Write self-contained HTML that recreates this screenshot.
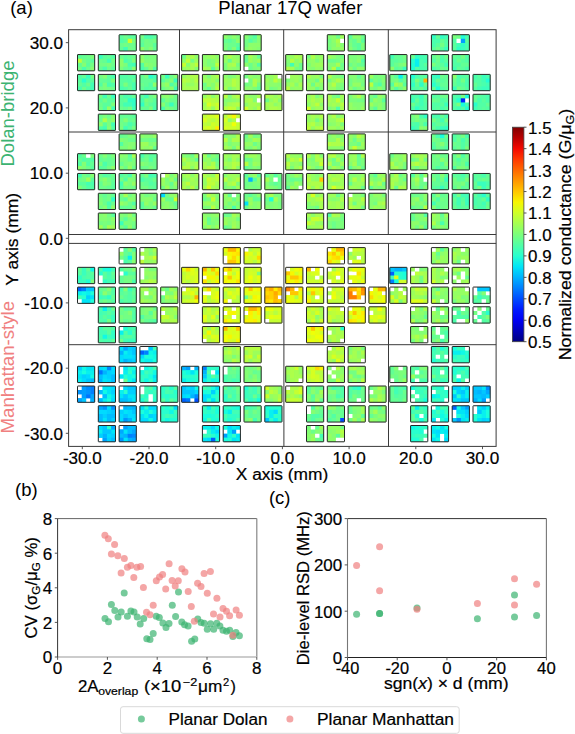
<!DOCTYPE html><html><head><meta charset="utf-8"><title>Planar 17Q wafer</title><style>
html,body{margin:0;padding:0;background:#fff;overflow:hidden}svg{display:block}
text{font-family:"Liberation Sans",sans-serif;fill:#000}.d{stroke:#000;stroke-width:0.2px}
</style></head><body>
<svg width="575" height="734" viewBox="0 0 575 734">
<defs><linearGradient id="cb" x1="0" y1="0" x2="0" y2="1"><stop offset="0.000" stop-color="#800000"/><stop offset="0.050" stop-color="#b90000"/><stop offset="0.100" stop-color="#f30900"/><stop offset="0.150" stop-color="#ff3900"/><stop offset="0.200" stop-color="#ff6800"/><stop offset="0.250" stop-color="#ff9700"/><stop offset="0.300" stop-color="#ffc600"/><stop offset="0.350" stop-color="#f7f600"/><stop offset="0.400" stop-color="#ceff29"/><stop offset="0.450" stop-color="#a5ff52"/><stop offset="0.500" stop-color="#7bff7b"/><stop offset="0.550" stop-color="#52ffa5"/><stop offset="0.600" stop-color="#29ffce"/><stop offset="0.650" stop-color="#00e5f7"/><stop offset="0.700" stop-color="#00b3ff"/><stop offset="0.750" stop-color="#0080ff"/><stop offset="0.800" stop-color="#004cff"/><stop offset="0.850" stop-color="#001aff"/><stop offset="0.900" stop-color="#0000f3"/><stop offset="0.950" stop-color="#0000b9"/><stop offset="1.000" stop-color="#000080"/></linearGradient></defs>
<rect x="119.10" y="34.70" width="17.20" height="16.30" fill="#63ff94"/>
<rect x="139.90" y="34.70" width="17.20" height="16.30" fill="#6bff8c"/>
<rect x="77.50" y="54.55" width="17.20" height="16.30" fill="#6bff8c"/>
<rect x="98.30" y="54.55" width="17.20" height="16.30" fill="#63ff94"/>
<rect x="119.10" y="54.55" width="17.20" height="16.30" fill="#73ff84"/>
<rect x="139.90" y="54.55" width="17.20" height="16.30" fill="#73ff84"/>
<rect x="77.50" y="74.40" width="17.20" height="16.30" fill="#52ffa5"/>
<rect x="98.30" y="74.40" width="17.20" height="16.30" fill="#63ff94"/>
<rect x="119.10" y="74.40" width="17.20" height="16.30" fill="#52ffa5"/>
<rect x="139.90" y="74.40" width="17.20" height="16.30" fill="#5aff9c"/>
<rect x="160.70" y="74.40" width="17.20" height="16.30" fill="#73ff84"/>
<rect x="98.30" y="94.25" width="17.20" height="16.30" fill="#5aff9c"/>
<rect x="119.10" y="94.25" width="17.20" height="16.30" fill="#52ffa5"/>
<rect x="139.90" y="94.25" width="17.20" height="16.30" fill="#5aff9c"/>
<rect x="160.70" y="94.25" width="17.20" height="16.30" fill="#6bff8c"/>
<rect x="98.30" y="114.10" width="17.20" height="16.30" fill="#6bff8c"/>
<rect x="119.10" y="114.10" width="17.20" height="16.30" fill="#63ff94"/>
<rect x="223.20" y="34.70" width="17.20" height="16.30" fill="#7bff7b"/>
<rect x="244.00" y="34.70" width="17.20" height="16.30" fill="#7bff7b"/>
<rect x="181.60" y="54.55" width="17.20" height="16.30" fill="#94ff63"/>
<rect x="202.40" y="54.55" width="17.20" height="16.30" fill="#8cff6b"/>
<rect x="223.20" y="54.55" width="17.20" height="16.30" fill="#8cff6b"/>
<rect x="244.00" y="54.55" width="17.20" height="16.30" fill="#7bff7b"/>
<rect x="181.60" y="74.40" width="17.20" height="16.30" fill="#a5ff52"/>
<rect x="202.40" y="74.40" width="17.20" height="16.30" fill="#94ff63"/>
<rect x="223.20" y="74.40" width="17.20" height="16.30" fill="#94ff63"/>
<rect x="244.00" y="74.40" width="17.20" height="16.30" fill="#7bff7b"/>
<rect x="264.80" y="74.40" width="17.20" height="16.30" fill="#8cff6b"/>
<rect x="202.40" y="94.25" width="17.20" height="16.30" fill="#b5ff42"/>
<rect x="223.20" y="94.25" width="17.20" height="16.30" fill="#a5ff52"/>
<rect x="244.00" y="94.25" width="17.20" height="16.30" fill="#a5ff52"/>
<rect x="264.80" y="94.25" width="17.20" height="16.30" fill="#a5ff52"/>
<rect x="202.40" y="114.10" width="17.20" height="16.30" fill="#ceff29"/>
<rect x="223.20" y="114.10" width="17.20" height="16.30" fill="#bdff3a"/>
<rect x="327.30" y="34.70" width="17.20" height="16.30" fill="#84ff73"/>
<rect x="348.10" y="34.70" width="17.20" height="16.30" fill="#6bff8c"/>
<rect x="285.70" y="54.55" width="17.20" height="16.30" fill="#8cff6b"/>
<rect x="306.50" y="54.55" width="17.20" height="16.30" fill="#94ff63"/>
<rect x="327.30" y="54.55" width="17.20" height="16.30" fill="#7bff7b"/>
<rect x="348.10" y="54.55" width="17.20" height="16.30" fill="#7bff7b"/>
<rect x="285.70" y="74.40" width="17.20" height="16.30" fill="#94ff63"/>
<rect x="306.50" y="74.40" width="17.20" height="16.30" fill="#8cff6b"/>
<rect x="327.30" y="74.40" width="17.20" height="16.30" fill="#8cff6b"/>
<rect x="348.10" y="74.40" width="17.20" height="16.30" fill="#7bff7b"/>
<rect x="368.90" y="74.40" width="17.20" height="16.30" fill="#7bff7b"/>
<rect x="306.50" y="94.25" width="17.20" height="16.30" fill="#9cff5a"/>
<rect x="327.30" y="94.25" width="17.20" height="16.30" fill="#94ff63"/>
<rect x="348.10" y="94.25" width="17.20" height="16.30" fill="#84ff73"/>
<rect x="368.90" y="94.25" width="17.20" height="16.30" fill="#7bff7b"/>
<rect x="306.50" y="114.10" width="17.20" height="16.30" fill="#9cff5a"/>
<rect x="327.30" y="114.10" width="17.20" height="16.30" fill="#94ff63"/>
<rect x="431.40" y="34.70" width="17.20" height="16.30" fill="#52ffa5"/>
<rect x="452.20" y="34.70" width="17.20" height="16.30" fill="#4affad"/>
<rect x="389.80" y="54.55" width="17.20" height="16.30" fill="#6bff8c"/>
<rect x="410.60" y="54.55" width="17.20" height="16.30" fill="#42ffb5"/>
<rect x="431.40" y="54.55" width="17.20" height="16.30" fill="#5aff9c"/>
<rect x="452.20" y="54.55" width="17.20" height="16.30" fill="#5aff9c"/>
<rect x="389.80" y="74.40" width="17.20" height="16.30" fill="#63ff94"/>
<rect x="410.60" y="74.40" width="17.20" height="16.30" fill="#52ffa5"/>
<rect x="431.40" y="74.40" width="17.20" height="16.30" fill="#52ffa5"/>
<rect x="452.20" y="74.40" width="17.20" height="16.30" fill="#5aff9c"/>
<rect x="473.00" y="74.40" width="17.20" height="16.30" fill="#4affad"/>
<rect x="410.60" y="94.25" width="17.20" height="16.30" fill="#52ffa5"/>
<rect x="431.40" y="94.25" width="17.20" height="16.30" fill="#5aff9c"/>
<rect x="452.20" y="94.25" width="17.20" height="16.30" fill="#4affad"/>
<rect x="473.00" y="94.25" width="17.20" height="16.30" fill="#52ffa5"/>
<rect x="410.60" y="114.10" width="17.20" height="16.30" fill="#5aff9c"/>
<rect x="431.40" y="114.10" width="17.20" height="16.30" fill="#5aff9c"/>
<rect x="119.10" y="133.90" width="17.20" height="16.30" fill="#7bff7b"/>
<rect x="139.90" y="133.90" width="17.20" height="16.30" fill="#7bff7b"/>
<rect x="77.50" y="153.68" width="17.20" height="16.30" fill="#63ff94"/>
<rect x="98.30" y="153.68" width="17.20" height="16.30" fill="#63ff94"/>
<rect x="119.10" y="153.68" width="17.20" height="16.30" fill="#7bff7b"/>
<rect x="139.90" y="153.68" width="17.20" height="16.30" fill="#6bff8c"/>
<rect x="77.50" y="173.46" width="17.20" height="16.30" fill="#73ff84"/>
<rect x="98.30" y="173.46" width="17.20" height="16.30" fill="#63ff94"/>
<rect x="119.10" y="173.46" width="17.20" height="16.30" fill="#6bff8c"/>
<rect x="139.90" y="173.46" width="17.20" height="16.30" fill="#63ff94"/>
<rect x="160.70" y="173.46" width="17.20" height="16.30" fill="#84ff73"/>
<rect x="98.30" y="193.24" width="17.20" height="16.30" fill="#6bff8c"/>
<rect x="119.10" y="193.24" width="17.20" height="16.30" fill="#73ff84"/>
<rect x="139.90" y="193.24" width="17.20" height="16.30" fill="#7bff7b"/>
<rect x="160.70" y="193.24" width="17.20" height="16.30" fill="#7bff7b"/>
<rect x="98.30" y="213.02" width="17.20" height="16.30" fill="#7bff7b"/>
<rect x="119.10" y="213.02" width="17.20" height="16.30" fill="#73ff84"/>
<rect x="223.20" y="133.90" width="17.20" height="16.30" fill="#9cff5a"/>
<rect x="244.00" y="133.90" width="17.20" height="16.30" fill="#8cff6b"/>
<rect x="181.60" y="153.68" width="17.20" height="16.30" fill="#94ff63"/>
<rect x="202.40" y="153.68" width="17.20" height="16.30" fill="#8cff6b"/>
<rect x="223.20" y="153.68" width="17.20" height="16.30" fill="#94ff63"/>
<rect x="244.00" y="153.68" width="17.20" height="16.30" fill="#84ff73"/>
<rect x="181.60" y="173.46" width="17.20" height="16.30" fill="#9cff5a"/>
<rect x="202.40" y="173.46" width="17.20" height="16.30" fill="#a5ff52"/>
<rect x="223.20" y="173.46" width="17.20" height="16.30" fill="#94ff63"/>
<rect x="244.00" y="173.46" width="17.20" height="16.30" fill="#7bff7b"/>
<rect x="264.80" y="173.46" width="17.20" height="16.30" fill="#7bff7b"/>
<rect x="202.40" y="193.24" width="17.20" height="16.30" fill="#94ff63"/>
<rect x="223.20" y="193.24" width="17.20" height="16.30" fill="#84ff73"/>
<rect x="244.00" y="193.24" width="17.20" height="16.30" fill="#7bff7b"/>
<rect x="264.80" y="193.24" width="17.20" height="16.30" fill="#8cff6b"/>
<rect x="202.40" y="213.02" width="17.20" height="16.30" fill="#8cff6b"/>
<rect x="223.20" y="213.02" width="17.20" height="16.30" fill="#8cff6b"/>
<rect x="327.30" y="133.90" width="17.20" height="16.30" fill="#8cff6b"/>
<rect x="348.10" y="133.90" width="17.20" height="16.30" fill="#94ff63"/>
<rect x="285.70" y="153.68" width="17.20" height="16.30" fill="#94ff63"/>
<rect x="306.50" y="153.68" width="17.20" height="16.30" fill="#94ff63"/>
<rect x="327.30" y="153.68" width="17.20" height="16.30" fill="#94ff63"/>
<rect x="348.10" y="153.68" width="17.20" height="16.30" fill="#8cff6b"/>
<rect x="285.70" y="173.46" width="17.20" height="16.30" fill="#7bff7b"/>
<rect x="306.50" y="173.46" width="17.20" height="16.30" fill="#a5ff52"/>
<rect x="327.30" y="173.46" width="17.20" height="16.30" fill="#9cff5a"/>
<rect x="348.10" y="173.46" width="17.20" height="16.30" fill="#94ff63"/>
<rect x="368.90" y="173.46" width="17.20" height="16.30" fill="#8cff6b"/>
<rect x="306.50" y="193.24" width="17.20" height="16.30" fill="#9cff5a"/>
<rect x="327.30" y="193.24" width="17.20" height="16.30" fill="#9cff5a"/>
<rect x="348.10" y="193.24" width="17.20" height="16.30" fill="#8cff6b"/>
<rect x="368.90" y="193.24" width="17.20" height="16.30" fill="#8cff6b"/>
<rect x="306.50" y="213.02" width="17.20" height="16.30" fill="#9cff5a"/>
<rect x="327.30" y="213.02" width="17.20" height="16.30" fill="#7bff7b"/>
<rect x="431.40" y="133.90" width="17.20" height="16.30" fill="#63ff94"/>
<rect x="452.20" y="133.90" width="17.20" height="16.30" fill="#63ff94"/>
<rect x="389.80" y="153.68" width="17.20" height="16.30" fill="#8cff6b"/>
<rect x="410.60" y="153.68" width="17.20" height="16.30" fill="#8cff6b"/>
<rect x="431.40" y="153.68" width="17.20" height="16.30" fill="#6bff8c"/>
<rect x="452.20" y="153.68" width="17.20" height="16.30" fill="#6bff8c"/>
<rect x="389.80" y="173.46" width="17.20" height="16.30" fill="#94ff63"/>
<rect x="410.60" y="173.46" width="17.20" height="16.30" fill="#7bff7b"/>
<rect x="431.40" y="173.46" width="17.20" height="16.30" fill="#63ff94"/>
<rect x="452.20" y="173.46" width="17.20" height="16.30" fill="#63ff94"/>
<rect x="473.00" y="173.46" width="17.20" height="16.30" fill="#52ffa5"/>
<rect x="410.60" y="193.24" width="17.20" height="16.30" fill="#7bff7b"/>
<rect x="431.40" y="193.24" width="17.20" height="16.30" fill="#63ff94"/>
<rect x="452.20" y="193.24" width="17.20" height="16.30" fill="#5aff9c"/>
<rect x="473.00" y="193.24" width="17.20" height="16.30" fill="#5aff9c"/>
<rect x="410.60" y="213.02" width="17.20" height="16.30" fill="#7bff7b"/>
<rect x="431.40" y="213.02" width="17.20" height="16.30" fill="#8cff6b"/>
<rect x="119.10" y="247.60" width="17.20" height="16.30" fill="#6bff8c"/>
<rect x="139.90" y="247.60" width="17.20" height="16.30" fill="#9cff5a"/>
<rect x="77.50" y="267.33" width="17.20" height="16.30" fill="#4affad"/>
<rect x="98.30" y="267.33" width="17.20" height="16.30" fill="#4affad"/>
<rect x="119.10" y="267.33" width="17.20" height="16.30" fill="#6bff8c"/>
<rect x="139.90" y="267.33" width="17.20" height="16.30" fill="#94ff63"/>
<rect x="77.50" y="287.06" width="17.20" height="16.30" fill="#19ffde"/>
<rect x="98.30" y="287.06" width="17.20" height="16.30" fill="#63ff94"/>
<rect x="119.10" y="287.06" width="17.20" height="16.30" fill="#5aff9c"/>
<rect x="139.90" y="287.06" width="17.20" height="16.30" fill="#8cff6b"/>
<rect x="160.70" y="287.06" width="17.20" height="16.30" fill="#8cff6b"/>
<rect x="98.30" y="306.79" width="17.20" height="16.30" fill="#52ffa5"/>
<rect x="119.10" y="306.79" width="17.20" height="16.30" fill="#63ff94"/>
<rect x="139.90" y="306.79" width="17.20" height="16.30" fill="#6bff8c"/>
<rect x="160.70" y="306.79" width="17.20" height="16.30" fill="#a5ff52"/>
<rect x="98.30" y="326.52" width="17.20" height="16.30" fill="#4affad"/>
<rect x="119.10" y="326.52" width="17.20" height="16.30" fill="#42ffb5"/>
<rect x="223.20" y="247.60" width="17.20" height="16.30" fill="#f7f600"/>
<rect x="244.00" y="247.60" width="17.20" height="16.30" fill="#d6ff21"/>
<rect x="181.60" y="267.33" width="17.20" height="16.30" fill="#ceff29"/>
<rect x="202.40" y="267.33" width="17.20" height="16.30" fill="#e6ff10"/>
<rect x="223.20" y="267.33" width="17.20" height="16.30" fill="#e6ff10"/>
<rect x="244.00" y="267.33" width="17.20" height="16.30" fill="#ceff29"/>
<rect x="181.60" y="287.06" width="17.20" height="16.30" fill="#ceff29"/>
<rect x="202.40" y="287.06" width="17.20" height="16.30" fill="#ceff29"/>
<rect x="223.20" y="287.06" width="17.20" height="16.30" fill="#ceff29"/>
<rect x="244.00" y="287.06" width="17.20" height="16.30" fill="#e6ff10"/>
<rect x="264.80" y="287.06" width="17.20" height="16.30" fill="#ffc600"/>
<rect x="202.40" y="306.79" width="17.20" height="16.30" fill="#bdff3a"/>
<rect x="223.20" y="306.79" width="17.20" height="16.30" fill="#deff19"/>
<rect x="244.00" y="306.79" width="17.20" height="16.30" fill="#efff08"/>
<rect x="264.80" y="306.79" width="17.20" height="16.30" fill="#ceff29"/>
<rect x="202.40" y="326.52" width="17.20" height="16.30" fill="#bdff3a"/>
<rect x="223.20" y="326.52" width="17.20" height="16.30" fill="#deff19"/>
<rect x="327.30" y="247.60" width="17.20" height="16.30" fill="#f7f600"/>
<rect x="348.10" y="247.60" width="17.20" height="16.30" fill="#bdff3a"/>
<rect x="285.70" y="267.33" width="17.20" height="16.30" fill="#e6ff10"/>
<rect x="306.50" y="267.33" width="17.20" height="16.30" fill="#ceff29"/>
<rect x="327.30" y="267.33" width="17.20" height="16.30" fill="#ceff29"/>
<rect x="348.10" y="267.33" width="17.20" height="16.30" fill="#deff19"/>
<rect x="285.70" y="287.06" width="17.20" height="16.30" fill="#e6ff10"/>
<rect x="306.50" y="287.06" width="17.20" height="16.30" fill="#deff19"/>
<rect x="327.30" y="287.06" width="17.20" height="16.30" fill="#ceff29"/>
<rect x="348.10" y="287.06" width="17.20" height="16.30" fill="#ffc600"/>
<rect x="368.90" y="287.06" width="17.20" height="16.30" fill="#e6ff10"/>
<rect x="306.50" y="306.79" width="17.20" height="16.30" fill="#bdff3a"/>
<rect x="327.30" y="306.79" width="17.20" height="16.30" fill="#bdff3a"/>
<rect x="348.10" y="306.79" width="17.20" height="16.30" fill="#efff08"/>
<rect x="368.90" y="306.79" width="17.20" height="16.30" fill="#ceff29"/>
<rect x="306.50" y="326.52" width="17.20" height="16.30" fill="#e6ff10"/>
<rect x="327.30" y="326.52" width="17.20" height="16.30" fill="#b5ff42"/>
<rect x="431.40" y="247.60" width="17.20" height="16.30" fill="#94ff63"/>
<rect x="452.20" y="247.60" width="17.20" height="16.30" fill="#94ff63"/>
<rect x="389.80" y="267.33" width="17.20" height="16.30" fill="#29ffce"/>
<rect x="410.60" y="267.33" width="17.20" height="16.30" fill="#94ff63"/>
<rect x="431.40" y="267.33" width="17.20" height="16.30" fill="#94ff63"/>
<rect x="452.20" y="267.33" width="17.20" height="16.30" fill="#8cff6b"/>
<rect x="389.80" y="287.06" width="17.20" height="16.30" fill="#adff4a"/>
<rect x="410.60" y="287.06" width="17.20" height="16.30" fill="#9cff5a"/>
<rect x="431.40" y="287.06" width="17.20" height="16.30" fill="#8cff6b"/>
<rect x="452.20" y="287.06" width="17.20" height="16.30" fill="#84ff73"/>
<rect x="473.00" y="287.06" width="17.20" height="16.30" fill="#52ffa5"/>
<rect x="410.60" y="306.79" width="17.20" height="16.30" fill="#94ff63"/>
<rect x="431.40" y="306.79" width="17.20" height="16.30" fill="#8cff6b"/>
<rect x="452.20" y="306.79" width="17.20" height="16.30" fill="#63ff94"/>
<rect x="473.00" y="306.79" width="17.20" height="16.30" fill="#63ff94"/>
<rect x="410.60" y="326.52" width="17.20" height="16.30" fill="#94ff63"/>
<rect x="431.40" y="326.52" width="17.20" height="16.30" fill="#63ff94"/>
<rect x="119.10" y="346.50" width="17.20" height="16.30" fill="#00d1ff"/>
<rect x="139.90" y="346.50" width="17.20" height="16.30" fill="#19ffde"/>
<rect x="77.50" y="366.25" width="17.20" height="16.30" fill="#00e5f7"/>
<rect x="98.30" y="366.25" width="17.20" height="16.30" fill="#00d1ff"/>
<rect x="119.10" y="366.25" width="17.20" height="16.30" fill="#10fae6"/>
<rect x="139.90" y="366.25" width="17.20" height="16.30" fill="#29ffce"/>
<rect x="77.50" y="386.00" width="17.20" height="16.30" fill="#009eff"/>
<rect x="98.30" y="386.00" width="17.20" height="16.30" fill="#00dbff"/>
<rect x="119.10" y="386.00" width="17.20" height="16.30" fill="#00d1ff"/>
<rect x="139.90" y="386.00" width="17.20" height="16.30" fill="#3affbd"/>
<rect x="160.70" y="386.00" width="17.20" height="16.30" fill="#3affbd"/>
<rect x="98.30" y="405.75" width="17.20" height="16.30" fill="#00c7ff"/>
<rect x="119.10" y="405.75" width="17.20" height="16.30" fill="#00d1ff"/>
<rect x="139.90" y="405.75" width="17.20" height="16.30" fill="#00e5f7"/>
<rect x="160.70" y="405.75" width="17.20" height="16.30" fill="#29ffce"/>
<rect x="98.30" y="425.50" width="17.20" height="16.30" fill="#00d1ff"/>
<rect x="119.10" y="425.50" width="17.20" height="16.30" fill="#00b3ff"/>
<rect x="223.20" y="346.50" width="17.20" height="16.30" fill="#9cff5a"/>
<rect x="244.00" y="346.50" width="17.20" height="16.30" fill="#a5ff52"/>
<rect x="181.60" y="366.25" width="17.20" height="16.30" fill="#19ffde"/>
<rect x="202.40" y="366.25" width="17.20" height="16.30" fill="#29ffce"/>
<rect x="223.20" y="366.25" width="17.20" height="16.30" fill="#5aff9c"/>
<rect x="244.00" y="366.25" width="17.20" height="16.30" fill="#7bff7b"/>
<rect x="181.60" y="386.00" width="17.20" height="16.30" fill="#00d1ff"/>
<rect x="202.40" y="386.00" width="17.20" height="16.30" fill="#19ffde"/>
<rect x="223.20" y="386.00" width="17.20" height="16.30" fill="#52ffa5"/>
<rect x="244.00" y="386.00" width="17.20" height="16.30" fill="#42ffb5"/>
<rect x="264.80" y="386.00" width="17.20" height="16.30" fill="#a5ff52"/>
<rect x="202.40" y="405.75" width="17.20" height="16.30" fill="#29ffce"/>
<rect x="223.20" y="405.75" width="17.20" height="16.30" fill="#29ffce"/>
<rect x="244.00" y="405.75" width="17.20" height="16.30" fill="#63ff94"/>
<rect x="264.80" y="405.75" width="17.20" height="16.30" fill="#19ffde"/>
<rect x="202.40" y="425.50" width="17.20" height="16.30" fill="#19ffde"/>
<rect x="223.20" y="425.50" width="17.20" height="16.30" fill="#08f0ef"/>
<rect x="327.30" y="346.50" width="17.20" height="16.30" fill="#bdff3a"/>
<rect x="348.10" y="346.50" width="17.20" height="16.30" fill="#9cff5a"/>
<rect x="285.70" y="366.25" width="17.20" height="16.30" fill="#9cff5a"/>
<rect x="306.50" y="366.25" width="17.20" height="16.30" fill="#ceff29"/>
<rect x="327.30" y="366.25" width="17.20" height="16.30" fill="#94ff63"/>
<rect x="348.10" y="366.25" width="17.20" height="16.30" fill="#94ff63"/>
<rect x="285.70" y="386.00" width="17.20" height="16.30" fill="#b5ff42"/>
<rect x="306.50" y="386.00" width="17.20" height="16.30" fill="#7bff7b"/>
<rect x="327.30" y="386.00" width="17.20" height="16.30" fill="#6bff8c"/>
<rect x="348.10" y="386.00" width="17.20" height="16.30" fill="#63ff94"/>
<rect x="368.90" y="386.00" width="17.20" height="16.30" fill="#8cff6b"/>
<rect x="306.50" y="405.75" width="17.20" height="16.30" fill="#6bff8c"/>
<rect x="327.30" y="405.75" width="17.20" height="16.30" fill="#6bff8c"/>
<rect x="348.10" y="405.75" width="17.20" height="16.30" fill="#7bff7b"/>
<rect x="368.90" y="405.75" width="17.20" height="16.30" fill="#7bff7b"/>
<rect x="306.50" y="425.50" width="17.20" height="16.30" fill="#7bff7b"/>
<rect x="327.30" y="425.50" width="17.20" height="16.30" fill="#8cff6b"/>
<rect x="431.40" y="346.50" width="17.20" height="16.30" fill="#42ffb5"/>
<rect x="452.20" y="346.50" width="17.20" height="16.30" fill="#29ffce"/>
<rect x="389.80" y="366.25" width="17.20" height="16.30" fill="#7bff7b"/>
<rect x="410.60" y="366.25" width="17.20" height="16.30" fill="#63ff94"/>
<rect x="431.40" y="366.25" width="17.20" height="16.30" fill="#42ffb5"/>
<rect x="452.20" y="366.25" width="17.20" height="16.30" fill="#29ffce"/>
<rect x="389.80" y="386.00" width="17.20" height="16.30" fill="#63ff94"/>
<rect x="410.60" y="386.00" width="17.20" height="16.30" fill="#42ffb5"/>
<rect x="431.40" y="386.00" width="17.20" height="16.30" fill="#31ffc5"/>
<rect x="452.20" y="386.00" width="17.20" height="16.30" fill="#08f0ef"/>
<rect x="473.00" y="386.00" width="17.20" height="16.30" fill="#00b3ff"/>
<rect x="410.60" y="405.75" width="17.20" height="16.30" fill="#42ffb5"/>
<rect x="431.40" y="405.75" width="17.20" height="16.30" fill="#29ffce"/>
<rect x="452.20" y="405.75" width="17.20" height="16.30" fill="#00dbff"/>
<rect x="473.00" y="405.75" width="17.20" height="16.30" fill="#08f0ef"/>
<rect x="410.60" y="425.50" width="17.20" height="16.30" fill="#29ffce"/>
<rect x="431.40" y="425.50" width="17.20" height="16.30" fill="#08f0ef"/>
<path fill="#5aff9c" d="M119.10 34.70h4.35v4.12h-4.35zM127.70 34.70h4.35v4.12h-4.35zM132.00 34.70h4.35v4.12h-4.35zM123.40 38.78h4.35v4.12h-4.35zM152.80 34.70h4.35v4.12h-4.35zM139.90 42.85h4.35v4.12h-4.35zM152.80 42.85h4.35v4.12h-4.35zM77.50 54.55h4.35v4.12h-4.35zM90.40 58.63h4.35v4.12h-4.35zM86.10 62.70h4.35v4.12h-4.35zM102.60 54.55h4.35v4.12h-4.35zM111.20 66.78h4.35v4.12h-4.35zM123.40 54.55h4.35v4.12h-4.35zM127.70 58.63h4.35v4.12h-4.35zM127.70 66.78h4.35v4.12h-4.35zM77.50 78.48h4.35v4.12h-4.35zM90.40 78.48h4.35v4.12h-4.35zM106.90 74.40h4.35v4.12h-4.35zM106.90 78.48h4.35v4.12h-4.35zM127.70 74.40h4.35v4.12h-4.35zM119.10 78.48h4.35v4.12h-4.35zM123.40 78.48h4.35v4.12h-4.35zM119.10 82.55h4.35v4.12h-4.35zM127.70 82.55h4.35v4.12h-4.35zM148.50 86.62h4.35v4.12h-4.35zM160.70 78.48h4.35v4.12h-4.35zM98.30 98.33h4.35v4.12h-4.35zM106.90 98.33h4.35v4.12h-4.35zM111.20 98.33h4.35v4.12h-4.35zM102.60 102.40h4.35v4.12h-4.35zM106.90 102.40h4.35v4.12h-4.35zM119.10 98.33h4.35v4.12h-4.35zM119.10 102.40h4.35v4.12h-4.35zM139.90 94.25h4.35v4.12h-4.35zM152.80 98.33h4.35v4.12h-4.35zM148.50 102.40h4.35v4.12h-4.35zM160.70 98.33h4.35v4.12h-4.35zM102.60 122.25h4.35v4.12h-4.35zM132.00 114.10h4.35v4.12h-4.35zM132.00 122.25h4.35v4.12h-4.35zM127.70 126.33h4.35v4.12h-4.35zM227.50 38.78h4.35v4.12h-4.35zM236.10 42.85h4.35v4.12h-4.35zM211.00 66.78h4.35v4.12h-4.35zM348.10 34.70h4.35v4.12h-4.35zM361.00 38.78h4.35v4.12h-4.35zM356.70 42.85h4.35v4.12h-4.35zM356.70 46.93h4.35v4.12h-4.35zM335.90 66.78h4.35v4.12h-4.35zM368.90 78.48h4.35v4.12h-4.35zM381.80 98.33h4.35v4.12h-4.35zM373.20 106.47h4.35v4.12h-4.35zM435.70 42.85h4.35v4.12h-4.35zM431.40 46.93h4.35v4.12h-4.35zM440.00 46.93h4.35v4.12h-4.35zM465.10 38.78h4.35v4.12h-4.35zM452.20 42.85h4.35v4.12h-4.35zM452.20 46.93h4.35v4.12h-4.35zM389.80 58.63h4.35v4.12h-4.35zM394.10 58.63h4.35v4.12h-4.35zM389.80 62.70h4.35v4.12h-4.35zM394.10 66.78h4.35v4.12h-4.35zM423.50 62.70h4.35v4.12h-4.35zM444.30 58.63h4.35v4.12h-4.35zM440.00 62.70h4.35v4.12h-4.35zM435.70 66.78h4.35v4.12h-4.35zM456.50 54.55h4.35v4.12h-4.35zM460.80 58.63h4.35v4.12h-4.35zM460.80 66.78h4.35v4.12h-4.35zM394.10 74.40h4.35v4.12h-4.35zM402.70 74.40h4.35v4.12h-4.35zM402.70 82.55h4.35v4.12h-4.35zM419.20 74.40h4.35v4.12h-4.35zM440.00 78.48h4.35v4.12h-4.35zM444.30 86.62h4.35v4.12h-4.35zM465.10 74.40h4.35v4.12h-4.35zM460.80 82.55h4.35v4.12h-4.35zM477.30 74.40h4.35v4.12h-4.35zM423.50 98.33h4.35v4.12h-4.35zM435.70 94.25h4.35v4.12h-4.35zM444.30 98.33h4.35v4.12h-4.35zM440.00 102.40h4.35v4.12h-4.35zM435.70 106.47h4.35v4.12h-4.35zM444.30 106.47h4.35v4.12h-4.35zM452.20 102.40h4.35v4.12h-4.35zM477.30 94.25h4.35v4.12h-4.35zM481.60 98.33h4.35v4.12h-4.35zM481.60 106.47h4.35v4.12h-4.35zM435.70 118.18h4.35v4.12h-4.35zM440.00 122.25h4.35v4.12h-4.35zM86.10 157.75h4.35v4.12h-4.35zM90.40 165.91h4.35v4.12h-4.35zM98.30 165.91h4.35v4.12h-4.35zM102.60 165.91h4.35v4.12h-4.35zM127.70 153.68h4.35v4.12h-4.35zM148.50 153.68h4.35v4.12h-4.35zM152.80 153.68h4.35v4.12h-4.35zM90.40 177.53h4.35v4.12h-4.35zM77.50 181.61h4.35v4.12h-4.35zM81.80 181.61h4.35v4.12h-4.35zM106.90 173.46h4.35v4.12h-4.35zM111.20 181.61h4.35v4.12h-4.35zM111.20 185.69h4.35v4.12h-4.35zM144.20 177.53h4.35v4.12h-4.35zM148.50 177.53h4.35v4.12h-4.35zM152.80 181.61h4.35v4.12h-4.35zM152.80 185.69h4.35v4.12h-4.35zM123.40 197.31h4.35v4.12h-4.35zM139.90 201.39h4.35v4.12h-4.35zM139.90 205.47h4.35v4.12h-4.35zM111.20 213.02h4.35v4.12h-4.35zM123.40 217.09h4.35v4.12h-4.35zM123.40 225.25h4.35v4.12h-4.35zM244.00 173.46h4.35v4.12h-4.35zM256.90 173.46h4.35v4.12h-4.35zM273.40 181.61h4.35v4.12h-4.35zM248.30 193.24h4.35v4.12h-4.35zM373.20 173.46h4.35v4.12h-4.35zM440.00 137.97h4.35v4.12h-4.35zM444.30 137.97h4.35v4.12h-4.35zM431.40 142.05h4.35v4.12h-4.35zM452.20 146.12h4.35v4.12h-4.35zM440.00 161.83h4.35v4.12h-4.35zM419.20 173.46h4.35v4.12h-4.35zM444.30 173.46h4.35v4.12h-4.35zM435.70 177.53h4.35v4.12h-4.35zM440.00 181.61h4.35v4.12h-4.35zM444.30 181.61h4.35v4.12h-4.35zM431.40 185.69h4.35v4.12h-4.35zM444.30 185.69h4.35v4.12h-4.35zM452.20 173.46h4.35v4.12h-4.35zM456.50 173.46h4.35v4.12h-4.35zM456.50 177.53h4.35v4.12h-4.35zM460.80 177.53h4.35v4.12h-4.35zM465.10 181.61h4.35v4.12h-4.35zM460.80 185.69h4.35v4.12h-4.35zM473.00 173.46h4.35v4.12h-4.35zM477.30 173.46h4.35v4.12h-4.35zM473.00 185.69h4.35v4.12h-4.35zM485.90 185.69h4.35v4.12h-4.35zM431.40 193.24h4.35v4.12h-4.35zM435.70 205.47h4.35v4.12h-4.35zM460.80 197.31h4.35v4.12h-4.35zM452.20 201.39h4.35v4.12h-4.35zM460.80 205.47h4.35v4.12h-4.35zM465.10 205.47h4.35v4.12h-4.35zM473.00 193.24h4.35v4.12h-4.35zM485.90 193.24h4.35v4.12h-4.35zM473.00 205.47h4.35v4.12h-4.35zM423.50 225.25h4.35v4.12h-4.35zM123.40 247.60h4.35v4.12h-4.35zM127.70 259.82h4.35v4.12h-4.35zM77.50 271.40h4.35v4.12h-4.35zM90.40 271.40h4.35v4.12h-4.35zM102.60 271.40h4.35v4.12h-4.35zM102.60 275.48h4.35v4.12h-4.35zM111.20 275.48h4.35v4.12h-4.35zM127.70 271.40h4.35v4.12h-4.35zM132.00 271.40h4.35v4.12h-4.35zM132.00 287.06h4.35v4.12h-4.35zM119.10 291.13h4.35v4.12h-4.35zM123.40 295.21h4.35v4.12h-4.35zM132.00 295.21h4.35v4.12h-4.35zM123.40 299.29h4.35v4.12h-4.35zM106.90 310.86h4.35v4.12h-4.35zM102.60 314.94h4.35v4.12h-4.35zM127.70 306.79h4.35v4.12h-4.35zM132.00 306.79h4.35v4.12h-4.35zM132.00 319.01h4.35v4.12h-4.35zM148.50 310.86h4.35v4.12h-4.35zM148.50 319.01h4.35v4.12h-4.35zM102.60 326.52h4.35v4.12h-4.35zM106.90 326.52h4.35v4.12h-4.35zM106.90 330.59h4.35v4.12h-4.35zM111.20 338.75h4.35v4.12h-4.35zM123.40 334.67h4.35v4.12h-4.35zM127.70 334.67h4.35v4.12h-4.35zM440.00 247.60h4.35v4.12h-4.35zM477.30 291.13h4.35v4.12h-4.35zM485.90 295.21h4.35v4.12h-4.35zM477.30 299.29h4.35v4.12h-4.35zM435.70 306.79h4.35v4.12h-4.35zM452.20 314.94h4.35v4.12h-4.35zM485.90 319.01h4.35v4.12h-4.35zM440.00 330.59h4.35v4.12h-4.35zM160.70 398.23h4.35v4.12h-4.35zM169.30 398.23h4.35v4.12h-4.35zM211.00 374.40h4.35v4.12h-4.35zM236.10 370.32h4.35v4.12h-4.35zM227.50 374.40h4.35v4.12h-4.35zM231.80 386.00h4.35v4.12h-4.35zM256.90 386.00h4.35v4.12h-4.35zM248.30 409.82h4.35v4.12h-4.35zM248.30 413.90h4.35v4.12h-4.35zM310.80 394.15h4.35v4.12h-4.35zM356.70 390.07h4.35v4.12h-4.35zM319.40 413.90h4.35v4.12h-4.35zM377.50 405.75h4.35v4.12h-4.35zM319.40 437.73h4.35v4.12h-4.35zM335.90 433.65h4.35v4.12h-4.35zM440.00 350.57h4.35v4.12h-4.35zM410.60 366.25h4.35v4.12h-4.35zM410.60 370.32h4.35v4.12h-4.35zM419.20 370.32h4.35v4.12h-4.35zM444.30 374.40h4.35v4.12h-4.35zM398.40 394.15h4.35v4.12h-4.35zM398.40 398.23h4.35v4.12h-4.35zM410.60 394.15h4.35v4.12h-4.35z"/>
<path fill="#6bff8c" d="M123.40 34.70h4.35v4.12h-4.35zM119.10 42.85h4.35v4.12h-4.35zM127.70 42.85h4.35v4.12h-4.35zM132.00 42.85h4.35v4.12h-4.35zM132.00 46.93h4.35v4.12h-4.35zM148.50 38.78h4.35v4.12h-4.35zM86.10 54.55h4.35v4.12h-4.35zM86.10 66.78h4.35v4.12h-4.35zM98.30 58.63h4.35v4.12h-4.35zM111.20 62.70h4.35v4.12h-4.35zM106.90 66.78h4.35v4.12h-4.35zM119.10 54.55h4.35v4.12h-4.35zM132.00 54.55h4.35v4.12h-4.35zM86.10 82.55h4.35v4.12h-4.35zM81.80 86.62h4.35v4.12h-4.35zM111.20 86.62h4.35v4.12h-4.35zM139.90 82.55h4.35v4.12h-4.35zM169.30 74.40h4.35v4.12h-4.35zM173.60 82.55h4.35v4.12h-4.35zM160.70 86.62h4.35v4.12h-4.35zM106.90 94.25h4.35v4.12h-4.35zM98.30 102.40h4.35v4.12h-4.35zM119.10 106.47h4.35v4.12h-4.35zM148.50 94.25h4.35v4.12h-4.35zM148.50 98.33h4.35v4.12h-4.35zM173.60 94.25h4.35v4.12h-4.35zM169.30 98.33h4.35v4.12h-4.35zM173.60 98.33h4.35v4.12h-4.35zM98.30 114.10h4.35v4.12h-4.35zM106.90 114.10h4.35v4.12h-4.35zM98.30 118.18h4.35v4.12h-4.35zM119.10 118.18h4.35v4.12h-4.35zM132.00 118.18h4.35v4.12h-4.35zM231.80 38.78h4.35v4.12h-4.35zM227.50 42.85h4.35v4.12h-4.35zM231.80 42.85h4.35v4.12h-4.35zM248.30 34.70h4.35v4.12h-4.35zM252.60 38.78h4.35v4.12h-4.35zM181.60 54.55h4.35v4.12h-4.35zM244.00 54.55h4.35v4.12h-4.35zM248.30 62.70h4.35v4.12h-4.35zM248.30 66.78h4.35v4.12h-4.35zM202.40 82.55h4.35v4.12h-4.35zM264.80 98.33h4.35v4.12h-4.35zM335.90 34.70h4.35v4.12h-4.35zM361.00 34.70h4.35v4.12h-4.35zM352.40 46.93h4.35v4.12h-4.35zM298.60 62.70h4.35v4.12h-4.35zM298.60 66.78h4.35v4.12h-4.35zM327.30 58.63h4.35v4.12h-4.35zM331.60 58.63h4.35v4.12h-4.35zM340.20 62.70h4.35v4.12h-4.35zM348.10 62.70h4.35v4.12h-4.35zM356.70 62.70h4.35v4.12h-4.35zM352.40 66.78h4.35v4.12h-4.35zM315.10 78.48h4.35v4.12h-4.35zM310.80 82.55h4.35v4.12h-4.35zM315.10 86.62h4.35v4.12h-4.35zM352.40 86.62h4.35v4.12h-4.35zM377.50 78.48h4.35v4.12h-4.35zM335.90 94.25h4.35v4.12h-4.35zM368.90 98.33h4.35v4.12h-4.35zM435.70 46.93h4.35v4.12h-4.35zM402.70 58.63h4.35v4.12h-4.35zM394.10 62.70h4.35v4.12h-4.35zM410.60 54.55h4.35v4.12h-4.35zM444.30 54.55h4.35v4.12h-4.35zM435.70 58.63h4.35v4.12h-4.35zM440.00 66.78h4.35v4.12h-4.35zM456.50 58.63h4.35v4.12h-4.35zM402.70 78.48h4.35v4.12h-4.35zM423.50 82.55h4.35v4.12h-4.35zM419.20 86.62h4.35v4.12h-4.35zM440.00 74.40h4.35v4.12h-4.35zM452.20 78.48h4.35v4.12h-4.35zM410.60 102.40h4.35v4.12h-4.35zM440.00 94.25h4.35v4.12h-4.35zM444.30 94.25h4.35v4.12h-4.35zM431.40 98.33h4.35v4.12h-4.35zM410.60 118.18h4.35v4.12h-4.35zM419.20 118.18h4.35v4.12h-4.35zM423.50 118.18h4.35v4.12h-4.35zM419.20 122.25h4.35v4.12h-4.35zM123.40 133.90h4.35v4.12h-4.35zM127.70 137.97h4.35v4.12h-4.35zM132.00 137.97h4.35v4.12h-4.35zM148.50 137.97h4.35v4.12h-4.35zM152.80 137.97h4.35v4.12h-4.35zM81.80 153.68h4.35v4.12h-4.35zM86.10 165.91h4.35v4.12h-4.35zM98.30 153.68h4.35v4.12h-4.35zM106.90 153.68h4.35v4.12h-4.35zM102.60 157.75h4.35v4.12h-4.35zM111.20 157.75h4.35v4.12h-4.35zM111.20 161.83h4.35v4.12h-4.35zM123.40 165.91h4.35v4.12h-4.35zM132.00 165.91h4.35v4.12h-4.35zM144.20 153.68h4.35v4.12h-4.35zM152.80 157.75h4.35v4.12h-4.35zM148.50 161.83h4.35v4.12h-4.35zM152.80 161.83h4.35v4.12h-4.35zM139.90 165.91h4.35v4.12h-4.35zM144.20 165.91h4.35v4.12h-4.35zM152.80 165.91h4.35v4.12h-4.35zM77.50 177.53h4.35v4.12h-4.35zM98.30 173.46h4.35v4.12h-4.35zM111.20 173.46h4.35v4.12h-4.35zM98.30 185.69h4.35v4.12h-4.35zM102.60 185.69h4.35v4.12h-4.35zM132.00 185.69h4.35v4.12h-4.35zM152.80 177.53h4.35v4.12h-4.35zM139.90 181.61h4.35v4.12h-4.35zM173.60 177.53h4.35v4.12h-4.35zM102.60 197.31h4.35v4.12h-4.35zM102.60 201.39h4.35v4.12h-4.35zM111.20 201.39h4.35v4.12h-4.35zM119.10 197.31h4.35v4.12h-4.35zM127.70 201.39h4.35v4.12h-4.35zM152.80 197.31h4.35v4.12h-4.35zM165.00 197.31h4.35v4.12h-4.35zM132.00 225.25h4.35v4.12h-4.35zM244.00 133.90h4.35v4.12h-4.35zM252.60 142.05h4.35v4.12h-4.35zM190.20 153.68h4.35v4.12h-4.35zM206.70 153.68h4.35v4.12h-4.35zM244.00 157.75h4.35v4.12h-4.35zM248.30 157.75h4.35v4.12h-4.35zM244.00 181.61h4.35v4.12h-4.35zM269.10 181.61h4.35v4.12h-4.35zM277.70 181.61h4.35v4.12h-4.35zM277.70 185.69h4.35v4.12h-4.35zM202.40 197.31h4.35v4.12h-4.35zM231.80 197.31h4.35v4.12h-4.35zM244.00 193.24h4.35v4.12h-4.35zM244.00 205.47h4.35v4.12h-4.35zM264.80 197.31h4.35v4.12h-4.35zM206.70 221.17h4.35v4.12h-4.35zM223.20 213.02h4.35v4.12h-4.35zM227.50 213.02h4.35v4.12h-4.35zM352.40 137.97h4.35v4.12h-4.35zM356.70 142.05h4.35v4.12h-4.35zM331.60 157.75h4.35v4.12h-4.35zM356.70 157.75h4.35v4.12h-4.35zM356.70 161.83h4.35v4.12h-4.35zM361.00 165.91h4.35v4.12h-4.35zM294.30 177.53h4.35v4.12h-4.35zM298.60 177.53h4.35v4.12h-4.35zM361.00 185.69h4.35v4.12h-4.35zM381.80 181.61h4.35v4.12h-4.35zM315.10 205.47h4.35v4.12h-4.35zM335.90 193.24h4.35v4.12h-4.35zM352.40 201.39h4.35v4.12h-4.35zM331.60 221.17h4.35v4.12h-4.35zM331.60 225.25h4.35v4.12h-4.35zM431.40 133.90h4.35v4.12h-4.35zM444.30 133.90h4.35v4.12h-4.35zM435.70 137.97h4.35v4.12h-4.35zM435.70 146.12h4.35v4.12h-4.35zM456.50 137.97h4.35v4.12h-4.35zM452.20 142.05h4.35v4.12h-4.35zM456.50 146.12h4.35v4.12h-4.35zM389.80 153.68h4.35v4.12h-4.35zM410.60 157.75h4.35v4.12h-4.35zM431.40 153.68h4.35v4.12h-4.35zM440.00 153.68h4.35v4.12h-4.35zM444.30 153.68h4.35v4.12h-4.35zM435.70 157.75h4.35v4.12h-4.35zM431.40 161.83h4.35v4.12h-4.35zM435.70 161.83h4.35v4.12h-4.35zM431.40 165.91h4.35v4.12h-4.35zM444.30 165.91h4.35v4.12h-4.35zM452.20 157.75h4.35v4.12h-4.35zM460.80 157.75h4.35v4.12h-4.35zM465.10 157.75h4.35v4.12h-4.35zM465.10 165.91h4.35v4.12h-4.35zM398.40 173.46h4.35v4.12h-4.35zM402.70 177.53h4.35v4.12h-4.35zM419.20 181.61h4.35v4.12h-4.35zM423.50 181.61h4.35v4.12h-4.35zM431.40 173.46h4.35v4.12h-4.35zM481.60 177.53h4.35v4.12h-4.35zM410.60 193.24h4.35v4.12h-4.35zM414.90 193.24h4.35v4.12h-4.35zM419.20 197.31h4.35v4.12h-4.35zM419.20 205.47h4.35v4.12h-4.35zM444.30 193.24h4.35v4.12h-4.35zM444.30 197.31h4.35v4.12h-4.35zM435.70 201.39h4.35v4.12h-4.35zM440.00 201.39h4.35v4.12h-4.35zM444.30 201.39h4.35v4.12h-4.35zM440.00 205.47h4.35v4.12h-4.35zM485.90 205.47h4.35v4.12h-4.35zM410.60 213.02h4.35v4.12h-4.35zM123.40 267.33h4.35v4.12h-4.35zM127.70 267.33h4.35v4.12h-4.35zM132.00 275.48h4.35v4.12h-4.35zM102.60 287.06h4.35v4.12h-4.35zM106.90 291.13h4.35v4.12h-4.35zM119.10 295.21h4.35v4.12h-4.35zM165.00 287.06h4.35v4.12h-4.35zM160.70 295.21h4.35v4.12h-4.35zM111.20 306.79h4.35v4.12h-4.35zM119.10 310.86h4.35v4.12h-4.35zM127.70 319.01h4.35v4.12h-4.35zM152.80 306.79h4.35v4.12h-4.35zM119.10 338.75h4.35v4.12h-4.35zM244.00 295.21h4.35v4.12h-4.35zM456.50 259.82h4.35v4.12h-4.35zM419.20 279.56h4.35v4.12h-4.35zM456.50 271.40h4.35v4.12h-4.35zM473.00 295.21h4.35v4.12h-4.35zM485.90 299.29h4.35v4.12h-4.35zM440.00 314.94h4.35v4.12h-4.35zM456.50 306.79h4.35v4.12h-4.35zM460.80 310.86h4.35v4.12h-4.35zM444.30 326.52h4.35v4.12h-4.35zM435.70 334.67h4.35v4.12h-4.35zM444.30 338.75h4.35v4.12h-4.35zM123.40 378.48h4.35v4.12h-4.35zM227.50 370.32h4.35v4.12h-4.35zM231.80 370.32h4.35v4.12h-4.35zM256.90 370.32h4.35v4.12h-4.35zM248.30 374.40h4.35v4.12h-4.35zM256.90 374.40h4.35v4.12h-4.35zM236.10 390.07h4.35v4.12h-4.35zM227.50 394.15h4.35v4.12h-4.35zM252.60 394.15h4.35v4.12h-4.35zM244.00 413.90h4.35v4.12h-4.35zM256.90 417.98h4.35v4.12h-4.35zM356.70 374.40h4.35v4.12h-4.35zM315.10 386.00h4.35v4.12h-4.35zM327.30 386.00h4.35v4.12h-4.35zM327.30 394.15h4.35v4.12h-4.35zM327.30 398.23h4.35v4.12h-4.35zM335.90 398.23h4.35v4.12h-4.35zM361.00 386.00h4.35v4.12h-4.35zM361.00 390.07h4.35v4.12h-4.35zM361.00 394.15h4.35v4.12h-4.35zM348.10 398.23h4.35v4.12h-4.35zM361.00 398.23h4.35v4.12h-4.35zM368.90 386.00h4.35v4.12h-4.35zM306.50 413.90h4.35v4.12h-4.35zM315.10 417.98h4.35v4.12h-4.35zM335.90 405.75h4.35v4.12h-4.35zM335.90 409.82h4.35v4.12h-4.35zM327.30 413.90h4.35v4.12h-4.35zM348.10 405.75h4.35v4.12h-4.35zM368.90 405.75h4.35v4.12h-4.35zM310.80 429.57h4.35v4.12h-4.35zM315.10 437.73h4.35v4.12h-4.35zM402.70 366.25h4.35v4.12h-4.35zM394.10 374.40h4.35v4.12h-4.35zM402.70 374.40h4.35v4.12h-4.35zM423.50 370.32h4.35v4.12h-4.35zM423.50 374.40h4.35v4.12h-4.35zM402.70 390.07h4.35v4.12h-4.35z"/>
<path fill="#52ffa5" d="M119.10 38.78h4.35v4.12h-4.35zM111.20 54.55h4.35v4.12h-4.35zM139.90 62.70h4.35v4.12h-4.35zM152.80 66.78h4.35v4.12h-4.35zM77.50 74.40h4.35v4.12h-4.35zM86.10 78.48h4.35v4.12h-4.35zM81.80 82.55h4.35v4.12h-4.35zM86.10 86.62h4.35v4.12h-4.35zM98.30 82.55h4.35v4.12h-4.35zM111.20 82.55h4.35v4.12h-4.35zM119.10 74.40h4.35v4.12h-4.35zM123.40 74.40h4.35v4.12h-4.35zM132.00 74.40h4.35v4.12h-4.35zM127.70 78.48h4.35v4.12h-4.35zM123.40 86.62h4.35v4.12h-4.35zM152.80 78.48h4.35v4.12h-4.35zM148.50 82.55h4.35v4.12h-4.35zM144.20 86.62h4.35v4.12h-4.35zM152.80 86.62h4.35v4.12h-4.35zM169.30 82.55h4.35v4.12h-4.35zM102.60 106.47h4.35v4.12h-4.35zM127.70 94.25h4.35v4.12h-4.35zM152.80 102.40h4.35v4.12h-4.35zM98.30 126.33h4.35v4.12h-4.35zM111.20 126.33h4.35v4.12h-4.35zM252.60 34.70h4.35v4.12h-4.35zM248.30 38.78h4.35v4.12h-4.35zM256.90 62.70h4.35v4.12h-4.35zM361.00 58.63h4.35v4.12h-4.35zM377.50 82.55h4.35v4.12h-4.35zM335.90 106.47h4.35v4.12h-4.35zM444.30 38.78h4.35v4.12h-4.35zM444.30 42.85h4.35v4.12h-4.35zM452.20 38.78h4.35v4.12h-4.35zM414.90 66.78h4.35v4.12h-4.35zM440.00 54.55h4.35v4.12h-4.35zM431.40 58.63h4.35v4.12h-4.35zM465.10 54.55h4.35v4.12h-4.35zM452.20 58.63h4.35v4.12h-4.35zM465.10 58.63h4.35v4.12h-4.35zM452.20 62.70h4.35v4.12h-4.35zM456.50 62.70h4.35v4.12h-4.35zM398.40 78.48h4.35v4.12h-4.35zM389.80 82.55h4.35v4.12h-4.35zM394.10 86.62h4.35v4.12h-4.35zM423.50 74.40h4.35v4.12h-4.35zM419.20 78.48h4.35v4.12h-4.35zM414.90 86.62h4.35v4.12h-4.35zM423.50 86.62h4.35v4.12h-4.35zM440.00 86.62h4.35v4.12h-4.35zM460.80 74.40h4.35v4.12h-4.35zM456.50 78.48h4.35v4.12h-4.35zM456.50 82.55h4.35v4.12h-4.35zM465.10 86.62h4.35v4.12h-4.35zM473.00 78.48h4.35v4.12h-4.35zM477.30 78.48h4.35v4.12h-4.35zM477.30 82.55h4.35v4.12h-4.35zM473.00 86.62h4.35v4.12h-4.35zM414.90 102.40h4.35v4.12h-4.35zM423.50 102.40h4.35v4.12h-4.35zM410.60 106.47h4.35v4.12h-4.35zM423.50 106.47h4.35v4.12h-4.35zM431.40 94.25h4.35v4.12h-4.35zM440.00 98.33h4.35v4.12h-4.35zM431.40 102.40h4.35v4.12h-4.35zM435.70 102.40h4.35v4.12h-4.35zM431.40 106.47h4.35v4.12h-4.35zM452.20 94.25h4.35v4.12h-4.35zM452.20 106.47h4.35v4.12h-4.35zM460.80 106.47h4.35v4.12h-4.35zM481.60 94.25h4.35v4.12h-4.35zM477.30 102.40h4.35v4.12h-4.35zM481.60 102.40h4.35v4.12h-4.35zM477.30 106.47h4.35v4.12h-4.35zM485.90 106.47h4.35v4.12h-4.35zM410.60 122.25h4.35v4.12h-4.35zM431.40 122.25h4.35v4.12h-4.35zM444.30 122.25h4.35v4.12h-4.35zM119.10 142.05h4.35v4.12h-4.35zM77.50 153.68h4.35v4.12h-4.35zM81.80 157.75h4.35v4.12h-4.35zM90.40 157.75h4.35v4.12h-4.35zM77.50 161.83h4.35v4.12h-4.35zM86.10 161.83h4.35v4.12h-4.35zM148.50 157.75h4.35v4.12h-4.35zM86.10 185.69h4.35v4.12h-4.35zM90.40 185.69h4.35v4.12h-4.35zM102.60 173.46h4.35v4.12h-4.35zM119.10 173.46h4.35v4.12h-4.35zM123.40 177.53h4.35v4.12h-4.35zM119.10 185.69h4.35v4.12h-4.35zM148.50 181.61h4.35v4.12h-4.35zM106.90 205.47h4.35v4.12h-4.35zM132.00 201.39h4.35v4.12h-4.35zM252.60 177.53h4.35v4.12h-4.35zM273.40 173.46h4.35v4.12h-4.35zM327.30 213.02h4.35v4.12h-4.35zM431.40 146.12h4.35v4.12h-4.35zM444.30 146.12h4.35v4.12h-4.35zM452.20 133.90h4.35v4.12h-4.35zM452.20 137.97h4.35v4.12h-4.35zM460.80 142.05h4.35v4.12h-4.35zM460.80 146.12h4.35v4.12h-4.35zM435.70 165.91h4.35v4.12h-4.35zM460.80 153.68h4.35v4.12h-4.35zM456.50 157.75h4.35v4.12h-4.35zM452.20 165.91h4.35v4.12h-4.35zM410.60 173.46h4.35v4.12h-4.35zM435.70 185.69h4.35v4.12h-4.35zM473.00 177.53h4.35v4.12h-4.35zM435.70 197.31h4.35v4.12h-4.35zM456.50 205.47h4.35v4.12h-4.35zM477.30 197.31h4.35v4.12h-4.35zM477.30 201.39h4.35v4.12h-4.35zM423.50 213.02h4.35v4.12h-4.35zM132.00 247.60h4.35v4.12h-4.35zM127.70 251.67h4.35v4.12h-4.35zM123.40 255.75h4.35v4.12h-4.35zM86.10 271.40h4.35v4.12h-4.35zM86.10 275.48h4.35v4.12h-4.35zM90.40 275.48h4.35v4.12h-4.35zM119.10 267.33h4.35v4.12h-4.35zM111.20 287.06h4.35v4.12h-4.35zM98.30 291.13h4.35v4.12h-4.35zM111.20 291.13h4.35v4.12h-4.35zM111.20 299.29h4.35v4.12h-4.35zM127.70 291.13h4.35v4.12h-4.35zM127.70 295.21h4.35v4.12h-4.35zM127.70 299.29h4.35v4.12h-4.35zM98.30 319.01h4.35v4.12h-4.35zM123.40 306.79h4.35v4.12h-4.35zM132.00 310.86h4.35v4.12h-4.35zM132.00 314.94h4.35v4.12h-4.35zM139.90 314.94h4.35v4.12h-4.35zM152.80 319.01h4.35v4.12h-4.35zM111.20 326.52h4.35v4.12h-4.35zM98.30 338.75h4.35v4.12h-4.35zM123.40 330.59h4.35v4.12h-4.35zM132.00 330.59h4.35v4.12h-4.35zM481.60 295.21h4.35v4.12h-4.35zM473.00 299.29h4.35v4.12h-4.35zM456.50 314.94h4.35v4.12h-4.35zM460.80 314.94h4.35v4.12h-4.35zM465.10 314.94h4.35v4.12h-4.35zM481.60 310.86h4.35v4.12h-4.35zM481.60 319.01h4.35v4.12h-4.35zM444.30 334.67h4.35v4.12h-4.35zM148.50 386.00h4.35v4.12h-4.35zM173.60 386.00h4.35v4.12h-4.35zM206.70 370.32h4.35v4.12h-4.35zM236.10 374.40h4.35v4.12h-4.35zM227.50 378.48h4.35v4.12h-4.35zM227.50 390.07h4.35v4.12h-4.35zM244.00 398.23h4.35v4.12h-4.35zM236.10 417.98h4.35v4.12h-4.35zM252.60 405.75h4.35v4.12h-4.35zM306.50 386.00h4.35v4.12h-4.35zM335.90 386.00h4.35v4.12h-4.35zM340.20 390.07h4.35v4.12h-4.35zM340.20 394.15h4.35v4.12h-4.35zM348.10 390.07h4.35v4.12h-4.35zM348.10 394.15h4.35v4.12h-4.35zM310.80 405.75h4.35v4.12h-4.35zM310.80 413.90h4.35v4.12h-4.35zM315.10 413.90h4.35v4.12h-4.35zM310.80 417.98h4.35v4.12h-4.35zM331.60 413.90h4.35v4.12h-4.35zM327.30 417.98h4.35v4.12h-4.35zM435.70 346.50h4.35v4.12h-4.35zM440.00 354.65h4.35v4.12h-4.35zM444.30 358.73h4.35v4.12h-4.35zM435.70 378.48h4.35v4.12h-4.35zM460.80 378.48h4.35v4.12h-4.35zM398.40 386.00h4.35v4.12h-4.35zM398.40 390.07h4.35v4.12h-4.35zM394.10 394.15h4.35v4.12h-4.35zM414.90 409.82h4.35v4.12h-4.35zM419.20 409.82h4.35v4.12h-4.35z"/>
<path fill="#ceff29" d="M127.70 38.78h4.35v4.12h-4.35zM215.30 102.40h4.35v4.12h-4.35zM244.00 106.47h4.35v4.12h-4.35zM206.70 114.10h4.35v4.12h-4.35zM211.00 114.10h4.35v4.12h-4.35zM211.00 122.25h4.35v4.12h-4.35zM202.40 126.33h4.35v4.12h-4.35zM227.50 126.33h4.35v4.12h-4.35zM231.80 126.33h4.35v4.12h-4.35zM306.50 106.47h4.35v4.12h-4.35zM173.60 197.31h4.35v4.12h-4.35zM298.60 157.75h4.35v4.12h-4.35zM152.80 255.75h4.35v4.12h-4.35zM223.20 251.67h4.35v4.12h-4.35zM248.30 255.75h4.35v4.12h-4.35zM244.00 259.82h4.35v4.12h-4.35zM248.30 259.82h4.35v4.12h-4.35zM185.90 271.40h4.35v4.12h-4.35zM190.20 275.48h4.35v4.12h-4.35zM190.20 279.56h4.35v4.12h-4.35zM206.70 267.33h4.35v4.12h-4.35zM248.30 267.33h4.35v4.12h-4.35zM252.60 271.40h4.35v4.12h-4.35zM244.00 275.48h4.35v4.12h-4.35zM252.60 275.48h4.35v4.12h-4.35zM252.60 279.56h4.35v4.12h-4.35zM181.60 291.13h4.35v4.12h-4.35zM185.90 291.13h4.35v4.12h-4.35zM185.90 299.29h4.35v4.12h-4.35zM231.80 291.13h4.35v4.12h-4.35zM206.70 306.79h4.35v4.12h-4.35zM215.30 310.86h4.35v4.12h-4.35zM227.50 314.94h4.35v4.12h-4.35zM273.40 306.79h4.35v4.12h-4.35zM269.10 310.86h4.35v4.12h-4.35zM277.70 310.86h4.35v4.12h-4.35zM264.80 314.94h4.35v4.12h-4.35zM211.00 326.52h4.35v4.12h-4.35zM231.80 338.75h4.35v4.12h-4.35zM352.40 247.60h4.35v4.12h-4.35zM356.70 247.60h4.35v4.12h-4.35zM294.30 271.40h4.35v4.12h-4.35zM306.50 279.56h4.35v4.12h-4.35zM310.80 279.56h4.35v4.12h-4.35zM335.90 267.33h4.35v4.12h-4.35zM340.20 267.33h4.35v4.12h-4.35zM340.20 275.48h4.35v4.12h-4.35zM348.10 267.33h4.35v4.12h-4.35zM356.70 279.56h4.35v4.12h-4.35zM319.40 295.21h4.35v4.12h-4.35zM315.10 299.29h4.35v4.12h-4.35zM335.90 295.21h4.35v4.12h-4.35zM310.80 306.79h4.35v4.12h-4.35zM306.50 310.86h4.35v4.12h-4.35zM319.40 319.01h4.35v4.12h-4.35zM335.90 306.79h4.35v4.12h-4.35zM327.30 314.94h4.35v4.12h-4.35zM319.40 330.59h4.35v4.12h-4.35zM306.50 334.67h4.35v4.12h-4.35zM398.40 279.56h4.35v4.12h-4.35zM402.70 279.56h4.35v4.12h-4.35zM431.40 279.56h4.35v4.12h-4.35zM248.30 354.65h4.35v4.12h-4.35zM264.80 386.00h4.35v4.12h-4.35zM335.90 346.50h4.35v4.12h-4.35zM294.30 366.25h4.35v4.12h-4.35zM306.50 366.25h4.35v4.12h-4.35zM315.10 374.40h4.35v4.12h-4.35zM315.10 378.48h4.35v4.12h-4.35z"/>
<path fill="#7bff7b" d="M132.00 38.78h4.35v4.12h-4.35zM90.40 54.55h4.35v4.12h-4.35zM106.90 62.70h4.35v4.12h-4.35zM132.00 58.63h4.35v4.12h-4.35zM123.40 62.70h4.35v4.12h-4.35zM119.10 66.78h4.35v4.12h-4.35zM148.50 54.55h4.35v4.12h-4.35zM152.80 54.55h4.35v4.12h-4.35zM144.20 58.63h4.35v4.12h-4.35zM148.50 58.63h4.35v4.12h-4.35zM152.80 58.63h4.35v4.12h-4.35zM152.80 62.70h4.35v4.12h-4.35zM111.20 78.48h4.35v4.12h-4.35zM102.60 82.55h4.35v4.12h-4.35zM102.60 86.62h4.35v4.12h-4.35zM123.40 82.55h4.35v4.12h-4.35zM144.20 74.40h4.35v4.12h-4.35zM165.00 86.62h4.35v4.12h-4.35zM111.20 102.40h4.35v4.12h-4.35zM152.80 94.25h4.35v4.12h-4.35zM144.20 98.33h4.35v4.12h-4.35zM148.50 106.47h4.35v4.12h-4.35zM165.00 98.33h4.35v4.12h-4.35zM165.00 106.47h4.35v4.12h-4.35zM102.60 114.10h4.35v4.12h-4.35zM106.90 118.18h4.35v4.12h-4.35zM106.90 122.25h4.35v4.12h-4.35zM119.10 126.33h4.35v4.12h-4.35zM227.50 34.70h4.35v4.12h-4.35zM236.10 34.70h4.35v4.12h-4.35zM223.20 46.93h4.35v4.12h-4.35zM206.70 58.63h4.35v4.12h-4.35zM206.70 62.70h4.35v4.12h-4.35zM211.00 62.70h4.35v4.12h-4.35zM223.20 62.70h4.35v4.12h-4.35zM223.20 66.78h4.35v4.12h-4.35zM252.60 66.78h4.35v4.12h-4.35zM206.70 74.40h4.35v4.12h-4.35zM202.40 86.62h4.35v4.12h-4.35zM227.50 74.40h4.35v4.12h-4.35zM227.50 86.62h4.35v4.12h-4.35zM248.30 82.55h4.35v4.12h-4.35zM252.60 86.62h4.35v4.12h-4.35zM273.40 86.62h4.35v4.12h-4.35zM227.50 94.25h4.35v4.12h-4.35zM327.30 42.85h4.35v4.12h-4.35zM348.10 42.85h4.35v4.12h-4.35zM361.00 42.85h4.35v4.12h-4.35zM361.00 46.93h4.35v4.12h-4.35zM285.70 62.70h4.35v4.12h-4.35zM315.10 58.63h4.35v4.12h-4.35zM306.50 62.70h4.35v4.12h-4.35zM335.90 54.55h4.35v4.12h-4.35zM327.30 66.78h4.35v4.12h-4.35zM348.10 54.55h4.35v4.12h-4.35zM352.40 54.55h4.35v4.12h-4.35zM352.40 58.63h4.35v4.12h-4.35zM352.40 62.70h4.35v4.12h-4.35zM285.70 78.48h4.35v4.12h-4.35zM319.40 74.40h4.35v4.12h-4.35zM335.90 74.40h4.35v4.12h-4.35zM340.20 82.55h4.35v4.12h-4.35zM335.90 86.62h4.35v4.12h-4.35zM361.00 74.40h4.35v4.12h-4.35zM356.70 78.48h4.35v4.12h-4.35zM361.00 78.48h4.35v4.12h-4.35zM356.70 86.62h4.35v4.12h-4.35zM377.50 74.40h4.35v4.12h-4.35zM381.80 74.40h4.35v4.12h-4.35zM373.20 78.48h4.35v4.12h-4.35zM381.80 82.55h4.35v4.12h-4.35zM315.10 94.25h4.35v4.12h-4.35zM331.60 94.25h4.35v4.12h-4.35zM327.30 106.47h4.35v4.12h-4.35zM348.10 94.25h4.35v4.12h-4.35zM348.10 98.33h4.35v4.12h-4.35zM352.40 98.33h4.35v4.12h-4.35zM368.90 94.25h4.35v4.12h-4.35zM381.80 102.40h4.35v4.12h-4.35zM368.90 106.47h4.35v4.12h-4.35zM381.80 106.47h4.35v4.12h-4.35zM340.20 122.25h4.35v4.12h-4.35zM452.20 34.70h4.35v4.12h-4.35zM398.40 62.70h4.35v4.12h-4.35zM431.40 62.70h4.35v4.12h-4.35zM394.10 78.48h4.35v4.12h-4.35zM389.80 86.62h4.35v4.12h-4.35zM414.90 78.48h4.35v4.12h-4.35zM456.50 102.40h4.35v4.12h-4.35zM414.90 118.18h4.35v4.12h-4.35zM127.70 133.90h4.35v4.12h-4.35zM132.00 133.90h4.35v4.12h-4.35zM123.40 137.97h4.35v4.12h-4.35zM123.40 142.05h4.35v4.12h-4.35zM119.10 146.12h4.35v4.12h-4.35zM123.40 146.12h4.35v4.12h-4.35zM132.00 146.12h4.35v4.12h-4.35zM148.50 142.05h4.35v4.12h-4.35zM90.40 153.68h4.35v4.12h-4.35zM81.80 165.91h4.35v4.12h-4.35zM111.20 153.68h4.35v4.12h-4.35zM98.30 161.83h4.35v4.12h-4.35zM119.10 157.75h4.35v4.12h-4.35zM123.40 157.75h4.35v4.12h-4.35zM132.00 157.75h4.35v4.12h-4.35zM123.40 161.83h4.35v4.12h-4.35zM132.00 161.83h4.35v4.12h-4.35zM144.20 161.83h4.35v4.12h-4.35zM148.50 165.91h4.35v4.12h-4.35zM77.50 185.69h4.35v4.12h-4.35zM98.30 177.53h4.35v4.12h-4.35zM106.90 181.61h4.35v4.12h-4.35zM132.00 177.53h4.35v4.12h-4.35zM127.70 181.61h4.35v4.12h-4.35zM144.20 173.46h4.35v4.12h-4.35zM169.30 173.46h4.35v4.12h-4.35zM165.00 177.53h4.35v4.12h-4.35zM98.30 197.31h4.35v4.12h-4.35zM132.00 205.47h4.35v4.12h-4.35zM148.50 193.24h4.35v4.12h-4.35zM152.80 193.24h4.35v4.12h-4.35zM148.50 201.39h4.35v4.12h-4.35zM148.50 205.47h4.35v4.12h-4.35zM169.30 201.39h4.35v4.12h-4.35zM106.90 217.09h4.35v4.12h-4.35zM102.60 221.17h4.35v4.12h-4.35zM123.40 213.02h4.35v4.12h-4.35zM127.70 217.09h4.35v4.12h-4.35zM123.40 221.17h4.35v4.12h-4.35zM127.70 221.17h4.35v4.12h-4.35zM227.50 142.05h4.35v4.12h-4.35zM256.90 133.90h4.35v4.12h-4.35zM244.00 137.97h4.35v4.12h-4.35zM248.30 146.12h4.35v4.12h-4.35zM256.90 146.12h4.35v4.12h-4.35zM185.90 153.68h4.35v4.12h-4.35zM227.50 157.75h4.35v4.12h-4.35zM256.90 165.91h4.35v4.12h-4.35zM236.10 181.61h4.35v4.12h-4.35zM223.20 185.69h4.35v4.12h-4.35zM252.60 181.61h4.35v4.12h-4.35zM248.30 185.69h4.35v4.12h-4.35zM256.90 185.69h4.35v4.12h-4.35zM269.10 173.46h4.35v4.12h-4.35zM269.10 177.53h4.35v4.12h-4.35zM273.40 185.69h4.35v4.12h-4.35zM202.40 193.24h4.35v4.12h-4.35zM206.70 197.31h4.35v4.12h-4.35zM215.30 197.31h4.35v4.12h-4.35zM202.40 205.47h4.35v4.12h-4.35zM206.70 205.47h4.35v4.12h-4.35zM236.10 193.24h4.35v4.12h-4.35zM273.40 193.24h4.35v4.12h-4.35zM277.70 193.24h4.35v4.12h-4.35zM277.70 197.31h4.35v4.12h-4.35zM269.10 201.39h4.35v4.12h-4.35zM269.10 205.47h4.35v4.12h-4.35zM277.70 205.47h4.35v4.12h-4.35zM215.30 217.09h4.35v4.12h-4.35zM211.00 221.17h4.35v4.12h-4.35zM340.20 146.12h4.35v4.12h-4.35zM348.10 142.05h4.35v4.12h-4.35zM352.40 142.05h4.35v4.12h-4.35zM290.00 165.91h4.35v4.12h-4.35zM310.80 157.75h4.35v4.12h-4.35zM340.20 157.75h4.35v4.12h-4.35zM335.90 161.83h4.35v4.12h-4.35zM340.20 165.91h4.35v4.12h-4.35zM361.00 157.75h4.35v4.12h-4.35zM361.00 161.83h4.35v4.12h-4.35zM285.70 181.61h4.35v4.12h-4.35zM290.00 181.61h4.35v4.12h-4.35zM368.90 173.46h4.35v4.12h-4.35zM373.20 177.53h4.35v4.12h-4.35zM377.50 185.69h4.35v4.12h-4.35zM306.50 205.47h4.35v4.12h-4.35zM310.80 205.47h4.35v4.12h-4.35zM361.00 193.24h4.35v4.12h-4.35zM368.90 193.24h4.35v4.12h-4.35zM381.80 193.24h4.35v4.12h-4.35zM340.20 213.02h4.35v4.12h-4.35zM327.30 221.17h4.35v4.12h-4.35zM335.90 221.17h4.35v4.12h-4.35zM340.20 221.17h4.35v4.12h-4.35zM335.90 225.25h4.35v4.12h-4.35zM340.20 225.25h4.35v4.12h-4.35zM465.10 146.12h4.35v4.12h-4.35zM402.70 161.83h4.35v4.12h-4.35zM414.90 157.75h4.35v4.12h-4.35zM435.70 153.68h4.35v4.12h-4.35zM456.50 165.91h4.35v4.12h-4.35zM460.80 165.91h4.35v4.12h-4.35zM410.60 181.61h4.35v4.12h-4.35zM414.90 185.69h4.35v4.12h-4.35zM431.40 177.53h4.35v4.12h-4.35zM465.10 177.53h4.35v4.12h-4.35zM460.80 181.61h4.35v4.12h-4.35zM456.50 185.69h4.35v4.12h-4.35zM414.90 201.39h4.35v4.12h-4.35zM414.90 217.09h4.35v4.12h-4.35zM435.70 221.17h4.35v4.12h-4.35zM444.30 221.17h4.35v4.12h-4.35zM444.30 225.25h4.35v4.12h-4.35zM132.00 251.67h4.35v4.12h-4.35zM132.00 255.75h4.35v4.12h-4.35zM148.50 251.67h4.35v4.12h-4.35zM90.40 279.56h4.35v4.12h-4.35zM148.50 267.33h4.35v4.12h-4.35zM152.80 267.33h4.35v4.12h-4.35zM148.50 295.21h4.35v4.12h-4.35zM169.30 291.13h4.35v4.12h-4.35zM160.70 299.29h4.35v4.12h-4.35zM119.10 314.94h4.35v4.12h-4.35zM139.90 306.79h4.35v4.12h-4.35zM139.90 310.86h4.35v4.12h-4.35zM256.90 271.40h4.35v4.12h-4.35zM435.70 255.75h4.35v4.12h-4.35zM419.20 267.33h4.35v4.12h-4.35zM440.00 275.48h4.35v4.12h-4.35zM398.40 299.29h4.35v4.12h-4.35zM431.40 295.21h4.35v4.12h-4.35zM444.30 299.29h4.35v4.12h-4.35zM460.80 295.21h4.35v4.12h-4.35zM465.10 299.29h4.35v4.12h-4.35zM419.20 306.79h4.35v4.12h-4.35zM423.50 310.86h4.35v4.12h-4.35zM410.60 314.94h4.35v4.12h-4.35zM414.90 319.01h4.35v4.12h-4.35zM444.30 306.79h4.35v4.12h-4.35zM485.90 314.94h4.35v4.12h-4.35zM414.90 326.52h4.35v4.12h-4.35zM419.20 338.75h4.35v4.12h-4.35zM431.40 330.59h4.35v4.12h-4.35zM231.80 354.65h4.35v4.12h-4.35zM231.80 366.25h4.35v4.12h-4.35zM244.00 366.25h4.35v4.12h-4.35zM252.60 366.25h4.35v4.12h-4.35zM248.30 370.32h4.35v4.12h-4.35zM244.00 378.48h4.35v4.12h-4.35zM248.30 378.48h4.35v4.12h-4.35zM244.00 409.82h4.35v4.12h-4.35zM244.00 417.98h4.35v4.12h-4.35zM348.10 346.50h4.35v4.12h-4.35zM361.00 346.50h4.35v4.12h-4.35zM327.30 366.25h4.35v4.12h-4.35zM327.30 378.48h4.35v4.12h-4.35zM331.60 378.48h4.35v4.12h-4.35zM348.10 378.48h4.35v4.12h-4.35zM310.80 386.00h4.35v4.12h-4.35zM306.50 398.23h4.35v4.12h-4.35zM331.60 398.23h4.35v4.12h-4.35zM352.40 394.15h4.35v4.12h-4.35zM381.80 390.07h4.35v4.12h-4.35zM368.90 394.15h4.35v4.12h-4.35zM373.20 394.15h4.35v4.12h-4.35zM340.20 405.75h4.35v4.12h-4.35zM352.40 409.82h4.35v4.12h-4.35zM377.50 409.82h4.35v4.12h-4.35zM373.20 413.90h4.35v4.12h-4.35zM377.50 417.98h4.35v4.12h-4.35zM306.50 425.50h4.35v4.12h-4.35zM398.40 370.32h4.35v4.12h-4.35zM402.70 370.32h4.35v4.12h-4.35zM398.40 374.40h4.35v4.12h-4.35zM398.40 378.48h4.35v4.12h-4.35zM419.20 366.25h4.35v4.12h-4.35z"/>
<path fill="#73ff84" d="M123.40 42.85h4.35v4.12h-4.35zM127.70 46.93h4.35v4.12h-4.35zM139.90 34.70h4.35v4.12h-4.35zM144.20 38.78h4.35v4.12h-4.35zM152.80 38.78h4.35v4.12h-4.35zM144.20 42.85h4.35v4.12h-4.35zM148.50 42.85h4.35v4.12h-4.35zM144.20 46.93h4.35v4.12h-4.35zM81.80 58.63h4.35v4.12h-4.35zM90.40 62.70h4.35v4.12h-4.35zM77.50 66.78h4.35v4.12h-4.35zM111.20 58.63h4.35v4.12h-4.35zM98.30 62.70h4.35v4.12h-4.35zM102.60 62.70h4.35v4.12h-4.35zM144.20 54.55h4.35v4.12h-4.35zM90.40 74.40h4.35v4.12h-4.35zM98.30 74.40h4.35v4.12h-4.35zM98.30 86.62h4.35v4.12h-4.35zM106.90 86.62h4.35v4.12h-4.35zM160.70 74.40h4.35v4.12h-4.35zM165.00 78.48h4.35v4.12h-4.35zM98.30 94.25h4.35v4.12h-4.35zM102.60 98.33h4.35v4.12h-4.35zM98.30 106.47h4.35v4.12h-4.35zM127.70 106.47h4.35v4.12h-4.35zM144.20 102.40h4.35v4.12h-4.35zM169.30 106.47h4.35v4.12h-4.35zM119.10 122.25h4.35v4.12h-4.35zM132.00 126.33h4.35v4.12h-4.35zM223.20 42.85h4.35v4.12h-4.35zM244.00 38.78h4.35v4.12h-4.35zM244.00 42.85h4.35v4.12h-4.35zM190.20 58.63h4.35v4.12h-4.35zM236.10 62.70h4.35v4.12h-4.35zM244.00 74.40h4.35v4.12h-4.35zM248.30 78.48h4.35v4.12h-4.35zM244.00 82.55h4.35v4.12h-4.35zM256.90 82.55h4.35v4.12h-4.35zM269.10 86.62h4.35v4.12h-4.35zM327.30 38.78h4.35v4.12h-4.35zM327.30 46.93h4.35v4.12h-4.35zM348.10 38.78h4.35v4.12h-4.35zM294.30 66.78h4.35v4.12h-4.35zM306.50 54.55h4.35v4.12h-4.35zM340.20 54.55h4.35v4.12h-4.35zM335.90 58.63h4.35v4.12h-4.35zM340.20 66.78h4.35v4.12h-4.35zM361.00 54.55h4.35v4.12h-4.35zM340.20 74.40h4.35v4.12h-4.35zM327.30 78.48h4.35v4.12h-4.35zM340.20 86.62h4.35v4.12h-4.35zM348.10 78.48h4.35v4.12h-4.35zM348.10 82.55h4.35v4.12h-4.35zM361.00 82.55h4.35v4.12h-4.35zM373.20 74.40h4.35v4.12h-4.35zM373.20 86.62h4.35v4.12h-4.35zM381.80 86.62h4.35v4.12h-4.35zM356.70 98.33h4.35v4.12h-4.35zM361.00 98.33h4.35v4.12h-4.35zM315.10 118.18h4.35v4.12h-4.35zM440.00 42.85h4.35v4.12h-4.35zM456.50 34.70h4.35v4.12h-4.35zM402.70 54.55h4.35v4.12h-4.35zM435.70 54.55h4.35v4.12h-4.35zM460.80 54.55h4.35v4.12h-4.35zM389.80 74.40h4.35v4.12h-4.35zM389.80 78.48h4.35v4.12h-4.35zM398.40 86.62h4.35v4.12h-4.35zM460.80 78.48h4.35v4.12h-4.35zM456.50 86.62h4.35v4.12h-4.35zM460.80 94.25h4.35v4.12h-4.35zM410.60 114.10h4.35v4.12h-4.35zM431.40 118.18h4.35v4.12h-4.35zM444.30 118.18h4.35v4.12h-4.35zM139.90 137.97h4.35v4.12h-4.35zM144.20 137.97h4.35v4.12h-4.35zM106.90 165.91h4.35v4.12h-4.35zM144.20 157.75h4.35v4.12h-4.35zM81.80 173.46h4.35v4.12h-4.35zM81.80 177.53h4.35v4.12h-4.35zM106.90 177.53h4.35v4.12h-4.35zM119.10 177.53h4.35v4.12h-4.35zM123.40 185.69h4.35v4.12h-4.35zM127.70 185.69h4.35v4.12h-4.35zM139.90 185.69h4.35v4.12h-4.35zM144.20 185.69h4.35v4.12h-4.35zM160.70 185.69h4.35v4.12h-4.35zM169.30 185.69h4.35v4.12h-4.35zM98.30 193.24h4.35v4.12h-4.35zM106.90 193.24h4.35v4.12h-4.35zM106.90 197.31h4.35v4.12h-4.35zM98.30 205.47h4.35v4.12h-4.35zM119.10 193.24h4.35v4.12h-4.35zM127.70 193.24h4.35v4.12h-4.35zM144.20 193.24h4.35v4.12h-4.35zM144.20 205.47h4.35v4.12h-4.35zM165.00 193.24h4.35v4.12h-4.35zM173.60 205.47h4.35v4.12h-4.35zM106.90 213.02h4.35v4.12h-4.35zM98.30 221.17h4.35v4.12h-4.35zM106.90 221.17h4.35v4.12h-4.35zM102.60 225.25h4.35v4.12h-4.35zM132.00 213.02h4.35v4.12h-4.35zM119.10 217.09h4.35v4.12h-4.35zM132.00 221.17h4.35v4.12h-4.35zM119.10 225.25h4.35v4.12h-4.35zM231.80 146.12h4.35v4.12h-4.35zM252.60 133.90h4.35v4.12h-4.35zM215.30 153.68h4.35v4.12h-4.35zM211.00 157.75h4.35v4.12h-4.35zM215.30 161.83h4.35v4.12h-4.35zM248.30 161.83h4.35v4.12h-4.35zM248.30 165.91h4.35v4.12h-4.35zM231.80 185.69h4.35v4.12h-4.35zM244.00 177.53h4.35v4.12h-4.35zM248.30 181.61h4.35v4.12h-4.35zM244.00 185.69h4.35v4.12h-4.35zM252.60 185.69h4.35v4.12h-4.35zM277.70 173.46h4.35v4.12h-4.35zM227.50 201.39h4.35v4.12h-4.35zM236.10 201.39h4.35v4.12h-4.35zM223.20 205.47h4.35v4.12h-4.35zM252.60 193.24h4.35v4.12h-4.35zM244.00 197.31h4.35v4.12h-4.35zM264.80 201.39h4.35v4.12h-4.35zM277.70 201.39h4.35v4.12h-4.35zM236.10 217.09h4.35v4.12h-4.35zM227.50 225.25h4.35v4.12h-4.35zM315.10 165.91h4.35v4.12h-4.35zM331.60 161.83h4.35v4.12h-4.35zM285.70 173.46h4.35v4.12h-4.35zM285.70 177.53h4.35v4.12h-4.35zM361.00 205.47h4.35v4.12h-4.35zM373.20 201.39h4.35v4.12h-4.35zM340.20 217.09h4.35v4.12h-4.35zM431.40 137.97h4.35v4.12h-4.35zM435.70 142.05h4.35v4.12h-4.35zM460.80 133.90h4.35v4.12h-4.35zM402.70 165.91h4.35v4.12h-4.35zM423.50 157.75h4.35v4.12h-4.35zM414.90 165.91h4.35v4.12h-4.35zM431.40 157.75h4.35v4.12h-4.35zM444.30 157.75h4.35v4.12h-4.35zM465.10 153.68h4.35v4.12h-4.35zM452.20 161.83h4.35v4.12h-4.35zM460.80 161.83h4.35v4.12h-4.35zM419.20 177.53h4.35v4.12h-4.35zM410.60 185.69h4.35v4.12h-4.35zM440.00 177.53h4.35v4.12h-4.35zM452.20 177.53h4.35v4.12h-4.35zM452.20 181.61h4.35v4.12h-4.35zM456.50 181.61h4.35v4.12h-4.35zM477.30 185.69h4.35v4.12h-4.35zM419.20 193.24h4.35v4.12h-4.35zM423.50 201.39h4.35v4.12h-4.35zM414.90 205.47h4.35v4.12h-4.35zM431.40 197.31h4.35v4.12h-4.35zM440.00 197.31h4.35v4.12h-4.35zM444.30 205.47h4.35v4.12h-4.35zM456.50 193.24h4.35v4.12h-4.35zM419.20 221.17h4.35v4.12h-4.35zM423.50 221.17h4.35v4.12h-4.35zM414.90 225.25h4.35v4.12h-4.35zM440.00 217.09h4.35v4.12h-4.35zM431.40 225.25h4.35v4.12h-4.35zM119.10 255.75h4.35v4.12h-4.35zM123.40 275.48h4.35v4.12h-4.35zM127.70 275.48h4.35v4.12h-4.35zM123.40 279.56h4.35v4.12h-4.35zM127.70 279.56h4.35v4.12h-4.35zM102.60 299.29h4.35v4.12h-4.35zM106.90 319.01h4.35v4.12h-4.35zM119.10 306.79h4.35v4.12h-4.35zM123.40 310.86h4.35v4.12h-4.35zM123.40 314.94h4.35v4.12h-4.35zM127.70 314.94h4.35v4.12h-4.35zM119.10 319.01h4.35v4.12h-4.35zM144.20 314.94h4.35v4.12h-4.35zM148.50 314.94h4.35v4.12h-4.35zM139.90 319.01h4.35v4.12h-4.35zM419.20 275.48h4.35v4.12h-4.35zM452.20 299.29h4.35v4.12h-4.35zM444.30 314.94h4.35v4.12h-4.35zM465.10 306.79h4.35v4.12h-4.35zM473.00 310.86h4.35v4.12h-4.35zM410.60 338.75h4.35v4.12h-4.35zM431.40 338.75h4.35v4.12h-4.35zM248.30 366.25h4.35v4.12h-4.35zM256.90 378.48h4.35v4.12h-4.35zM236.10 386.00h4.35v4.12h-4.35zM256.90 405.75h4.35v4.12h-4.35zM252.60 409.82h4.35v4.12h-4.35zM348.10 370.32h4.35v4.12h-4.35zM352.40 370.32h4.35v4.12h-4.35zM352.40 374.40h4.35v4.12h-4.35zM315.10 390.07h4.35v4.12h-4.35zM331.60 394.15h4.35v4.12h-4.35zM340.20 398.23h4.35v4.12h-4.35zM352.40 398.23h4.35v4.12h-4.35zM319.40 405.75h4.35v4.12h-4.35zM315.10 409.82h4.35v4.12h-4.35zM319.40 417.98h4.35v4.12h-4.35zM331.60 409.82h4.35v4.12h-4.35zM335.90 413.90h4.35v4.12h-4.35zM335.90 417.98h4.35v4.12h-4.35zM348.10 417.98h4.35v4.12h-4.35zM356.70 417.98h4.35v4.12h-4.35zM373.20 405.75h4.35v4.12h-4.35zM381.80 409.82h4.35v4.12h-4.35zM340.20 425.50h4.35v4.12h-4.35zM394.10 370.32h4.35v4.12h-4.35zM389.80 374.40h4.35v4.12h-4.35zM419.20 374.40h4.35v4.12h-4.35zM431.40 374.40h4.35v4.12h-4.35zM402.70 398.23h4.35v4.12h-4.35z"/>
<path fill="#63ff94" d="M119.10 46.93h4.35v4.12h-4.35zM139.90 38.78h4.35v4.12h-4.35zM152.80 46.93h4.35v4.12h-4.35zM81.80 54.55h4.35v4.12h-4.35zM86.10 58.63h4.35v4.12h-4.35zM77.50 62.70h4.35v4.12h-4.35zM106.90 54.55h4.35v4.12h-4.35zM102.60 58.63h4.35v4.12h-4.35zM98.30 66.78h4.35v4.12h-4.35zM127.70 54.55h4.35v4.12h-4.35zM123.40 66.78h4.35v4.12h-4.35zM144.20 66.78h4.35v4.12h-4.35zM81.80 74.40h4.35v4.12h-4.35zM77.50 82.55h4.35v4.12h-4.35zM98.30 78.48h4.35v4.12h-4.35zM102.60 78.48h4.35v4.12h-4.35zM132.00 78.48h4.35v4.12h-4.35zM127.70 86.62h4.35v4.12h-4.35zM139.90 74.40h4.35v4.12h-4.35zM139.90 78.48h4.35v4.12h-4.35zM144.20 78.48h4.35v4.12h-4.35zM148.50 78.48h4.35v4.12h-4.35zM144.20 82.55h4.35v4.12h-4.35zM139.90 86.62h4.35v4.12h-4.35zM119.10 94.25h4.35v4.12h-4.35zM132.00 94.25h4.35v4.12h-4.35zM123.40 98.33h4.35v4.12h-4.35zM123.40 106.47h4.35v4.12h-4.35zM139.90 106.47h4.35v4.12h-4.35zM144.20 106.47h4.35v4.12h-4.35zM165.00 102.40h4.35v4.12h-4.35zM173.60 102.40h4.35v4.12h-4.35zM173.60 106.47h4.35v4.12h-4.35zM119.10 114.10h4.35v4.12h-4.35zM123.40 114.10h4.35v4.12h-4.35zM127.70 114.10h4.35v4.12h-4.35zM127.70 118.18h4.35v4.12h-4.35zM123.40 122.25h4.35v4.12h-4.35zM223.20 38.78h4.35v4.12h-4.35zM227.50 46.93h4.35v4.12h-4.35zM227.50 58.63h4.35v4.12h-4.35zM256.90 54.55h4.35v4.12h-4.35zM244.00 58.63h4.35v4.12h-4.35zM206.70 86.62h4.35v4.12h-4.35zM256.90 86.62h4.35v4.12h-4.35zM352.40 38.78h4.35v4.12h-4.35zM352.40 42.85h4.35v4.12h-4.35zM361.00 62.70h4.35v4.12h-4.35zM356.70 74.40h4.35v4.12h-4.35zM373.20 82.55h4.35v4.12h-4.35zM373.20 94.25h4.35v4.12h-4.35zM435.70 34.70h4.35v4.12h-4.35zM440.00 38.78h4.35v4.12h-4.35zM394.10 54.55h4.35v4.12h-4.35zM398.40 54.55h4.35v4.12h-4.35zM398.40 58.63h4.35v4.12h-4.35zM398.40 66.78h4.35v4.12h-4.35zM431.40 54.55h4.35v4.12h-4.35zM435.70 62.70h4.35v4.12h-4.35zM444.30 66.78h4.35v4.12h-4.35zM452.20 54.55h4.35v4.12h-4.35zM460.80 62.70h4.35v4.12h-4.35zM465.10 62.70h4.35v4.12h-4.35zM456.50 66.78h4.35v4.12h-4.35zM414.90 82.55h4.35v4.12h-4.35zM444.30 74.40h4.35v4.12h-4.35zM435.70 78.48h4.35v4.12h-4.35zM444.30 78.48h4.35v4.12h-4.35zM440.00 82.55h4.35v4.12h-4.35zM444.30 82.55h4.35v4.12h-4.35zM431.40 86.62h4.35v4.12h-4.35zM452.20 82.55h4.35v4.12h-4.35zM460.80 86.62h4.35v4.12h-4.35zM473.00 82.55h4.35v4.12h-4.35zM423.50 94.25h4.35v4.12h-4.35zM414.90 98.33h4.35v4.12h-4.35zM435.70 98.33h4.35v4.12h-4.35zM473.00 94.25h4.35v4.12h-4.35zM473.00 98.33h4.35v4.12h-4.35zM485.90 102.40h4.35v4.12h-4.35zM440.00 114.10h4.35v4.12h-4.35zM435.70 122.25h4.35v4.12h-4.35zM431.40 126.33h4.35v4.12h-4.35zM119.10 133.90h4.35v4.12h-4.35zM152.80 146.12h4.35v4.12h-4.35zM77.50 157.75h4.35v4.12h-4.35zM90.40 161.83h4.35v4.12h-4.35zM98.30 157.75h4.35v4.12h-4.35zM106.90 157.75h4.35v4.12h-4.35zM106.90 161.83h4.35v4.12h-4.35zM127.70 157.75h4.35v4.12h-4.35zM119.10 161.83h4.35v4.12h-4.35zM139.90 157.75h4.35v4.12h-4.35zM86.10 173.46h4.35v4.12h-4.35zM81.80 185.69h4.35v4.12h-4.35zM111.20 177.53h4.35v4.12h-4.35zM98.30 181.61h4.35v4.12h-4.35zM106.90 185.69h4.35v4.12h-4.35zM123.40 173.46h4.35v4.12h-4.35zM139.90 173.46h4.35v4.12h-4.35zM144.20 181.61h4.35v4.12h-4.35zM148.50 185.69h4.35v4.12h-4.35zM169.30 181.61h4.35v4.12h-4.35zM102.60 193.24h4.35v4.12h-4.35zM111.20 193.24h4.35v4.12h-4.35zM119.10 205.47h4.35v4.12h-4.35zM123.40 205.47h4.35v4.12h-4.35zM127.70 205.47h4.35v4.12h-4.35zM152.80 205.47h4.35v4.12h-4.35zM169.30 197.31h4.35v4.12h-4.35zM173.60 201.39h4.35v4.12h-4.35zM194.50 157.75h4.35v4.12h-4.35zM215.30 157.75h4.35v4.12h-4.35zM244.00 165.91h4.35v4.12h-4.35zM264.80 173.46h4.35v4.12h-4.35zM277.70 177.53h4.35v4.12h-4.35zM227.50 193.24h4.35v4.12h-4.35zM252.60 197.31h4.35v4.12h-4.35zM256.90 197.31h4.35v4.12h-4.35zM206.70 217.09h4.35v4.12h-4.35zM223.20 225.25h4.35v4.12h-4.35zM356.70 153.68h4.35v4.12h-4.35zM348.10 165.91h4.35v4.12h-4.35zM290.00 177.53h4.35v4.12h-4.35zM285.70 185.69h4.35v4.12h-4.35zM348.10 181.61h4.35v4.12h-4.35zM368.90 185.69h4.35v4.12h-4.35zM444.30 142.05h4.35v4.12h-4.35zM440.00 146.12h4.35v4.12h-4.35zM456.50 133.90h4.35v4.12h-4.35zM465.10 137.97h4.35v4.12h-4.35zM456.50 142.05h4.35v4.12h-4.35zM465.10 142.05h4.35v4.12h-4.35zM440.00 165.91h4.35v4.12h-4.35zM452.20 153.68h4.35v4.12h-4.35zM456.50 161.83h4.35v4.12h-4.35zM394.10 185.69h4.35v4.12h-4.35zM419.20 185.69h4.35v4.12h-4.35zM435.70 173.46h4.35v4.12h-4.35zM431.40 181.61h4.35v4.12h-4.35zM435.70 181.61h4.35v4.12h-4.35zM465.10 173.46h4.35v4.12h-4.35zM452.20 185.69h4.35v4.12h-4.35zM465.10 185.69h4.35v4.12h-4.35zM485.90 173.46h4.35v4.12h-4.35zM477.30 177.53h4.35v4.12h-4.35zM485.90 177.53h4.35v4.12h-4.35zM473.00 181.61h4.35v4.12h-4.35zM410.60 205.47h4.35v4.12h-4.35zM440.00 193.24h4.35v4.12h-4.35zM452.20 197.31h4.35v4.12h-4.35zM460.80 201.39h4.35v4.12h-4.35zM452.20 205.47h4.35v4.12h-4.35zM481.60 197.31h4.35v4.12h-4.35zM485.90 201.39h4.35v4.12h-4.35zM410.60 217.09h4.35v4.12h-4.35zM440.00 213.02h4.35v4.12h-4.35zM123.40 251.67h4.35v4.12h-4.35zM77.50 267.33h4.35v4.12h-4.35zM86.10 267.33h4.35v4.12h-4.35zM111.20 271.40h4.35v4.12h-4.35zM119.10 275.48h4.35v4.12h-4.35zM119.10 279.56h4.35v4.12h-4.35zM98.30 287.06h4.35v4.12h-4.35zM111.20 295.21h4.35v4.12h-4.35zM98.30 299.29h4.35v4.12h-4.35zM106.90 299.29h4.35v4.12h-4.35zM123.40 291.13h4.35v4.12h-4.35zM132.00 291.13h4.35v4.12h-4.35zM132.00 299.29h4.35v4.12h-4.35zM123.40 319.01h4.35v4.12h-4.35zM144.20 319.01h4.35v4.12h-4.35zM435.70 251.67h4.35v4.12h-4.35zM465.10 275.48h4.35v4.12h-4.35zM435.70 287.06h4.35v4.12h-4.35zM423.50 314.94h4.35v4.12h-4.35zM452.20 306.79h4.35v4.12h-4.35zM465.10 310.86h4.35v4.12h-4.35zM485.90 306.79h4.35v4.12h-4.35zM481.60 314.94h4.35v4.12h-4.35zM473.00 319.01h4.35v4.12h-4.35zM431.40 326.52h4.35v4.12h-4.35zM440.00 326.52h4.35v4.12h-4.35zM431.40 334.67h4.35v4.12h-4.35zM227.50 366.25h4.35v4.12h-4.35zM236.10 366.25h4.35v4.12h-4.35zM231.80 374.40h4.35v4.12h-4.35zM252.60 370.32h4.35v4.12h-4.35zM223.20 386.00h4.35v4.12h-4.35zM236.10 394.15h4.35v4.12h-4.35zM236.10 398.23h4.35v4.12h-4.35zM256.90 390.07h4.35v4.12h-4.35zM256.90 409.82h4.35v4.12h-4.35zM252.60 413.90h4.35v4.12h-4.35zM256.90 413.90h4.35v4.12h-4.35zM319.40 386.00h4.35v4.12h-4.35zM306.50 390.07h4.35v4.12h-4.35zM310.80 398.23h4.35v4.12h-4.35zM319.40 398.23h4.35v4.12h-4.35zM335.90 390.07h4.35v4.12h-4.35zM352.40 390.07h4.35v4.12h-4.35zM356.70 394.15h4.35v4.12h-4.35zM319.40 409.82h4.35v4.12h-4.35zM306.50 417.98h4.35v4.12h-4.35zM327.30 409.82h4.35v4.12h-4.35zM340.20 409.82h4.35v4.12h-4.35zM340.20 413.90h4.35v4.12h-4.35zM331.60 417.98h4.35v4.12h-4.35zM348.10 409.82h4.35v4.12h-4.35zM361.00 413.90h4.35v4.12h-4.35zM368.90 413.90h4.35v4.12h-4.35zM315.10 425.50h4.35v4.12h-4.35zM389.80 366.25h4.35v4.12h-4.35zM389.80 370.32h4.35v4.12h-4.35zM394.10 378.48h4.35v4.12h-4.35zM414.90 374.40h4.35v4.12h-4.35zM440.00 366.25h4.35v4.12h-4.35zM440.00 374.40h4.35v4.12h-4.35zM389.80 386.00h4.35v4.12h-4.35zM389.80 390.07h4.35v4.12h-4.35zM389.80 394.15h4.35v4.12h-4.35zM402.70 394.15h4.35v4.12h-4.35zM389.80 398.23h4.35v4.12h-4.35zM394.10 398.23h4.35v4.12h-4.35zM410.60 405.75h4.35v4.12h-4.35zM410.60 413.90h4.35v4.12h-4.35zM410.60 417.98h4.35v4.12h-4.35z"/>
<path fill="#42ffb5" d="M123.40 46.93h4.35v4.12h-4.35zM106.90 58.63h4.35v4.12h-4.35zM132.00 62.70h4.35v4.12h-4.35zM90.40 82.55h4.35v4.12h-4.35zM90.40 86.62h4.35v4.12h-4.35zM152.80 74.40h4.35v4.12h-4.35zM173.60 86.62h4.35v4.12h-4.35zM102.60 94.25h4.35v4.12h-4.35zM111.20 106.47h4.35v4.12h-4.35zM123.40 102.40h4.35v4.12h-4.35zM127.70 102.40h4.35v4.12h-4.35zM132.00 106.47h4.35v4.12h-4.35zM144.20 94.25h4.35v4.12h-4.35zM111.20 122.25h4.35v4.12h-4.35zM102.60 126.33h4.35v4.12h-4.35zM123.40 126.33h4.35v4.12h-4.35zM290.00 62.70h4.35v4.12h-4.35zM444.30 34.70h4.35v4.12h-4.35zM456.50 42.85h4.35v4.12h-4.35zM389.80 54.55h4.35v4.12h-4.35zM419.20 54.55h4.35v4.12h-4.35zM423.50 58.63h4.35v4.12h-4.35zM444.30 62.70h4.35v4.12h-4.35zM452.20 66.78h4.35v4.12h-4.35zM410.60 78.48h4.35v4.12h-4.35zM431.40 78.48h4.35v4.12h-4.35zM481.60 78.48h4.35v4.12h-4.35zM485.90 82.55h4.35v4.12h-4.35zM477.30 86.62h4.35v4.12h-4.35zM419.20 98.33h4.35v4.12h-4.35zM419.20 102.40h4.35v4.12h-4.35zM456.50 106.47h4.35v4.12h-4.35zM473.00 106.47h4.35v4.12h-4.35zM440.00 118.18h4.35v4.12h-4.35zM77.50 173.46h4.35v4.12h-4.35zM86.10 181.61h4.35v4.12h-4.35zM119.10 181.61h4.35v4.12h-4.35zM148.50 173.46h4.35v4.12h-4.35zM431.40 201.39h4.35v4.12h-4.35zM460.80 193.24h4.35v4.12h-4.35zM465.10 193.24h4.35v4.12h-4.35zM456.50 197.31h4.35v4.12h-4.35zM456.50 201.39h4.35v4.12h-4.35zM477.30 193.24h4.35v4.12h-4.35zM481.60 201.39h4.35v4.12h-4.35zM111.20 267.33h4.35v4.12h-4.35zM106.90 271.40h4.35v4.12h-4.35zM106.90 279.56h4.35v4.12h-4.35zM111.20 279.56h4.35v4.12h-4.35zM77.50 295.21h4.35v4.12h-4.35zM102.60 295.21h4.35v4.12h-4.35zM106.90 306.79h4.35v4.12h-4.35zM98.30 310.86h4.35v4.12h-4.35zM98.30 326.52h4.35v4.12h-4.35zM98.30 330.59h4.35v4.12h-4.35zM102.60 330.59h4.35v4.12h-4.35zM127.70 326.52h4.35v4.12h-4.35zM123.40 338.75h4.35v4.12h-4.35zM389.80 275.48h4.35v4.12h-4.35zM456.50 310.86h4.35v4.12h-4.35zM477.30 314.94h4.35v4.12h-4.35zM152.80 346.50h4.35v4.12h-4.35zM152.80 366.25h4.35v4.12h-4.35zM144.20 370.32h4.35v4.12h-4.35zM144.20 386.00h4.35v4.12h-4.35zM144.20 390.07h4.35v4.12h-4.35zM139.90 394.15h4.35v4.12h-4.35zM144.20 398.23h4.35v4.12h-4.35zM165.00 386.00h4.35v4.12h-4.35zM169.30 390.07h4.35v4.12h-4.35zM173.60 398.23h4.35v4.12h-4.35zM165.00 413.90h4.35v4.12h-4.35zM231.80 378.48h4.35v4.12h-4.35zM231.80 394.15h4.35v4.12h-4.35zM227.50 398.23h4.35v4.12h-4.35zM252.60 390.07h4.35v4.12h-4.35zM248.30 394.15h4.35v4.12h-4.35zM256.90 394.15h4.35v4.12h-4.35zM252.60 398.23h4.35v4.12h-4.35zM211.00 405.75h4.35v4.12h-4.35zM231.80 409.82h4.35v4.12h-4.35zM236.10 409.82h4.35v4.12h-4.35zM244.00 405.75h4.35v4.12h-4.35zM252.60 417.98h4.35v4.12h-4.35zM202.40 433.65h4.35v4.12h-4.35zM319.40 433.65h4.35v4.12h-4.35zM444.30 346.50h4.35v4.12h-4.35zM431.40 350.57h4.35v4.12h-4.35zM444.30 350.57h4.35v4.12h-4.35zM431.40 354.65h4.35v4.12h-4.35zM440.00 358.73h4.35v4.12h-4.35zM452.20 358.73h4.35v4.12h-4.35zM410.60 378.48h4.35v4.12h-4.35zM435.70 366.25h4.35v4.12h-4.35zM435.70 370.32h4.35v4.12h-4.35zM444.30 370.32h4.35v4.12h-4.35zM444.30 378.48h4.35v4.12h-4.35zM460.80 374.40h4.35v4.12h-4.35zM465.10 374.40h4.35v4.12h-4.35zM394.10 386.00h4.35v4.12h-4.35zM394.10 390.07h4.35v4.12h-4.35zM419.20 386.00h4.35v4.12h-4.35zM419.20 394.15h4.35v4.12h-4.35zM435.70 390.07h4.35v4.12h-4.35zM419.20 405.75h4.35v4.12h-4.35zM410.60 409.82h4.35v4.12h-4.35zM423.50 409.82h4.35v4.12h-4.35zM444.30 405.75h4.35v4.12h-4.35zM435.70 409.82h4.35v4.12h-4.35z"/>
<path fill="#4affad" d="M144.20 34.70h4.35v4.12h-4.35zM148.50 34.70h4.35v4.12h-4.35zM81.80 66.78h4.35v4.12h-4.35zM102.60 66.78h4.35v4.12h-4.35zM123.40 58.63h4.35v4.12h-4.35zM127.70 62.70h4.35v4.12h-4.35zM139.90 66.78h4.35v4.12h-4.35zM77.50 86.62h4.35v4.12h-4.35zM111.20 74.40h4.35v4.12h-4.35zM106.90 82.55h4.35v4.12h-4.35zM132.00 82.55h4.35v4.12h-4.35zM119.10 86.62h4.35v4.12h-4.35zM132.00 86.62h4.35v4.12h-4.35zM123.40 94.25h4.35v4.12h-4.35zM139.90 98.33h4.35v4.12h-4.35zM152.80 106.47h4.35v4.12h-4.35zM160.70 106.47h4.35v4.12h-4.35zM127.70 122.25h4.35v4.12h-4.35zM236.10 46.93h4.35v4.12h-4.35zM431.40 38.78h4.35v4.12h-4.35zM435.70 38.78h4.35v4.12h-4.35zM431.40 42.85h4.35v4.12h-4.35zM465.10 34.70h4.35v4.12h-4.35zM465.10 42.85h4.35v4.12h-4.35zM465.10 46.93h4.35v4.12h-4.35zM423.50 54.55h4.35v4.12h-4.35zM419.20 58.63h4.35v4.12h-4.35zM419.20 62.70h4.35v4.12h-4.35zM419.20 66.78h4.35v4.12h-4.35zM423.50 66.78h4.35v4.12h-4.35zM440.00 58.63h4.35v4.12h-4.35zM431.40 66.78h4.35v4.12h-4.35zM465.10 66.78h4.35v4.12h-4.35zM414.90 74.40h4.35v4.12h-4.35zM410.60 86.62h4.35v4.12h-4.35zM435.70 82.55h4.35v4.12h-4.35zM456.50 74.40h4.35v4.12h-4.35zM465.10 78.48h4.35v4.12h-4.35zM465.10 82.55h4.35v4.12h-4.35zM473.00 74.40h4.35v4.12h-4.35zM485.90 74.40h4.35v4.12h-4.35zM481.60 82.55h4.35v4.12h-4.35zM410.60 94.25h4.35v4.12h-4.35zM414.90 94.25h4.35v4.12h-4.35zM419.20 106.47h4.35v4.12h-4.35zM440.00 106.47h4.35v4.12h-4.35zM456.50 94.25h4.35v4.12h-4.35zM452.20 98.33h4.35v4.12h-4.35zM465.10 102.40h4.35v4.12h-4.35zM485.90 94.25h4.35v4.12h-4.35zM477.30 98.33h4.35v4.12h-4.35zM485.90 98.33h4.35v4.12h-4.35zM419.20 114.10h4.35v4.12h-4.35zM414.90 122.25h4.35v4.12h-4.35zM423.50 122.25h4.35v4.12h-4.35zM414.90 126.33h4.35v4.12h-4.35zM431.40 114.10h4.35v4.12h-4.35zM435.70 114.10h4.35v4.12h-4.35zM444.30 114.10h4.35v4.12h-4.35zM435.70 126.33h4.35v4.12h-4.35zM102.60 161.83h4.35v4.12h-4.35zM139.90 153.68h4.35v4.12h-4.35zM90.40 181.61h4.35v4.12h-4.35zM127.70 173.46h4.35v4.12h-4.35zM152.80 173.46h4.35v4.12h-4.35zM139.90 177.53h4.35v4.12h-4.35zM106.90 201.39h4.35v4.12h-4.35zM231.80 205.47h4.35v4.12h-4.35zM435.70 133.90h4.35v4.12h-4.35zM465.10 133.90h4.35v4.12h-4.35zM460.80 137.97h4.35v4.12h-4.35zM465.10 161.83h4.35v4.12h-4.35zM460.80 173.46h4.35v4.12h-4.35zM481.60 173.46h4.35v4.12h-4.35zM485.90 181.61h4.35v4.12h-4.35zM452.20 193.24h4.35v4.12h-4.35zM473.00 197.31h4.35v4.12h-4.35zM473.00 201.39h4.35v4.12h-4.35zM477.30 205.47h4.35v4.12h-4.35zM481.60 205.47h4.35v4.12h-4.35zM440.00 221.17h4.35v4.12h-4.35zM123.40 259.82h4.35v4.12h-4.35zM81.80 275.48h4.35v4.12h-4.35zM98.30 267.33h4.35v4.12h-4.35zM106.90 275.48h4.35v4.12h-4.35zM132.00 279.56h4.35v4.12h-4.35zM119.10 287.06h4.35v4.12h-4.35zM119.10 299.29h4.35v4.12h-4.35zM98.30 306.79h4.35v4.12h-4.35zM102.60 310.86h4.35v4.12h-4.35zM111.20 310.86h4.35v4.12h-4.35zM98.30 314.94h4.35v4.12h-4.35zM106.90 314.94h4.35v4.12h-4.35zM102.60 319.01h4.35v4.12h-4.35zM98.30 334.67h4.35v4.12h-4.35zM102.60 338.75h4.35v4.12h-4.35zM106.90 338.75h4.35v4.12h-4.35zM132.00 326.52h4.35v4.12h-4.35zM119.10 334.67h4.35v4.12h-4.35zM132.00 334.67h4.35v4.12h-4.35zM452.20 319.01h4.35v4.12h-4.35zM444.30 330.59h4.35v4.12h-4.35zM440.00 338.75h4.35v4.12h-4.35zM165.00 390.07h4.35v4.12h-4.35zM223.20 374.40h4.35v4.12h-4.35zM223.20 378.48h4.35v4.12h-4.35zM236.10 378.48h4.35v4.12h-4.35zM202.40 386.00h4.35v4.12h-4.35zM227.50 386.00h4.35v4.12h-4.35zM223.20 390.07h4.35v4.12h-4.35zM231.80 390.07h4.35v4.12h-4.35zM231.80 398.23h4.35v4.12h-4.35zM248.30 386.00h4.35v4.12h-4.35zM248.30 390.07h4.35v4.12h-4.35zM206.70 417.98h4.35v4.12h-4.35zM223.20 413.90h4.35v4.12h-4.35zM248.30 405.75h4.35v4.12h-4.35zM331.60 386.00h4.35v4.12h-4.35zM340.20 386.00h4.35v4.12h-4.35zM335.90 394.15h4.35v4.12h-4.35zM348.10 386.00h4.35v4.12h-4.35zM435.70 350.57h4.35v4.12h-4.35zM414.90 366.25h4.35v4.12h-4.35zM419.20 378.48h4.35v4.12h-4.35zM423.50 378.48h4.35v4.12h-4.35zM431.40 366.25h4.35v4.12h-4.35zM431.40 370.32h4.35v4.12h-4.35zM435.70 374.40h4.35v4.12h-4.35zM465.10 366.25h4.35v4.12h-4.35zM460.80 370.32h4.35v4.12h-4.35zM452.20 378.48h4.35v4.12h-4.35zM402.70 386.00h4.35v4.12h-4.35zM423.50 390.07h4.35v4.12h-4.35zM414.90 398.23h4.35v4.12h-4.35zM414.90 417.98h4.35v4.12h-4.35zM423.50 417.98h4.35v4.12h-4.35zM440.00 405.75h4.35v4.12h-4.35zM423.50 433.65h4.35v4.12h-4.35zM419.20 437.73h4.35v4.12h-4.35z"/>
<path fill="#8cff6b" d="M139.90 46.93h4.35v4.12h-4.35zM119.10 58.63h4.35v4.12h-4.35zM119.10 62.70h4.35v4.12h-4.35zM139.90 54.55h4.35v4.12h-4.35zM144.20 62.70h4.35v4.12h-4.35zM152.80 82.55h4.35v4.12h-4.35zM169.30 86.62h4.35v4.12h-4.35zM165.00 94.25h4.35v4.12h-4.35zM111.20 118.18h4.35v4.12h-4.35zM98.30 122.25h4.35v4.12h-4.35zM223.20 34.70h4.35v4.12h-4.35zM231.80 34.70h4.35v4.12h-4.35zM236.10 38.78h4.35v4.12h-4.35zM256.90 34.70h4.35v4.12h-4.35zM248.30 42.85h4.35v4.12h-4.35zM252.60 42.85h4.35v4.12h-4.35zM256.90 42.85h4.35v4.12h-4.35zM252.60 46.93h4.35v4.12h-4.35zM194.50 54.55h4.35v4.12h-4.35zM181.60 58.63h4.35v4.12h-4.35zM202.40 54.55h4.35v4.12h-4.35zM215.30 54.55h4.35v4.12h-4.35zM202.40 58.63h4.35v4.12h-4.35zM202.40 62.70h4.35v4.12h-4.35zM236.10 54.55h4.35v4.12h-4.35zM231.80 66.78h4.35v4.12h-4.35zM252.60 54.55h4.35v4.12h-4.35zM252.60 58.63h4.35v4.12h-4.35zM244.00 62.70h4.35v4.12h-4.35zM223.20 74.40h4.35v4.12h-4.35zM256.90 74.40h4.35v4.12h-4.35zM244.00 86.62h4.35v4.12h-4.35zM248.30 86.62h4.35v4.12h-4.35zM264.80 74.40h4.35v4.12h-4.35zM269.10 78.48h4.35v4.12h-4.35zM269.10 82.55h4.35v4.12h-4.35zM273.40 82.55h4.35v4.12h-4.35zM277.70 86.62h4.35v4.12h-4.35zM211.00 94.25h4.35v4.12h-4.35zM231.80 98.33h4.35v4.12h-4.35zM223.20 102.40h4.35v4.12h-4.35zM236.10 106.47h4.35v4.12h-4.35zM248.30 94.25h4.35v4.12h-4.35zM252.60 94.25h4.35v4.12h-4.35zM244.00 102.40h4.35v4.12h-4.35zM273.40 102.40h4.35v4.12h-4.35zM227.50 118.18h4.35v4.12h-4.35zM331.60 34.70h4.35v4.12h-4.35zM331.60 38.78h4.35v4.12h-4.35zM331.60 46.93h4.35v4.12h-4.35zM335.90 46.93h4.35v4.12h-4.35zM352.40 34.70h4.35v4.12h-4.35zM356.70 34.70h4.35v4.12h-4.35zM285.70 54.55h4.35v4.12h-4.35zM294.30 58.63h4.35v4.12h-4.35zM294.30 62.70h4.35v4.12h-4.35zM315.10 54.55h4.35v4.12h-4.35zM306.50 58.63h4.35v4.12h-4.35zM306.50 66.78h4.35v4.12h-4.35zM319.40 66.78h4.35v4.12h-4.35zM331.60 54.55h4.35v4.12h-4.35zM356.70 58.63h4.35v4.12h-4.35zM348.10 66.78h4.35v4.12h-4.35zM356.70 66.78h4.35v4.12h-4.35zM361.00 66.78h4.35v4.12h-4.35zM298.60 78.48h4.35v4.12h-4.35zM290.00 86.62h4.35v4.12h-4.35zM306.50 78.48h4.35v4.12h-4.35zM310.80 78.48h4.35v4.12h-4.35zM319.40 82.55h4.35v4.12h-4.35zM348.10 86.62h4.35v4.12h-4.35zM361.00 86.62h4.35v4.12h-4.35zM377.50 86.62h4.35v4.12h-4.35zM319.40 94.25h4.35v4.12h-4.35zM306.50 102.40h4.35v4.12h-4.35zM319.40 102.40h4.35v4.12h-4.35zM310.80 106.47h4.35v4.12h-4.35zM331.60 106.47h4.35v4.12h-4.35zM352.40 106.47h4.35v4.12h-4.35zM377.50 102.40h4.35v4.12h-4.35zM377.50 106.47h4.35v4.12h-4.35zM331.60 122.25h4.35v4.12h-4.35zM335.90 126.33h4.35v4.12h-4.35zM389.80 66.78h4.35v4.12h-4.35zM402.70 86.62h4.35v4.12h-4.35zM452.20 74.40h4.35v4.12h-4.35zM419.20 126.33h4.35v4.12h-4.35zM127.70 146.12h4.35v4.12h-4.35zM139.90 133.90h4.35v4.12h-4.35zM144.20 146.12h4.35v4.12h-4.35zM77.50 165.91h4.35v4.12h-4.35zM111.20 165.91h4.35v4.12h-4.35zM119.10 153.68h4.35v4.12h-4.35zM102.60 177.53h4.35v4.12h-4.35zM123.40 181.61h4.35v4.12h-4.35zM111.20 205.47h4.35v4.12h-4.35zM127.70 197.31h4.35v4.12h-4.35zM144.20 197.31h4.35v4.12h-4.35zM148.50 197.31h4.35v4.12h-4.35zM169.30 193.24h4.35v4.12h-4.35zM165.00 201.39h4.35v4.12h-4.35zM160.70 205.47h4.35v4.12h-4.35zM165.00 205.47h4.35v4.12h-4.35zM102.60 213.02h4.35v4.12h-4.35zM111.20 217.09h4.35v4.12h-4.35zM132.00 217.09h4.35v4.12h-4.35zM127.70 225.25h4.35v4.12h-4.35zM227.50 133.90h4.35v4.12h-4.35zM231.80 133.90h4.35v4.12h-4.35zM231.80 142.05h4.35v4.12h-4.35zM236.10 142.05h4.35v4.12h-4.35zM190.20 165.91h4.35v4.12h-4.35zM202.40 157.75h4.35v4.12h-4.35zM236.10 157.75h4.35v4.12h-4.35zM223.20 165.91h4.35v4.12h-4.35zM236.10 165.91h4.35v4.12h-4.35zM244.00 153.68h4.35v4.12h-4.35zM256.90 153.68h4.35v4.12h-4.35zM252.60 157.75h4.35v4.12h-4.35zM256.90 157.75h4.35v4.12h-4.35zM190.20 173.46h4.35v4.12h-4.35zM181.60 177.53h4.35v4.12h-4.35zM227.50 177.53h4.35v4.12h-4.35zM256.90 177.53h4.35v4.12h-4.35zM264.80 185.69h4.35v4.12h-4.35zM215.30 201.39h4.35v4.12h-4.35zM223.20 197.31h4.35v4.12h-4.35zM236.10 197.31h4.35v4.12h-4.35zM223.20 201.39h4.35v4.12h-4.35zM231.80 201.39h4.35v4.12h-4.35zM256.90 193.24h4.35v4.12h-4.35zM256.90 201.39h4.35v4.12h-4.35zM248.30 205.47h4.35v4.12h-4.35zM256.90 205.47h4.35v4.12h-4.35zM264.80 193.24h4.35v4.12h-4.35zM202.40 213.02h4.35v4.12h-4.35zM211.00 213.02h4.35v4.12h-4.35zM227.50 217.09h4.35v4.12h-4.35zM236.10 221.17h4.35v4.12h-4.35zM236.10 225.25h4.35v4.12h-4.35zM327.30 137.97h4.35v4.12h-4.35zM331.60 137.97h4.35v4.12h-4.35zM340.20 137.97h4.35v4.12h-4.35zM327.30 146.12h4.35v4.12h-4.35zM331.60 146.12h4.35v4.12h-4.35zM335.90 146.12h4.35v4.12h-4.35zM348.10 137.97h4.35v4.12h-4.35zM361.00 137.97h4.35v4.12h-4.35zM298.60 153.68h4.35v4.12h-4.35zM285.70 157.75h4.35v4.12h-4.35zM290.00 161.83h4.35v4.12h-4.35zM306.50 161.83h4.35v4.12h-4.35zM315.10 161.83h4.35v4.12h-4.35zM310.80 165.91h4.35v4.12h-4.35zM335.90 153.68h4.35v4.12h-4.35zM327.30 157.75h4.35v4.12h-4.35zM298.60 173.46h4.35v4.12h-4.35zM294.30 185.69h4.35v4.12h-4.35zM315.10 177.53h4.35v4.12h-4.35zM331.60 181.61h4.35v4.12h-4.35zM356.70 173.46h4.35v4.12h-4.35zM356.70 177.53h4.35v4.12h-4.35zM368.90 177.53h4.35v4.12h-4.35zM373.20 181.61h4.35v4.12h-4.35zM315.10 193.24h4.35v4.12h-4.35zM327.30 197.31h4.35v4.12h-4.35zM335.90 197.31h4.35v4.12h-4.35zM352.40 193.24h4.35v4.12h-4.35zM356.70 193.24h4.35v4.12h-4.35zM377.50 197.31h4.35v4.12h-4.35zM368.90 205.47h4.35v4.12h-4.35zM310.80 213.02h4.35v4.12h-4.35zM306.50 217.09h4.35v4.12h-4.35zM306.50 225.25h4.35v4.12h-4.35zM327.30 217.09h4.35v4.12h-4.35zM394.10 153.68h4.35v4.12h-4.35zM398.40 153.68h4.35v4.12h-4.35zM398.40 165.91h4.35v4.12h-4.35zM419.20 165.91h4.35v4.12h-4.35zM423.50 165.91h4.35v4.12h-4.35zM440.00 157.75h4.35v4.12h-4.35zM389.80 173.46h4.35v4.12h-4.35zM414.90 173.46h4.35v4.12h-4.35zM423.50 193.24h4.35v4.12h-4.35zM423.50 197.31h4.35v4.12h-4.35zM410.60 201.39h4.35v4.12h-4.35zM423.50 217.09h4.35v4.12h-4.35zM410.60 221.17h4.35v4.12h-4.35zM414.90 221.17h4.35v4.12h-4.35zM410.60 225.25h4.35v4.12h-4.35zM435.70 213.02h4.35v4.12h-4.35zM435.70 217.09h4.35v4.12h-4.35zM435.70 225.25h4.35v4.12h-4.35zM144.20 267.33h4.35v4.12h-4.35zM102.60 291.13h4.35v4.12h-4.35zM152.80 291.13h4.35v4.12h-4.35zM173.60 287.06h4.35v4.12h-4.35zM165.00 299.29h4.35v4.12h-4.35zM173.60 299.29h4.35v4.12h-4.35zM152.80 310.86h4.35v4.12h-4.35zM152.80 314.94h4.35v4.12h-4.35zM348.10 251.67h4.35v4.12h-4.35zM315.10 314.94h4.35v4.12h-4.35zM440.00 251.67h4.35v4.12h-4.35zM452.20 247.60h4.35v4.12h-4.35zM460.80 251.67h4.35v4.12h-4.35zM465.10 251.67h4.35v4.12h-4.35zM456.50 255.75h4.35v4.12h-4.35zM435.70 267.33h4.35v4.12h-4.35zM452.20 271.40h4.35v4.12h-4.35zM465.10 271.40h4.35v4.12h-4.35zM452.20 279.56h4.35v4.12h-4.35zM389.80 291.13h4.35v4.12h-4.35zM444.30 287.06h4.35v4.12h-4.35zM431.40 291.13h4.35v4.12h-4.35zM440.00 291.13h4.35v4.12h-4.35zM435.70 295.21h4.35v4.12h-4.35zM444.30 295.21h4.35v4.12h-4.35zM419.20 310.86h4.35v4.12h-4.35zM414.90 314.94h4.35v4.12h-4.35zM431.40 314.94h4.35v4.12h-4.35zM435.70 314.94h4.35v4.12h-4.35zM431.40 319.01h4.35v4.12h-4.35zM423.50 326.52h4.35v4.12h-4.35zM410.60 330.59h4.35v4.12h-4.35zM223.20 358.73h4.35v4.12h-4.35zM227.50 358.73h4.35v4.12h-4.35zM252.60 378.48h4.35v4.12h-4.35zM277.70 386.00h4.35v4.12h-4.35zM264.80 390.07h4.35v4.12h-4.35zM264.80 398.23h4.35v4.12h-4.35zM248.30 417.98h4.35v4.12h-4.35zM348.10 350.57h4.35v4.12h-4.35zM356.70 350.57h4.35v4.12h-4.35zM285.70 378.48h4.35v4.12h-4.35zM335.90 370.32h4.35v4.12h-4.35zM340.20 370.32h4.35v4.12h-4.35zM335.90 374.40h4.35v4.12h-4.35zM298.60 394.15h4.35v4.12h-4.35zM310.80 390.07h4.35v4.12h-4.35zM315.10 394.15h4.35v4.12h-4.35zM315.10 405.75h4.35v4.12h-4.35zM331.60 405.75h4.35v4.12h-4.35zM356.70 413.90h4.35v4.12h-4.35zM381.80 405.75h4.35v4.12h-4.35zM377.50 413.90h4.35v4.12h-4.35zM381.80 413.90h4.35v4.12h-4.35zM373.20 417.98h4.35v4.12h-4.35zM306.50 433.65h4.35v4.12h-4.35zM331.60 429.57h4.35v4.12h-4.35zM327.30 437.73h4.35v4.12h-4.35zM331.60 437.73h4.35v4.12h-4.35z"/>
<path fill="#84ff73" d="M148.50 46.93h4.35v4.12h-4.35zM81.80 62.70h4.35v4.12h-4.35zM90.40 66.78h4.35v4.12h-4.35zM132.00 66.78h4.35v4.12h-4.35zM148.50 62.70h4.35v4.12h-4.35zM148.50 66.78h4.35v4.12h-4.35zM102.60 74.40h4.35v4.12h-4.35zM173.60 74.40h4.35v4.12h-4.35zM169.30 78.48h4.35v4.12h-4.35zM160.70 82.55h4.35v4.12h-4.35zM160.70 94.25h4.35v4.12h-4.35zM169.30 94.25h4.35v4.12h-4.35zM160.70 102.40h4.35v4.12h-4.35zM111.20 114.10h4.35v4.12h-4.35zM106.90 126.33h4.35v4.12h-4.35zM123.40 118.18h4.35v4.12h-4.35zM231.80 46.93h4.35v4.12h-4.35zM244.00 34.70h4.35v4.12h-4.35zM256.90 38.78h4.35v4.12h-4.35zM244.00 46.93h4.35v4.12h-4.35zM256.90 46.93h4.35v4.12h-4.35zM185.90 62.70h4.35v4.12h-4.35zM194.50 66.78h4.35v4.12h-4.35zM211.00 58.63h4.35v4.12h-4.35zM236.10 66.78h4.35v4.12h-4.35zM252.60 62.70h4.35v4.12h-4.35zM256.90 66.78h4.35v4.12h-4.35zM215.30 78.48h4.35v4.12h-4.35zM211.00 82.55h4.35v4.12h-4.35zM211.00 86.62h4.35v4.12h-4.35zM231.80 74.40h4.35v4.12h-4.35zM252.60 74.40h4.35v4.12h-4.35zM277.70 82.55h4.35v4.12h-4.35zM223.20 98.33h4.35v4.12h-4.35zM227.50 98.33h4.35v4.12h-4.35zM252.60 98.33h4.35v4.12h-4.35zM277.70 98.33h4.35v4.12h-4.35zM327.30 34.70h4.35v4.12h-4.35zM331.60 42.85h4.35v4.12h-4.35zM340.20 42.85h4.35v4.12h-4.35zM356.70 38.78h4.35v4.12h-4.35zM348.10 46.93h4.35v4.12h-4.35zM285.70 58.63h4.35v4.12h-4.35zM310.80 66.78h4.35v4.12h-4.35zM340.20 58.63h4.35v4.12h-4.35zM327.30 62.70h4.35v4.12h-4.35zM331.60 62.70h4.35v4.12h-4.35zM356.70 54.55h4.35v4.12h-4.35zM348.10 58.63h4.35v4.12h-4.35zM294.30 82.55h4.35v4.12h-4.35zM319.40 86.62h4.35v4.12h-4.35zM331.60 74.40h4.35v4.12h-4.35zM335.90 82.55h4.35v4.12h-4.35zM348.10 74.40h4.35v4.12h-4.35zM352.40 74.40h4.35v4.12h-4.35zM352.40 78.48h4.35v4.12h-4.35zM381.80 78.48h4.35v4.12h-4.35zM368.90 86.62h4.35v4.12h-4.35zM361.00 94.25h4.35v4.12h-4.35zM352.40 102.40h4.35v4.12h-4.35zM356.70 102.40h4.35v4.12h-4.35zM361.00 102.40h4.35v4.12h-4.35zM356.70 106.47h4.35v4.12h-4.35zM381.80 94.25h4.35v4.12h-4.35zM377.50 98.33h4.35v4.12h-4.35zM373.20 102.40h4.35v4.12h-4.35zM335.90 114.10h4.35v4.12h-4.35zM327.30 122.25h4.35v4.12h-4.35zM402.70 62.70h4.35v4.12h-4.35zM414.90 114.10h4.35v4.12h-4.35zM423.50 126.33h4.35v4.12h-4.35zM119.10 137.97h4.35v4.12h-4.35zM127.70 142.05h4.35v4.12h-4.35zM132.00 142.05h4.35v4.12h-4.35zM144.20 133.90h4.35v4.12h-4.35zM148.50 133.90h4.35v4.12h-4.35zM152.80 142.05h4.35v4.12h-4.35zM81.80 161.83h4.35v4.12h-4.35zM102.60 153.68h4.35v4.12h-4.35zM123.40 153.68h4.35v4.12h-4.35zM127.70 161.83h4.35v4.12h-4.35zM119.10 165.91h4.35v4.12h-4.35zM139.90 161.83h4.35v4.12h-4.35zM90.40 173.46h4.35v4.12h-4.35zM102.60 181.61h4.35v4.12h-4.35zM132.00 173.46h4.35v4.12h-4.35zM127.70 177.53h4.35v4.12h-4.35zM165.00 181.61h4.35v4.12h-4.35zM173.60 185.69h4.35v4.12h-4.35zM98.30 201.39h4.35v4.12h-4.35zM102.60 205.47h4.35v4.12h-4.35zM132.00 193.24h4.35v4.12h-4.35zM132.00 197.31h4.35v4.12h-4.35zM123.40 201.39h4.35v4.12h-4.35zM139.90 193.24h4.35v4.12h-4.35zM139.90 197.31h4.35v4.12h-4.35zM160.70 201.39h4.35v4.12h-4.35zM169.30 205.47h4.35v4.12h-4.35zM98.30 213.02h4.35v4.12h-4.35zM98.30 217.09h4.35v4.12h-4.35zM102.60 217.09h4.35v4.12h-4.35zM111.20 221.17h4.35v4.12h-4.35zM119.10 213.02h4.35v4.12h-4.35zM223.20 133.90h4.35v4.12h-4.35zM227.50 137.97h4.35v4.12h-4.35zM248.30 137.97h4.35v4.12h-4.35zM256.90 142.05h4.35v4.12h-4.35zM244.00 146.12h4.35v4.12h-4.35zM181.60 153.68h4.35v4.12h-4.35zM190.20 157.75h4.35v4.12h-4.35zM211.00 153.68h4.35v4.12h-4.35zM215.30 165.91h4.35v4.12h-4.35zM252.60 165.91h4.35v4.12h-4.35zM194.50 185.69h4.35v4.12h-4.35zM223.20 173.46h4.35v4.12h-4.35zM223.20 181.61h4.35v4.12h-4.35zM227.50 185.69h4.35v4.12h-4.35zM248.30 173.46h4.35v4.12h-4.35zM256.90 181.61h4.35v4.12h-4.35zM264.80 181.61h4.35v4.12h-4.35zM269.10 185.69h4.35v4.12h-4.35zM215.30 193.24h4.35v4.12h-4.35zM215.30 205.47h4.35v4.12h-4.35zM227.50 205.47h4.35v4.12h-4.35zM236.10 205.47h4.35v4.12h-4.35zM252.60 201.39h4.35v4.12h-4.35zM252.60 205.47h4.35v4.12h-4.35zM273.40 201.39h4.35v4.12h-4.35zM264.80 205.47h4.35v4.12h-4.35zM273.40 205.47h4.35v4.12h-4.35zM206.70 213.02h4.35v4.12h-4.35zM211.00 217.09h4.35v4.12h-4.35zM215.30 221.17h4.35v4.12h-4.35zM202.40 225.25h4.35v4.12h-4.35zM211.00 225.25h4.35v4.12h-4.35zM227.50 221.17h4.35v4.12h-4.35zM327.30 133.90h4.35v4.12h-4.35zM335.90 133.90h4.35v4.12h-4.35zM340.20 133.90h4.35v4.12h-4.35zM352.40 133.90h4.35v4.12h-4.35zM298.60 161.83h4.35v4.12h-4.35zM310.80 153.68h4.35v4.12h-4.35zM319.40 153.68h4.35v4.12h-4.35zM306.50 157.75h4.35v4.12h-4.35zM310.80 161.83h4.35v4.12h-4.35zM319.40 165.91h4.35v4.12h-4.35zM340.20 153.68h4.35v4.12h-4.35zM327.30 165.91h4.35v4.12h-4.35zM348.10 161.83h4.35v4.12h-4.35zM352.40 165.91h4.35v4.12h-4.35zM290.00 173.46h4.35v4.12h-4.35zM298.60 181.61h4.35v4.12h-4.35zM315.10 173.46h4.35v4.12h-4.35zM348.10 173.46h4.35v4.12h-4.35zM352.40 173.46h4.35v4.12h-4.35zM348.10 177.53h4.35v4.12h-4.35zM377.50 177.53h4.35v4.12h-4.35zM373.20 185.69h4.35v4.12h-4.35zM381.80 185.69h4.35v4.12h-4.35zM306.50 201.39h4.35v4.12h-4.35zM331.60 197.31h4.35v4.12h-4.35zM368.90 197.31h4.35v4.12h-4.35zM373.20 197.31h4.35v4.12h-4.35zM368.90 201.39h4.35v4.12h-4.35zM331.60 217.09h4.35v4.12h-4.35zM335.90 217.09h4.35v4.12h-4.35zM327.30 225.25h4.35v4.12h-4.35zM440.00 142.05h4.35v4.12h-4.35zM389.80 157.75h4.35v4.12h-4.35zM398.40 157.75h4.35v4.12h-4.35zM394.10 161.83h4.35v4.12h-4.35zM410.60 165.91h4.35v4.12h-4.35zM444.30 161.83h4.35v4.12h-4.35zM456.50 153.68h4.35v4.12h-4.35zM402.70 173.46h4.35v4.12h-4.35zM398.40 177.53h4.35v4.12h-4.35zM398.40 181.61h4.35v4.12h-4.35zM410.60 177.53h4.35v4.12h-4.35zM423.50 185.69h4.35v4.12h-4.35zM440.00 173.46h4.35v4.12h-4.35zM410.60 197.31h4.35v4.12h-4.35zM419.20 201.39h4.35v4.12h-4.35zM435.70 193.24h4.35v4.12h-4.35zM431.40 205.47h4.35v4.12h-4.35zM414.90 213.02h4.35v4.12h-4.35zM419.20 213.02h4.35v4.12h-4.35zM419.20 217.09h4.35v4.12h-4.35zM444.30 217.09h4.35v4.12h-4.35zM440.00 225.25h4.35v4.12h-4.35zM127.70 247.60h4.35v4.12h-4.35zM132.00 259.82h4.35v4.12h-4.35zM148.50 247.60h4.35v4.12h-4.35zM132.00 267.33h4.35v4.12h-4.35zM144.20 275.48h4.35v4.12h-4.35zM152.80 275.48h4.35v4.12h-4.35zM106.90 287.06h4.35v4.12h-4.35zM123.40 287.06h4.35v4.12h-4.35zM148.50 287.06h4.35v4.12h-4.35zM144.20 295.21h4.35v4.12h-4.35zM160.70 287.06h4.35v4.12h-4.35zM165.00 291.13h4.35v4.12h-4.35zM169.30 299.29h4.35v4.12h-4.35zM127.70 310.86h4.35v4.12h-4.35zM144.20 306.79h4.35v4.12h-4.35zM148.50 306.79h4.35v4.12h-4.35zM144.20 310.86h4.35v4.12h-4.35zM173.60 314.94h4.35v4.12h-4.35zM444.30 247.60h4.35v4.12h-4.35zM431.40 259.82h4.35v4.12h-4.35zM423.50 267.33h4.35v4.12h-4.35zM444.30 275.48h4.35v4.12h-4.35zM465.10 267.33h4.35v4.12h-4.35zM423.50 295.21h4.35v4.12h-4.35zM431.40 287.06h4.35v4.12h-4.35zM444.30 291.13h4.35v4.12h-4.35zM440.00 295.21h4.35v4.12h-4.35zM465.10 295.21h4.35v4.12h-4.35zM481.60 291.13h4.35v4.12h-4.35zM419.20 314.94h4.35v4.12h-4.35zM419.20 319.01h4.35v4.12h-4.35zM435.70 310.86h4.35v4.12h-4.35zM440.00 319.01h4.35v4.12h-4.35zM477.30 306.79h4.35v4.12h-4.35zM410.60 326.52h4.35v4.12h-4.35zM414.90 330.59h4.35v4.12h-4.35zM419.20 330.59h4.35v4.12h-4.35zM423.50 330.59h4.35v4.12h-4.35zM435.70 338.75h4.35v4.12h-4.35zM244.00 370.32h4.35v4.12h-4.35zM244.00 374.40h4.35v4.12h-4.35zM252.60 374.40h4.35v4.12h-4.35zM277.70 390.07h4.35v4.12h-4.35zM269.10 398.23h4.35v4.12h-4.35zM340.20 366.25h4.35v4.12h-4.35zM361.00 374.40h4.35v4.12h-4.35zM356.70 378.48h4.35v4.12h-4.35zM306.50 394.15h4.35v4.12h-4.35zM327.30 390.07h4.35v4.12h-4.35zM331.60 390.07h4.35v4.12h-4.35zM373.20 386.00h4.35v4.12h-4.35zM310.80 409.82h4.35v4.12h-4.35zM352.40 405.75h4.35v4.12h-4.35zM356.70 405.75h4.35v4.12h-4.35zM356.70 409.82h4.35v4.12h-4.35zM352.40 413.90h4.35v4.12h-4.35zM368.90 409.82h4.35v4.12h-4.35zM381.80 417.98h4.35v4.12h-4.35zM306.50 429.57h4.35v4.12h-4.35zM315.10 429.57h4.35v4.12h-4.35zM319.40 429.57h4.35v4.12h-4.35zM306.50 437.73h4.35v4.12h-4.35zM327.30 429.57h4.35v4.12h-4.35zM331.60 433.65h4.35v4.12h-4.35zM394.10 366.25h4.35v4.12h-4.35zM423.50 366.25h4.35v4.12h-4.35z"/>
<path fill="#bdff3a" d="M77.50 58.63h4.35v4.12h-4.35zM185.90 58.63h4.35v4.12h-4.35zM194.50 62.70h4.35v4.12h-4.35zM215.30 62.70h4.35v4.12h-4.35zM273.40 78.48h4.35v4.12h-4.35zM202.40 98.33h4.35v4.12h-4.35zM206.70 98.33h4.35v4.12h-4.35zM211.00 102.40h4.35v4.12h-4.35zM231.80 106.47h4.35v4.12h-4.35zM202.40 114.10h4.35v4.12h-4.35zM206.70 118.18h4.35v4.12h-4.35zM202.40 122.25h4.35v4.12h-4.35zM236.10 114.10h4.35v4.12h-4.35zM368.90 82.55h4.35v4.12h-4.35zM315.10 102.40h4.35v4.12h-4.35zM306.50 126.33h4.35v4.12h-4.35zM319.40 126.33h4.35v4.12h-4.35zM185.90 181.61h4.35v4.12h-4.35zM215.30 177.53h4.35v4.12h-4.35zM206.70 181.61h4.35v4.12h-4.35zM211.00 181.61h4.35v4.12h-4.35zM306.50 185.69h4.35v4.12h-4.35zM319.40 197.31h4.35v4.12h-4.35zM319.40 217.09h4.35v4.12h-4.35zM139.90 259.82h4.35v4.12h-4.35zM173.60 295.21h4.35v4.12h-4.35zM252.60 251.67h4.35v4.12h-4.35zM181.60 271.40h4.35v4.12h-4.35zM231.80 271.40h4.35v4.12h-4.35zM194.50 291.13h4.35v4.12h-4.35zM215.30 287.06h4.35v4.12h-4.35zM227.50 287.06h4.35v4.12h-4.35zM231.80 287.06h4.35v4.12h-4.35zM202.40 310.86h4.35v4.12h-4.35zM211.00 319.01h4.35v4.12h-4.35zM264.80 310.86h4.35v4.12h-4.35zM211.00 330.59h4.35v4.12h-4.35zM206.70 334.67h4.35v4.12h-4.35zM361.00 247.60h4.35v4.12h-4.35zM352.40 251.67h4.35v4.12h-4.35zM306.50 275.48h4.35v4.12h-4.35zM310.80 275.48h4.35v4.12h-4.35zM327.30 275.48h4.35v4.12h-4.35zM335.90 279.56h4.35v4.12h-4.35zM310.80 295.21h4.35v4.12h-4.35zM331.60 299.29h4.35v4.12h-4.35zM335.90 299.29h4.35v4.12h-4.35zM315.10 306.79h4.35v4.12h-4.35zM331.60 310.86h4.35v4.12h-4.35zM331.60 314.94h4.35v4.12h-4.35zM361.00 306.79h4.35v4.12h-4.35zM373.20 306.79h4.35v4.12h-4.35zM373.20 310.86h4.35v4.12h-4.35zM381.80 310.86h4.35v4.12h-4.35zM377.50 319.01h4.35v4.12h-4.35zM414.90 271.40h4.35v4.12h-4.35zM419.20 287.06h4.35v4.12h-4.35zM423.50 334.67h4.35v4.12h-4.35zM236.10 346.50h4.35v4.12h-4.35zM227.50 350.57h4.35v4.12h-4.35zM244.00 346.50h4.35v4.12h-4.35zM244.00 354.65h4.35v4.12h-4.35zM269.10 390.07h4.35v4.12h-4.35zM277.70 398.23h4.35v4.12h-4.35zM331.60 350.57h4.35v4.12h-4.35zM335.90 354.65h4.35v4.12h-4.35zM319.40 378.48h4.35v4.12h-4.35zM335.90 378.48h4.35v4.12h-4.35zM285.70 390.07h4.35v4.12h-4.35zM285.70 398.23h4.35v4.12h-4.35zM298.60 398.23h4.35v4.12h-4.35z"/>
<path fill="#3affbd" d="M98.30 54.55h4.35v4.12h-4.35zM86.10 74.40h4.35v4.12h-4.35zM165.00 74.40h4.35v4.12h-4.35zM173.60 78.48h4.35v4.12h-4.35zM111.20 94.25h4.35v4.12h-4.35zM169.30 102.40h4.35v4.12h-4.35zM444.30 46.93h4.35v4.12h-4.35zM460.80 46.93h4.35v4.12h-4.35zM402.70 66.78h4.35v4.12h-4.35zM431.40 74.40h4.35v4.12h-4.35zM452.20 86.62h4.35v4.12h-4.35zM481.60 74.40h4.35v4.12h-4.35zM481.60 86.62h4.35v4.12h-4.35zM485.90 86.62h4.35v4.12h-4.35zM419.20 94.25h4.35v4.12h-4.35zM410.60 98.33h4.35v4.12h-4.35zM444.30 102.40h4.35v4.12h-4.35zM410.60 126.33h4.35v4.12h-4.35zM440.00 126.33h4.35v4.12h-4.35zM119.10 221.17h4.35v4.12h-4.35zM444.30 177.53h4.35v4.12h-4.35zM440.00 185.69h4.35v4.12h-4.35zM477.30 181.61h4.35v4.12h-4.35zM481.60 181.61h4.35v4.12h-4.35zM481.60 185.69h4.35v4.12h-4.35zM465.10 197.31h4.35v4.12h-4.35zM465.10 201.39h4.35v4.12h-4.35zM81.80 267.33h4.35v4.12h-4.35zM81.80 271.40h4.35v4.12h-4.35zM77.50 279.56h4.35v4.12h-4.35zM81.80 279.56h4.35v4.12h-4.35zM98.30 295.21h4.35v4.12h-4.35zM127.70 287.06h4.35v4.12h-4.35zM111.20 314.94h4.35v4.12h-4.35zM111.20 319.01h4.35v4.12h-4.35zM106.90 334.67h4.35v4.12h-4.35zM127.70 338.75h4.35v4.12h-4.35zM132.00 338.75h4.35v4.12h-4.35zM477.30 295.21h4.35v4.12h-4.35zM152.80 390.07h4.35v4.12h-4.35zM169.30 405.75h4.35v4.12h-4.35zM173.60 409.82h4.35v4.12h-4.35zM169.30 413.90h4.35v4.12h-4.35zM206.70 386.00h4.35v4.12h-4.35zM252.60 386.00h4.35v4.12h-4.35zM244.00 390.07h4.35v4.12h-4.35zM244.00 394.15h4.35v4.12h-4.35zM202.40 405.75h4.35v4.12h-4.35zM223.20 405.75h4.35v4.12h-4.35zM236.10 413.90h4.35v4.12h-4.35zM223.20 417.98h4.35v4.12h-4.35zM277.70 409.82h4.35v4.12h-4.35zM206.70 433.65h4.35v4.12h-4.35zM435.70 358.73h4.35v4.12h-4.35zM456.50 346.50h4.35v4.12h-4.35zM456.50 354.65h4.35v4.12h-4.35zM460.80 354.65h4.35v4.12h-4.35zM456.50 358.73h4.35v4.12h-4.35zM444.30 366.25h4.35v4.12h-4.35zM431.40 378.48h4.35v4.12h-4.35zM440.00 378.48h4.35v4.12h-4.35zM456.50 370.32h4.35v4.12h-4.35zM452.20 374.40h4.35v4.12h-4.35zM414.90 386.00h4.35v4.12h-4.35zM423.50 386.00h4.35v4.12h-4.35zM414.90 390.07h4.35v4.12h-4.35zM419.20 390.07h4.35v4.12h-4.35zM423.50 394.15h4.35v4.12h-4.35zM419.20 398.23h4.35v4.12h-4.35zM431.40 386.00h4.35v4.12h-4.35zM431.40 398.23h4.35v4.12h-4.35zM435.70 398.23h4.35v4.12h-4.35zM444.30 409.82h4.35v4.12h-4.35zM414.90 433.65h4.35v4.12h-4.35zM419.20 433.65h4.35v4.12h-4.35z"/>
<path fill="#94ff63" d="M139.90 58.63h4.35v4.12h-4.35zM165.00 82.55h4.35v4.12h-4.35zM106.90 106.47h4.35v4.12h-4.35zM248.30 46.93h4.35v4.12h-4.35zM181.60 66.78h4.35v4.12h-4.35zM206.70 54.55h4.35v4.12h-4.35zM215.30 66.78h4.35v4.12h-4.35zM223.20 54.55h4.35v4.12h-4.35zM231.80 54.55h4.35v4.12h-4.35zM223.20 58.63h4.35v4.12h-4.35zM236.10 58.63h4.35v4.12h-4.35zM227.50 66.78h4.35v4.12h-4.35zM181.60 74.40h4.35v4.12h-4.35zM185.90 82.55h4.35v4.12h-4.35zM190.20 82.55h4.35v4.12h-4.35zM202.40 74.40h4.35v4.12h-4.35zM206.70 78.48h4.35v4.12h-4.35zM206.70 82.55h4.35v4.12h-4.35zM227.50 78.48h4.35v4.12h-4.35zM223.20 82.55h4.35v4.12h-4.35zM231.80 86.62h4.35v4.12h-4.35zM248.30 74.40h4.35v4.12h-4.35zM256.90 78.48h4.35v4.12h-4.35zM269.10 74.40h4.35v4.12h-4.35zM264.80 82.55h4.35v4.12h-4.35zM202.40 94.25h4.35v4.12h-4.35zM211.00 106.47h4.35v4.12h-4.35zM236.10 98.33h4.35v4.12h-4.35zM252.60 106.47h4.35v4.12h-4.35zM273.40 94.25h4.35v4.12h-4.35zM269.10 98.33h4.35v4.12h-4.35zM340.20 46.93h4.35v4.12h-4.35zM290.00 54.55h4.35v4.12h-4.35zM319.40 54.55h4.35v4.12h-4.35zM310.80 58.63h4.35v4.12h-4.35zM319.40 58.63h4.35v4.12h-4.35zM310.80 62.70h4.35v4.12h-4.35zM315.10 66.78h4.35v4.12h-4.35zM298.60 74.40h4.35v4.12h-4.35zM290.00 78.48h4.35v4.12h-4.35zM285.70 82.55h4.35v4.12h-4.35zM294.30 86.62h4.35v4.12h-4.35zM298.60 86.62h4.35v4.12h-4.35zM310.80 74.40h4.35v4.12h-4.35zM306.50 86.62h4.35v4.12h-4.35zM310.80 86.62h4.35v4.12h-4.35zM331.60 78.48h4.35v4.12h-4.35zM340.20 78.48h4.35v4.12h-4.35zM327.30 82.55h4.35v4.12h-4.35zM327.30 86.62h4.35v4.12h-4.35zM331.60 86.62h4.35v4.12h-4.35zM352.40 82.55h4.35v4.12h-4.35zM356.70 82.55h4.35v4.12h-4.35zM306.50 94.25h4.35v4.12h-4.35zM340.20 98.33h4.35v4.12h-4.35zM352.40 94.25h4.35v4.12h-4.35zM348.10 102.40h4.35v4.12h-4.35zM348.10 106.47h4.35v4.12h-4.35zM361.00 106.47h4.35v4.12h-4.35zM377.50 94.25h4.35v4.12h-4.35zM373.20 98.33h4.35v4.12h-4.35zM306.50 114.10h4.35v4.12h-4.35zM306.50 118.18h4.35v4.12h-4.35zM319.40 118.18h4.35v4.12h-4.35zM315.10 122.25h4.35v4.12h-4.35zM310.80 126.33h4.35v4.12h-4.35zM327.30 114.10h4.35v4.12h-4.35zM340.20 114.10h4.35v4.12h-4.35zM327.30 118.18h4.35v4.12h-4.35zM331.60 118.18h4.35v4.12h-4.35zM398.40 82.55h4.35v4.12h-4.35zM152.80 133.90h4.35v4.12h-4.35zM139.90 146.12h4.35v4.12h-4.35zM148.50 146.12h4.35v4.12h-4.35zM127.70 165.91h4.35v4.12h-4.35zM132.00 181.61h4.35v4.12h-4.35zM173.60 173.46h4.35v4.12h-4.35zM169.30 177.53h4.35v4.12h-4.35zM160.70 181.61h4.35v4.12h-4.35zM173.60 181.61h4.35v4.12h-4.35zM119.10 201.39h4.35v4.12h-4.35zM144.20 201.39h4.35v4.12h-4.35zM152.80 201.39h4.35v4.12h-4.35zM173.60 193.24h4.35v4.12h-4.35zM127.70 213.02h4.35v4.12h-4.35zM223.20 142.05h4.35v4.12h-4.35zM227.50 146.12h4.35v4.12h-4.35zM244.00 142.05h4.35v4.12h-4.35zM248.30 142.05h4.35v4.12h-4.35zM252.60 146.12h4.35v4.12h-4.35zM185.90 157.75h4.35v4.12h-4.35zM181.60 161.83h4.35v4.12h-4.35zM206.70 157.75h4.35v4.12h-4.35zM206.70 161.83h4.35v4.12h-4.35zM227.50 153.68h4.35v4.12h-4.35zM223.20 157.75h4.35v4.12h-4.35zM256.90 161.83h4.35v4.12h-4.35zM185.90 177.53h4.35v4.12h-4.35zM194.50 177.53h4.35v4.12h-4.35zM185.90 185.69h4.35v4.12h-4.35zM211.00 173.46h4.35v4.12h-4.35zM202.40 177.53h4.35v4.12h-4.35zM202.40 181.61h4.35v4.12h-4.35zM236.10 173.46h4.35v4.12h-4.35zM252.60 173.46h4.35v4.12h-4.35zM202.40 201.39h4.35v4.12h-4.35zM211.00 201.39h4.35v4.12h-4.35zM223.20 193.24h4.35v4.12h-4.35zM227.50 197.31h4.35v4.12h-4.35zM248.30 197.31h4.35v4.12h-4.35zM215.30 213.02h4.35v4.12h-4.35zM202.40 217.09h4.35v4.12h-4.35zM236.10 213.02h4.35v4.12h-4.35zM223.20 217.09h4.35v4.12h-4.35zM231.80 217.09h4.35v4.12h-4.35zM331.60 133.90h4.35v4.12h-4.35zM348.10 133.90h4.35v4.12h-4.35zM356.70 137.97h4.35v4.12h-4.35zM348.10 146.12h4.35v4.12h-4.35zM356.70 146.12h4.35v4.12h-4.35zM361.00 146.12h4.35v4.12h-4.35zM290.00 153.68h4.35v4.12h-4.35zM294.30 153.68h4.35v4.12h-4.35zM294.30 161.83h4.35v4.12h-4.35zM335.90 165.91h4.35v4.12h-4.35zM348.10 153.68h4.35v4.12h-4.35zM348.10 157.75h4.35v4.12h-4.35zM356.70 165.91h4.35v4.12h-4.35zM310.80 173.46h4.35v4.12h-4.35zM319.40 173.46h4.35v4.12h-4.35zM310.80 177.53h4.35v4.12h-4.35zM310.80 185.69h4.35v4.12h-4.35zM319.40 185.69h4.35v4.12h-4.35zM327.30 181.61h4.35v4.12h-4.35zM335.90 181.61h4.35v4.12h-4.35zM361.00 173.46h4.35v4.12h-4.35zM352.40 181.61h4.35v4.12h-4.35zM361.00 181.61h4.35v4.12h-4.35zM356.70 185.69h4.35v4.12h-4.35zM381.80 173.46h4.35v4.12h-4.35zM315.10 201.39h4.35v4.12h-4.35zM340.20 193.24h4.35v4.12h-4.35zM340.20 201.39h4.35v4.12h-4.35zM352.40 197.31h4.35v4.12h-4.35zM356.70 197.31h4.35v4.12h-4.35zM373.20 193.24h4.35v4.12h-4.35zM377.50 193.24h4.35v4.12h-4.35zM381.80 197.31h4.35v4.12h-4.35zM377.50 205.47h4.35v4.12h-4.35zM315.10 221.17h4.35v4.12h-4.35zM319.40 221.17h4.35v4.12h-4.35zM394.10 157.75h4.35v4.12h-4.35zM398.40 161.83h4.35v4.12h-4.35zM410.60 153.68h4.35v4.12h-4.35zM394.10 181.61h4.35v4.12h-4.35zM402.70 181.61h4.35v4.12h-4.35zM423.50 173.46h4.35v4.12h-4.35zM414.90 181.61h4.35v4.12h-4.35zM414.90 197.31h4.35v4.12h-4.35zM419.20 225.25h4.35v4.12h-4.35zM431.40 217.09h4.35v4.12h-4.35zM119.10 251.67h4.35v4.12h-4.35zM144.20 247.60h4.35v4.12h-4.35zM152.80 251.67h4.35v4.12h-4.35zM144.20 259.82h4.35v4.12h-4.35zM148.50 259.82h4.35v4.12h-4.35zM144.20 271.40h4.35v4.12h-4.35zM148.50 271.40h4.35v4.12h-4.35zM152.80 271.40h4.35v4.12h-4.35zM148.50 275.48h4.35v4.12h-4.35zM152.80 287.06h4.35v4.12h-4.35zM139.90 291.13h4.35v4.12h-4.35zM139.90 295.21h4.35v4.12h-4.35zM148.50 299.29h4.35v4.12h-4.35zM152.80 299.29h4.35v4.12h-4.35zM169.30 306.79h4.35v4.12h-4.35zM165.00 310.86h4.35v4.12h-4.35zM215.30 314.94h4.35v4.12h-4.35zM327.30 338.75h4.35v4.12h-4.35zM444.30 251.67h4.35v4.12h-4.35zM431.40 255.75h4.35v4.12h-4.35zM444.30 255.75h4.35v4.12h-4.35zM440.00 259.82h4.35v4.12h-4.35zM444.30 259.82h4.35v4.12h-4.35zM465.10 247.60h4.35v4.12h-4.35zM452.20 259.82h4.35v4.12h-4.35zM465.10 259.82h4.35v4.12h-4.35zM440.00 267.33h4.35v4.12h-4.35zM435.70 271.40h4.35v4.12h-4.35zM444.30 271.40h4.35v4.12h-4.35zM435.70 275.48h4.35v4.12h-4.35zM460.80 267.33h4.35v4.12h-4.35zM394.10 295.21h4.35v4.12h-4.35zM419.20 295.21h4.35v4.12h-4.35zM440.00 287.06h4.35v4.12h-4.35zM435.70 299.29h4.35v4.12h-4.35zM456.50 287.06h4.35v4.12h-4.35zM460.80 287.06h4.35v4.12h-4.35zM452.20 291.13h4.35v4.12h-4.35zM456.50 291.13h4.35v4.12h-4.35zM460.80 291.13h4.35v4.12h-4.35zM452.20 295.21h4.35v4.12h-4.35zM456.50 299.29h4.35v4.12h-4.35zM460.80 299.29h4.35v4.12h-4.35zM410.60 310.86h4.35v4.12h-4.35zM414.90 310.86h4.35v4.12h-4.35zM444.30 310.86h4.35v4.12h-4.35zM444.30 319.01h4.35v4.12h-4.35zM465.10 319.01h4.35v4.12h-4.35zM419.20 334.67h4.35v4.12h-4.35zM223.20 346.50h4.35v4.12h-4.35zM223.20 354.65h4.35v4.12h-4.35zM236.10 354.65h4.35v4.12h-4.35zM252.60 354.65h4.35v4.12h-4.35zM248.30 358.73h4.35v4.12h-4.35zM256.90 366.25h4.35v4.12h-4.35zM269.10 394.15h4.35v4.12h-4.35zM273.40 398.23h4.35v4.12h-4.35zM331.60 358.73h4.35v4.12h-4.35zM356.70 354.65h4.35v4.12h-4.35zM348.10 358.73h4.35v4.12h-4.35zM285.70 366.25h4.35v4.12h-4.35zM298.60 366.25h4.35v4.12h-4.35zM298.60 370.32h4.35v4.12h-4.35zM285.70 374.40h4.35v4.12h-4.35zM331.60 370.32h4.35v4.12h-4.35zM327.30 374.40h4.35v4.12h-4.35zM340.20 378.48h4.35v4.12h-4.35zM361.00 366.25h4.35v4.12h-4.35zM352.40 378.48h4.35v4.12h-4.35zM319.40 394.15h4.35v4.12h-4.35zM381.80 386.00h4.35v4.12h-4.35zM373.20 390.07h4.35v4.12h-4.35zM377.50 390.07h4.35v4.12h-4.35zM381.80 394.15h4.35v4.12h-4.35zM373.20 398.23h4.35v4.12h-4.35zM381.80 398.23h4.35v4.12h-4.35zM327.30 405.75h4.35v4.12h-4.35zM368.90 417.98h4.35v4.12h-4.35zM310.80 433.65h4.35v4.12h-4.35zM327.30 425.50h4.35v4.12h-4.35zM331.60 425.50h4.35v4.12h-4.35zM335.90 425.50h4.35v4.12h-4.35zM327.30 433.65h4.35v4.12h-4.35zM402.70 378.48h4.35v4.12h-4.35z"/>
<path fill="#29ffce" d="M81.80 78.48h4.35v4.12h-4.35zM148.50 74.40h4.35v4.12h-4.35zM410.60 58.63h4.35v4.12h-4.35zM431.40 82.55h4.35v4.12h-4.35zM456.50 98.33h4.35v4.12h-4.35zM473.00 102.40h4.35v4.12h-4.35zM481.60 193.24h4.35v4.12h-4.35zM98.30 271.40h4.35v4.12h-4.35zM123.40 271.40h4.35v4.12h-4.35zM81.80 295.21h4.35v4.12h-4.35zM127.70 330.59h4.35v4.12h-4.35zM340.20 326.52h4.35v4.12h-4.35zM394.10 271.40h4.35v4.12h-4.35zM398.40 271.40h4.35v4.12h-4.35zM398.40 275.48h4.35v4.12h-4.35zM485.90 310.86h4.35v4.12h-4.35zM123.40 374.40h4.35v4.12h-4.35zM148.50 366.25h4.35v4.12h-4.35zM123.40 390.07h4.35v4.12h-4.35zM144.20 394.15h4.35v4.12h-4.35zM152.80 398.23h4.35v4.12h-4.35zM169.30 386.00h4.35v4.12h-4.35zM173.60 390.07h4.35v4.12h-4.35zM165.00 394.15h4.35v4.12h-4.35zM144.20 405.75h4.35v4.12h-4.35zM160.70 409.82h4.35v4.12h-4.35zM165.00 409.82h4.35v4.12h-4.35zM160.70 417.98h4.35v4.12h-4.35zM106.90 425.50h4.35v4.12h-4.35zM181.60 374.40h4.35v4.12h-4.35zM185.90 374.40h4.35v4.12h-4.35zM190.20 374.40h4.35v4.12h-4.35zM194.50 378.48h4.35v4.12h-4.35zM206.70 366.25h4.35v4.12h-4.35zM215.30 366.25h4.35v4.12h-4.35zM206.70 374.40h4.35v4.12h-4.35zM206.70 378.48h4.35v4.12h-4.35zM206.70 398.23h4.35v4.12h-4.35zM223.20 394.15h4.35v4.12h-4.35zM215.30 405.75h4.35v4.12h-4.35zM206.70 409.82h4.35v4.12h-4.35zM269.10 405.75h4.35v4.12h-4.35zM273.40 405.75h4.35v4.12h-4.35zM277.70 405.75h4.35v4.12h-4.35zM264.80 409.82h4.35v4.12h-4.35zM277.70 413.90h4.35v4.12h-4.35zM269.10 417.98h4.35v4.12h-4.35zM206.70 429.57h4.35v4.12h-4.35zM211.00 433.65h4.35v4.12h-4.35zM356.70 386.00h4.35v4.12h-4.35zM465.10 350.57h4.35v4.12h-4.35zM452.20 354.65h4.35v4.12h-4.35zM452.20 366.25h4.35v4.12h-4.35zM456.50 366.25h4.35v4.12h-4.35zM435.70 386.00h4.35v4.12h-4.35zM440.00 386.00h4.35v4.12h-4.35zM444.30 390.07h4.35v4.12h-4.35zM440.00 398.23h4.35v4.12h-4.35zM456.50 394.15h4.35v4.12h-4.35zM435.70 413.90h4.35v4.12h-4.35zM473.00 413.90h4.35v4.12h-4.35zM419.20 425.50h4.35v4.12h-4.35zM410.60 429.57h4.35v4.12h-4.35zM414.90 429.57h4.35v4.12h-4.35z"/>
<path fill="#31ffc5" d="M127.70 98.33h4.35v4.12h-4.35zM132.00 98.33h4.35v4.12h-4.35zM132.00 102.40h4.35v4.12h-4.35zM139.90 102.40h4.35v4.12h-4.35zM431.40 34.70h4.35v4.12h-4.35zM440.00 34.70h4.35v4.12h-4.35zM460.80 42.85h4.35v4.12h-4.35zM456.50 46.93h4.35v4.12h-4.35zM414.90 54.55h4.35v4.12h-4.35zM410.60 82.55h4.35v4.12h-4.35zM419.20 82.55h4.35v4.12h-4.35zM435.70 74.40h4.35v4.12h-4.35zM414.90 106.47h4.35v4.12h-4.35zM423.50 114.10h4.35v4.12h-4.35zM444.30 126.33h4.35v4.12h-4.35zM111.20 197.31h4.35v4.12h-4.35zM485.90 197.31h4.35v4.12h-4.35zM77.50 275.48h4.35v4.12h-4.35zM102.60 279.56h4.35v4.12h-4.35zM106.90 295.21h4.35v4.12h-4.35zM111.20 330.59h4.35v4.12h-4.35zM111.20 334.67h4.35v4.12h-4.35zM127.70 370.32h4.35v4.12h-4.35zM148.50 370.32h4.35v4.12h-4.35zM139.90 374.40h4.35v4.12h-4.35zM144.20 374.40h4.35v4.12h-4.35zM139.90 378.48h4.35v4.12h-4.35zM148.50 378.48h4.35v4.12h-4.35zM148.50 390.07h4.35v4.12h-4.35zM152.80 394.15h4.35v4.12h-4.35zM160.70 386.00h4.35v4.12h-4.35zM160.70 390.07h4.35v4.12h-4.35zM160.70 394.15h4.35v4.12h-4.35zM169.30 394.15h4.35v4.12h-4.35zM173.60 394.15h4.35v4.12h-4.35zM165.00 398.23h4.35v4.12h-4.35zM160.70 405.75h4.35v4.12h-4.35zM160.70 413.90h4.35v4.12h-4.35zM173.60 413.90h4.35v4.12h-4.35zM194.50 374.40h4.35v4.12h-4.35zM211.00 366.25h4.35v4.12h-4.35zM215.30 374.40h4.35v4.12h-4.35zM215.30 394.15h4.35v4.12h-4.35zM215.30 398.23h4.35v4.12h-4.35zM223.20 398.23h4.35v4.12h-4.35zM248.30 398.23h4.35v4.12h-4.35zM202.40 409.82h4.35v4.12h-4.35zM211.00 409.82h4.35v4.12h-4.35zM215.30 413.90h4.35v4.12h-4.35zM227.50 405.75h4.35v4.12h-4.35zM227.50 413.90h4.35v4.12h-4.35zM231.80 413.90h4.35v4.12h-4.35zM231.80 417.98h4.35v4.12h-4.35zM264.80 413.90h4.35v4.12h-4.35zM273.40 413.90h4.35v4.12h-4.35zM277.70 417.98h4.35v4.12h-4.35zM231.80 433.65h4.35v4.12h-4.35zM352.40 386.00h4.35v4.12h-4.35zM431.40 346.50h4.35v4.12h-4.35zM460.80 346.50h4.35v4.12h-4.35zM460.80 358.73h4.35v4.12h-4.35zM465.10 358.73h4.35v4.12h-4.35zM465.10 370.32h4.35v4.12h-4.35zM440.00 390.07h4.35v4.12h-4.35zM440.00 394.15h4.35v4.12h-4.35zM444.30 394.15h4.35v4.12h-4.35zM423.50 405.75h4.35v4.12h-4.35zM423.50 413.90h4.35v4.12h-4.35zM431.40 413.90h4.35v4.12h-4.35zM423.50 425.50h4.35v4.12h-4.35zM410.60 433.65h4.35v4.12h-4.35z"/>
<path fill="#adff4a" d="M102.60 118.18h4.35v4.12h-4.35zM190.20 54.55h4.35v4.12h-4.35zM227.50 54.55h4.35v4.12h-4.35zM231.80 62.70h4.35v4.12h-4.35zM190.20 74.40h4.35v4.12h-4.35zM194.50 74.40h4.35v4.12h-4.35zM185.90 78.48h4.35v4.12h-4.35zM215.30 74.40h4.35v4.12h-4.35zM252.60 78.48h4.35v4.12h-4.35zM252.60 82.55h4.35v4.12h-4.35zM206.70 94.25h4.35v4.12h-4.35zM215.30 98.33h4.35v4.12h-4.35zM231.80 102.40h4.35v4.12h-4.35zM248.30 98.33h4.35v4.12h-4.35zM264.80 94.25h4.35v4.12h-4.35zM269.10 106.47h4.35v4.12h-4.35zM273.40 106.47h4.35v4.12h-4.35zM231.80 118.18h4.35v4.12h-4.35zM335.90 38.78h4.35v4.12h-4.35zM294.30 54.55h4.35v4.12h-4.35zM285.70 66.78h4.35v4.12h-4.35zM310.80 54.55h4.35v4.12h-4.35zM306.50 74.40h4.35v4.12h-4.35zM327.30 74.40h4.35v4.12h-4.35zM335.90 78.48h4.35v4.12h-4.35zM310.80 98.33h4.35v4.12h-4.35zM356.70 94.25h4.35v4.12h-4.35zM319.40 114.10h4.35v4.12h-4.35zM306.50 122.25h4.35v4.12h-4.35zM315.10 126.33h4.35v4.12h-4.35zM331.60 114.10h4.35v4.12h-4.35zM335.90 118.18h4.35v4.12h-4.35zM236.10 133.90h4.35v4.12h-4.35zM231.80 137.97h4.35v4.12h-4.35zM236.10 137.97h4.35v4.12h-4.35zM181.60 157.75h4.35v4.12h-4.35zM185.90 161.83h4.35v4.12h-4.35zM185.90 165.91h4.35v4.12h-4.35zM194.50 165.91h4.35v4.12h-4.35zM211.00 161.83h4.35v4.12h-4.35zM236.10 161.83h4.35v4.12h-4.35zM181.60 185.69h4.35v4.12h-4.35zM202.40 173.46h4.35v4.12h-4.35zM206.70 193.24h4.35v4.12h-4.35zM335.90 137.97h4.35v4.12h-4.35zM331.60 142.05h4.35v4.12h-4.35zM335.90 142.05h4.35v4.12h-4.35zM285.70 153.68h4.35v4.12h-4.35zM298.60 165.91h4.35v4.12h-4.35zM306.50 153.68h4.35v4.12h-4.35zM315.10 153.68h4.35v4.12h-4.35zM315.10 157.75h4.35v4.12h-4.35zM327.30 153.68h4.35v4.12h-4.35zM327.30 161.83h4.35v4.12h-4.35zM361.00 153.68h4.35v4.12h-4.35zM310.80 181.61h4.35v4.12h-4.35zM315.10 181.61h4.35v4.12h-4.35zM327.30 173.46h4.35v4.12h-4.35zM340.20 173.46h4.35v4.12h-4.35zM335.90 177.53h4.35v4.12h-4.35zM335.90 185.69h4.35v4.12h-4.35zM340.20 185.69h4.35v4.12h-4.35zM361.00 177.53h4.35v4.12h-4.35zM381.80 177.53h4.35v4.12h-4.35zM368.90 181.61h4.35v4.12h-4.35zM315.10 197.31h4.35v4.12h-4.35zM340.20 197.31h4.35v4.12h-4.35zM381.80 201.39h4.35v4.12h-4.35zM319.40 213.02h4.35v4.12h-4.35zM310.80 221.17h4.35v4.12h-4.35zM319.40 225.25h4.35v4.12h-4.35zM331.60 213.02h4.35v4.12h-4.35zM389.80 161.83h4.35v4.12h-4.35zM394.10 173.46h4.35v4.12h-4.35zM389.80 181.61h4.35v4.12h-4.35zM398.40 185.69h4.35v4.12h-4.35zM431.40 221.17h4.35v4.12h-4.35zM139.90 251.67h4.35v4.12h-4.35zM148.50 255.75h4.35v4.12h-4.35zM152.80 279.56h4.35v4.12h-4.35zM165.00 295.21h4.35v4.12h-4.35zM173.60 306.79h4.35v4.12h-4.35zM160.70 319.01h4.35v4.12h-4.35zM169.30 319.01h4.35v4.12h-4.35zM173.60 319.01h4.35v4.12h-4.35zM248.30 247.60h4.35v4.12h-4.35zM181.60 295.21h4.35v4.12h-4.35zM185.90 295.21h4.35v4.12h-4.35zM211.00 306.79h4.35v4.12h-4.35zM319.40 275.48h4.35v4.12h-4.35zM294.30 295.21h4.35v4.12h-4.35zM306.50 291.13h4.35v4.12h-4.35zM319.40 310.86h4.35v4.12h-4.35zM335.90 314.94h4.35v4.12h-4.35zM335.90 326.52h4.35v4.12h-4.35zM335.90 330.59h4.35v4.12h-4.35zM327.30 334.67h4.35v4.12h-4.35zM340.20 334.67h4.35v4.12h-4.35zM452.20 251.67h4.35v4.12h-4.35zM419.20 271.40h4.35v4.12h-4.35zM410.60 275.48h4.35v4.12h-4.35zM423.50 275.48h4.35v4.12h-4.35zM410.60 279.56h4.35v4.12h-4.35zM423.50 279.56h4.35v4.12h-4.35zM431.40 267.33h4.35v4.12h-4.35zM440.00 271.40h4.35v4.12h-4.35zM440.00 279.56h4.35v4.12h-4.35zM456.50 267.33h4.35v4.12h-4.35zM402.70 299.29h4.35v4.12h-4.35zM414.90 291.13h4.35v4.12h-4.35zM435.70 291.13h4.35v4.12h-4.35zM452.20 287.06h4.35v4.12h-4.35zM410.60 319.01h4.35v4.12h-4.35zM414.90 334.67h4.35v4.12h-4.35zM227.50 346.50h4.35v4.12h-4.35zM223.20 350.57h4.35v4.12h-4.35zM252.60 358.73h4.35v4.12h-4.35zM256.90 358.73h4.35v4.12h-4.35zM273.40 390.07h4.35v4.12h-4.35zM277.70 394.15h4.35v4.12h-4.35zM327.30 350.57h4.35v4.12h-4.35zM335.90 350.57h4.35v4.12h-4.35zM340.20 350.57h4.35v4.12h-4.35zM361.00 350.57h4.35v4.12h-4.35zM348.10 354.65h4.35v4.12h-4.35zM290.00 366.25h4.35v4.12h-4.35zM290.00 370.32h4.35v4.12h-4.35zM290.00 374.40h4.35v4.12h-4.35zM294.30 378.48h4.35v4.12h-4.35zM306.50 370.32h4.35v4.12h-4.35zM352.40 366.25h4.35v4.12h-4.35zM290.00 386.00h4.35v4.12h-4.35zM294.30 386.00h4.35v4.12h-4.35zM290.00 394.15h4.35v4.12h-4.35zM377.50 386.00h4.35v4.12h-4.35zM368.90 398.23h4.35v4.12h-4.35zM377.50 398.23h4.35v4.12h-4.35z"/>
<path fill="#a5ff52" d="M185.90 54.55h4.35v4.12h-4.35zM190.20 62.70h4.35v4.12h-4.35zM190.20 66.78h4.35v4.12h-4.35zM202.40 66.78h4.35v4.12h-4.35zM227.50 62.70h4.35v4.12h-4.35zM248.30 54.55h4.35v4.12h-4.35zM185.90 74.40h4.35v4.12h-4.35zM181.60 82.55h4.35v4.12h-4.35zM194.50 82.55h4.35v4.12h-4.35zM181.60 86.62h4.35v4.12h-4.35zM185.90 86.62h4.35v4.12h-4.35zM190.20 86.62h4.35v4.12h-4.35zM194.50 86.62h4.35v4.12h-4.35zM215.30 82.55h4.35v4.12h-4.35zM236.10 78.48h4.35v4.12h-4.35zM236.10 82.55h4.35v4.12h-4.35zM223.20 86.62h4.35v4.12h-4.35zM236.10 86.62h4.35v4.12h-4.35zM273.40 74.40h4.35v4.12h-4.35zM215.30 94.25h4.35v4.12h-4.35zM202.40 106.47h4.35v4.12h-4.35zM231.80 94.25h4.35v4.12h-4.35zM227.50 102.40h4.35v4.12h-4.35zM256.90 94.25h4.35v4.12h-4.35zM244.00 98.33h4.35v4.12h-4.35zM248.30 102.40h4.35v4.12h-4.35zM252.60 102.40h4.35v4.12h-4.35zM248.30 106.47h4.35v4.12h-4.35zM269.10 94.25h4.35v4.12h-4.35zM277.70 94.25h4.35v4.12h-4.35zM273.40 98.33h4.35v4.12h-4.35zM264.80 102.40h4.35v4.12h-4.35zM269.10 102.40h4.35v4.12h-4.35zM277.70 106.47h4.35v4.12h-4.35zM298.60 54.55h4.35v4.12h-4.35zM290.00 66.78h4.35v4.12h-4.35zM335.90 62.70h4.35v4.12h-4.35zM290.00 82.55h4.35v4.12h-4.35zM298.60 82.55h4.35v4.12h-4.35zM319.40 78.48h4.35v4.12h-4.35zM310.80 94.25h4.35v4.12h-4.35zM319.40 98.33h4.35v4.12h-4.35zM310.80 102.40h4.35v4.12h-4.35zM327.30 94.25h4.35v4.12h-4.35zM327.30 98.33h4.35v4.12h-4.35zM331.60 102.40h4.35v4.12h-4.35zM340.20 106.47h4.35v4.12h-4.35zM310.80 114.10h4.35v4.12h-4.35zM394.10 82.55h4.35v4.12h-4.35zM132.00 153.68h4.35v4.12h-4.35zM165.00 173.46h4.35v4.12h-4.35zM123.40 193.24h4.35v4.12h-4.35zM106.90 225.25h4.35v4.12h-4.35zM223.20 146.12h4.35v4.12h-4.35zM236.10 146.12h4.35v4.12h-4.35zM252.60 137.97h4.35v4.12h-4.35zM194.50 161.83h4.35v4.12h-4.35zM202.40 161.83h4.35v4.12h-4.35zM202.40 165.91h4.35v4.12h-4.35zM231.80 153.68h4.35v4.12h-4.35zM236.10 153.68h4.35v4.12h-4.35zM231.80 157.75h4.35v4.12h-4.35zM223.20 161.83h4.35v4.12h-4.35zM185.90 173.46h4.35v4.12h-4.35zM194.50 173.46h4.35v4.12h-4.35zM190.20 177.53h4.35v4.12h-4.35zM181.60 181.61h4.35v4.12h-4.35zM215.30 181.61h4.35v4.12h-4.35zM202.40 185.69h4.35v4.12h-4.35zM211.00 185.69h4.35v4.12h-4.35zM227.50 181.61h4.35v4.12h-4.35zM264.80 177.53h4.35v4.12h-4.35zM269.10 193.24h4.35v4.12h-4.35zM273.40 197.31h4.35v4.12h-4.35zM231.80 213.02h4.35v4.12h-4.35zM231.80 225.25h4.35v4.12h-4.35zM340.20 142.05h4.35v4.12h-4.35zM294.30 157.75h4.35v4.12h-4.35zM285.70 165.91h4.35v4.12h-4.35zM306.50 165.91h4.35v4.12h-4.35zM335.90 157.75h4.35v4.12h-4.35zM331.60 165.91h4.35v4.12h-4.35zM352.40 161.83h4.35v4.12h-4.35zM306.50 173.46h4.35v4.12h-4.35zM306.50 181.61h4.35v4.12h-4.35zM335.90 173.46h4.35v4.12h-4.35zM377.50 181.61h4.35v4.12h-4.35zM306.50 197.31h4.35v4.12h-4.35zM319.40 201.39h4.35v4.12h-4.35zM319.40 205.47h4.35v4.12h-4.35zM327.30 201.39h4.35v4.12h-4.35zM335.90 201.39h4.35v4.12h-4.35zM335.90 205.47h4.35v4.12h-4.35zM348.10 201.39h4.35v4.12h-4.35zM352.40 205.47h4.35v4.12h-4.35zM377.50 201.39h4.35v4.12h-4.35zM306.50 213.02h4.35v4.12h-4.35zM315.10 213.02h4.35v4.12h-4.35zM335.90 213.02h4.35v4.12h-4.35zM394.10 165.91h4.35v4.12h-4.35zM414.90 153.68h4.35v4.12h-4.35zM419.20 153.68h4.35v4.12h-4.35zM419.20 157.75h4.35v4.12h-4.35zM410.60 161.83h4.35v4.12h-4.35zM423.50 161.83h4.35v4.12h-4.35zM389.80 177.53h4.35v4.12h-4.35zM394.10 177.53h4.35v4.12h-4.35zM389.80 185.69h4.35v4.12h-4.35zM402.70 185.69h4.35v4.12h-4.35zM414.90 177.53h4.35v4.12h-4.35zM152.80 247.60h4.35v4.12h-4.35zM144.20 255.75h4.35v4.12h-4.35zM144.20 279.56h4.35v4.12h-4.35zM139.90 287.06h4.35v4.12h-4.35zM144.20 287.06h4.35v4.12h-4.35zM139.90 299.29h4.35v4.12h-4.35zM173.60 291.13h4.35v4.12h-4.35zM169.30 314.94h4.35v4.12h-4.35zM165.00 319.01h4.35v4.12h-4.35zM206.70 295.21h4.35v4.12h-4.35zM331.60 267.33h4.35v4.12h-4.35zM327.30 291.13h4.35v4.12h-4.35zM319.40 306.79h4.35v4.12h-4.35zM319.40 314.94h4.35v4.12h-4.35zM306.50 319.01h4.35v4.12h-4.35zM335.90 319.01h4.35v4.12h-4.35zM327.30 326.52h4.35v4.12h-4.35zM340.20 330.59h4.35v4.12h-4.35zM335.90 334.67h4.35v4.12h-4.35zM335.90 338.75h4.35v4.12h-4.35zM435.70 259.82h4.35v4.12h-4.35zM452.20 255.75h4.35v4.12h-4.35zM423.50 271.40h4.35v4.12h-4.35zM431.40 271.40h4.35v4.12h-4.35zM431.40 275.48h4.35v4.12h-4.35zM452.20 267.33h4.35v4.12h-4.35zM465.10 279.56h4.35v4.12h-4.35zM389.80 299.29h4.35v4.12h-4.35zM410.60 287.06h4.35v4.12h-4.35zM423.50 291.13h4.35v4.12h-4.35zM410.60 295.21h4.35v4.12h-4.35zM423.50 306.79h4.35v4.12h-4.35zM440.00 306.79h4.35v4.12h-4.35zM435.70 319.01h4.35v4.12h-4.35zM236.10 350.57h4.35v4.12h-4.35zM236.10 358.73h4.35v4.12h-4.35zM269.10 386.00h4.35v4.12h-4.35zM331.60 346.50h4.35v4.12h-4.35zM327.30 358.73h4.35v4.12h-4.35zM356.70 346.50h4.35v4.12h-4.35zM352.40 350.57h4.35v4.12h-4.35zM352.40 354.65h4.35v4.12h-4.35zM356.70 358.73h4.35v4.12h-4.35zM285.70 370.32h4.35v4.12h-4.35zM294.30 370.32h4.35v4.12h-4.35zM294.30 374.40h4.35v4.12h-4.35zM298.60 374.40h4.35v4.12h-4.35zM290.00 378.48h4.35v4.12h-4.35zM348.10 366.25h4.35v4.12h-4.35zM356.70 370.32h4.35v4.12h-4.35zM361.00 370.32h4.35v4.12h-4.35zM290.00 390.07h4.35v4.12h-4.35zM319.40 390.07h4.35v4.12h-4.35zM377.50 394.15h4.35v4.12h-4.35zM361.00 417.98h4.35v4.12h-4.35zM373.20 409.82h4.35v4.12h-4.35zM340.20 433.65h4.35v4.12h-4.35z"/>
<path fill="#9cff5a" d="M194.50 58.63h4.35v4.12h-4.35zM185.90 66.78h4.35v4.12h-4.35zM211.00 54.55h4.35v4.12h-4.35zM215.30 58.63h4.35v4.12h-4.35zM206.70 66.78h4.35v4.12h-4.35zM231.80 58.63h4.35v4.12h-4.35zM248.30 58.63h4.35v4.12h-4.35zM256.90 58.63h4.35v4.12h-4.35zM190.20 78.48h4.35v4.12h-4.35zM211.00 74.40h4.35v4.12h-4.35zM202.40 78.48h4.35v4.12h-4.35zM211.00 78.48h4.35v4.12h-4.35zM236.10 74.40h4.35v4.12h-4.35zM223.20 78.48h4.35v4.12h-4.35zM227.50 82.55h4.35v4.12h-4.35zM264.80 78.48h4.35v4.12h-4.35zM277.70 78.48h4.35v4.12h-4.35zM264.80 86.62h4.35v4.12h-4.35zM202.40 102.40h4.35v4.12h-4.35zM244.00 94.25h4.35v4.12h-4.35zM256.90 102.40h4.35v4.12h-4.35zM277.70 102.40h4.35v4.12h-4.35zM264.80 106.47h4.35v4.12h-4.35zM340.20 34.70h4.35v4.12h-4.35zM335.90 42.85h4.35v4.12h-4.35zM298.60 58.63h4.35v4.12h-4.35zM315.10 62.70h4.35v4.12h-4.35zM319.40 62.70h4.35v4.12h-4.35zM327.30 54.55h4.35v4.12h-4.35zM290.00 74.40h4.35v4.12h-4.35zM294.30 74.40h4.35v4.12h-4.35zM294.30 78.48h4.35v4.12h-4.35zM315.10 74.40h4.35v4.12h-4.35zM306.50 82.55h4.35v4.12h-4.35zM315.10 82.55h4.35v4.12h-4.35zM368.90 74.40h4.35v4.12h-4.35zM306.50 98.33h4.35v4.12h-4.35zM315.10 98.33h4.35v4.12h-4.35zM315.10 106.47h4.35v4.12h-4.35zM319.40 106.47h4.35v4.12h-4.35zM340.20 94.25h4.35v4.12h-4.35zM331.60 98.33h4.35v4.12h-4.35zM327.30 102.40h4.35v4.12h-4.35zM335.90 102.40h4.35v4.12h-4.35zM368.90 102.40h4.35v4.12h-4.35zM315.10 114.10h4.35v4.12h-4.35zM310.80 118.18h4.35v4.12h-4.35zM319.40 122.25h4.35v4.12h-4.35zM335.90 122.25h4.35v4.12h-4.35zM327.30 126.33h4.35v4.12h-4.35zM331.60 126.33h4.35v4.12h-4.35zM340.20 126.33h4.35v4.12h-4.35zM139.90 142.05h4.35v4.12h-4.35zM144.20 142.05h4.35v4.12h-4.35zM86.10 177.53h4.35v4.12h-4.35zM160.70 177.53h4.35v4.12h-4.35zM165.00 185.69h4.35v4.12h-4.35zM160.70 197.31h4.35v4.12h-4.35zM98.30 225.25h4.35v4.12h-4.35zM111.20 225.25h4.35v4.12h-4.35zM248.30 133.90h4.35v4.12h-4.35zM256.90 137.97h4.35v4.12h-4.35zM194.50 153.68h4.35v4.12h-4.35zM190.20 161.83h4.35v4.12h-4.35zM202.40 153.68h4.35v4.12h-4.35zM223.20 153.68h4.35v4.12h-4.35zM227.50 161.83h4.35v4.12h-4.35zM227.50 165.91h4.35v4.12h-4.35zM248.30 153.68h4.35v4.12h-4.35zM252.60 153.68h4.35v4.12h-4.35zM252.60 161.83h4.35v4.12h-4.35zM181.60 173.46h4.35v4.12h-4.35zM190.20 181.61h4.35v4.12h-4.35zM194.50 181.61h4.35v4.12h-4.35zM206.70 173.46h4.35v4.12h-4.35zM215.30 185.69h4.35v4.12h-4.35zM227.50 173.46h4.35v4.12h-4.35zM231.80 173.46h4.35v4.12h-4.35zM231.80 177.53h4.35v4.12h-4.35zM236.10 185.69h4.35v4.12h-4.35zM211.00 193.24h4.35v4.12h-4.35zM206.70 201.39h4.35v4.12h-4.35zM248.30 201.39h4.35v4.12h-4.35zM202.40 221.17h4.35v4.12h-4.35zM206.70 225.25h4.35v4.12h-4.35zM215.30 225.25h4.35v4.12h-4.35zM223.20 221.17h4.35v4.12h-4.35zM231.80 221.17h4.35v4.12h-4.35zM361.00 133.90h4.35v4.12h-4.35zM361.00 142.05h4.35v4.12h-4.35zM294.30 165.91h4.35v4.12h-4.35zM340.20 161.83h4.35v4.12h-4.35zM352.40 153.68h4.35v4.12h-4.35zM352.40 157.75h4.35v4.12h-4.35zM294.30 173.46h4.35v4.12h-4.35zM294.30 181.61h4.35v4.12h-4.35zM290.00 185.69h4.35v4.12h-4.35zM331.60 173.46h4.35v4.12h-4.35zM327.30 177.53h4.35v4.12h-4.35zM340.20 177.53h4.35v4.12h-4.35zM340.20 181.61h4.35v4.12h-4.35zM327.30 185.69h4.35v4.12h-4.35zM356.70 181.61h4.35v4.12h-4.35zM348.10 185.69h4.35v4.12h-4.35zM352.40 185.69h4.35v4.12h-4.35zM377.50 173.46h4.35v4.12h-4.35zM306.50 193.24h4.35v4.12h-4.35zM319.40 193.24h4.35v4.12h-4.35zM310.80 197.31h4.35v4.12h-4.35zM310.80 201.39h4.35v4.12h-4.35zM327.30 193.24h4.35v4.12h-4.35zM331.60 193.24h4.35v4.12h-4.35zM331.60 201.39h4.35v4.12h-4.35zM327.30 205.47h4.35v4.12h-4.35zM331.60 205.47h4.35v4.12h-4.35zM340.20 205.47h4.35v4.12h-4.35zM356.70 201.39h4.35v4.12h-4.35zM361.00 201.39h4.35v4.12h-4.35zM356.70 205.47h4.35v4.12h-4.35zM373.20 205.47h4.35v4.12h-4.35zM381.80 205.47h4.35v4.12h-4.35zM310.80 225.25h4.35v4.12h-4.35zM315.10 225.25h4.35v4.12h-4.35zM402.70 153.68h4.35v4.12h-4.35zM402.70 157.75h4.35v4.12h-4.35zM389.80 165.91h4.35v4.12h-4.35zM423.50 153.68h4.35v4.12h-4.35zM419.20 161.83h4.35v4.12h-4.35zM431.40 213.02h4.35v4.12h-4.35zM444.30 213.02h4.35v4.12h-4.35zM144.20 251.67h4.35v4.12h-4.35zM152.80 259.82h4.35v4.12h-4.35zM139.90 279.56h4.35v4.12h-4.35zM148.50 291.13h4.35v4.12h-4.35zM152.80 295.21h4.35v4.12h-4.35zM144.20 299.29h4.35v4.12h-4.35zM169.30 287.06h4.35v4.12h-4.35zM169.30 295.21h4.35v4.12h-4.35zM165.00 306.79h4.35v4.12h-4.35zM169.30 310.86h4.35v4.12h-4.35zM173.60 310.86h4.35v4.12h-4.35zM206.70 326.52h4.35v4.12h-4.35zM215.30 326.52h4.35v4.12h-4.35zM352.40 255.75h4.35v4.12h-4.35zM315.10 319.01h4.35v4.12h-4.35zM331.60 319.01h4.35v4.12h-4.35zM331.60 326.52h4.35v4.12h-4.35zM331.60 330.59h4.35v4.12h-4.35zM435.70 247.60h4.35v4.12h-4.35zM431.40 251.67h4.35v4.12h-4.35zM440.00 255.75h4.35v4.12h-4.35zM456.50 247.60h4.35v4.12h-4.35zM456.50 251.67h4.35v4.12h-4.35zM460.80 255.75h4.35v4.12h-4.35zM465.10 255.75h4.35v4.12h-4.35zM410.60 267.33h4.35v4.12h-4.35zM414.90 275.48h4.35v4.12h-4.35zM414.90 279.56h4.35v4.12h-4.35zM435.70 279.56h4.35v4.12h-4.35zM456.50 275.48h4.35v4.12h-4.35zM460.80 279.56h4.35v4.12h-4.35zM394.10 287.06h4.35v4.12h-4.35zM402.70 287.06h4.35v4.12h-4.35zM394.10 291.13h4.35v4.12h-4.35zM410.60 291.13h4.35v4.12h-4.35zM414.90 295.21h4.35v4.12h-4.35zM465.10 291.13h4.35v4.12h-4.35zM456.50 295.21h4.35v4.12h-4.35zM414.90 306.79h4.35v4.12h-4.35zM423.50 319.01h4.35v4.12h-4.35zM431.40 310.86h4.35v4.12h-4.35zM410.60 334.67h4.35v4.12h-4.35zM414.90 338.75h4.35v4.12h-4.35zM231.80 346.50h4.35v4.12h-4.35zM231.80 350.57h4.35v4.12h-4.35zM227.50 354.65h4.35v4.12h-4.35zM244.00 350.57h4.35v4.12h-4.35zM252.60 350.57h4.35v4.12h-4.35zM256.90 350.57h4.35v4.12h-4.35zM273.40 386.00h4.35v4.12h-4.35zM273.40 394.15h4.35v4.12h-4.35zM352.40 346.50h4.35v4.12h-4.35zM361.00 354.65h4.35v4.12h-4.35zM352.40 358.73h4.35v4.12h-4.35zM340.20 374.40h4.35v4.12h-4.35zM356.70 366.25h4.35v4.12h-4.35zM348.10 374.40h4.35v4.12h-4.35zM285.70 394.15h4.35v4.12h-4.35zM294.30 394.15h4.35v4.12h-4.35zM315.10 398.23h4.35v4.12h-4.35zM361.00 405.75h4.35v4.12h-4.35zM361.00 409.82h4.35v4.12h-4.35zM352.40 417.98h4.35v4.12h-4.35zM319.40 425.50h4.35v4.12h-4.35zM310.80 437.73h4.35v4.12h-4.35zM335.90 429.57h4.35v4.12h-4.35zM410.60 374.40h4.35v4.12h-4.35z"/>
<path fill="#c5ff31" d="M181.60 62.70h4.35v4.12h-4.35zM215.30 106.47h4.35v4.12h-4.35zM227.50 106.47h4.35v4.12h-4.35zM215.30 118.18h4.35v4.12h-4.35zM215.30 122.25h4.35v4.12h-4.35zM211.00 126.33h4.35v4.12h-4.35zM223.20 122.25h4.35v4.12h-4.35zM227.50 122.25h4.35v4.12h-4.35zM236.10 122.25h4.35v4.12h-4.35zM236.10 126.33h4.35v4.12h-4.35zM335.90 98.33h4.35v4.12h-4.35zM340.20 118.18h4.35v4.12h-4.35zM215.30 173.46h4.35v4.12h-4.35zM206.70 177.53h4.35v4.12h-4.35zM211.00 197.31h4.35v4.12h-4.35zM352.40 146.12h4.35v4.12h-4.35zM319.40 161.83h4.35v4.12h-4.35zM310.80 217.09h4.35v4.12h-4.35zM315.10 217.09h4.35v4.12h-4.35zM306.50 221.17h4.35v4.12h-4.35zM160.70 314.94h4.35v4.12h-4.35zM165.00 314.94h4.35v4.12h-4.35zM252.60 247.60h4.35v4.12h-4.35zM256.90 247.60h4.35v4.12h-4.35zM194.50 267.33h4.35v4.12h-4.35zM181.60 275.48h4.35v4.12h-4.35zM181.60 279.56h4.35v4.12h-4.35zM206.70 279.56h4.35v4.12h-4.35zM244.00 267.33h4.35v4.12h-4.35zM252.60 267.33h4.35v4.12h-4.35zM244.00 271.40h4.35v4.12h-4.35zM190.20 287.06h4.35v4.12h-4.35zM190.20 295.21h4.35v4.12h-4.35zM181.60 299.29h4.35v4.12h-4.35zM211.00 299.29h4.35v4.12h-4.35zM227.50 295.21h4.35v4.12h-4.35zM206.70 310.86h4.35v4.12h-4.35zM227.50 306.79h4.35v4.12h-4.35zM236.10 314.94h4.35v4.12h-4.35zM269.10 319.01h4.35v4.12h-4.35zM273.40 319.01h4.35v4.12h-4.35zM277.70 319.01h4.35v4.12h-4.35zM202.40 326.52h4.35v4.12h-4.35zM211.00 338.75h4.35v4.12h-4.35zM306.50 271.40h4.35v4.12h-4.35zM315.10 279.56h4.35v4.12h-4.35zM327.30 271.40h4.35v4.12h-4.35zM340.20 271.40h4.35v4.12h-4.35zM331.60 275.48h4.35v4.12h-4.35zM361.00 275.48h4.35v4.12h-4.35zM310.80 299.29h4.35v4.12h-4.35zM319.40 299.29h4.35v4.12h-4.35zM331.60 287.06h4.35v4.12h-4.35zM335.90 291.13h4.35v4.12h-4.35zM340.20 291.13h4.35v4.12h-4.35zM327.30 299.29h4.35v4.12h-4.35zM340.20 299.29h4.35v4.12h-4.35zM306.50 314.94h4.35v4.12h-4.35zM310.80 314.94h4.35v4.12h-4.35zM331.60 306.79h4.35v4.12h-4.35zM335.90 310.86h4.35v4.12h-4.35zM340.20 310.86h4.35v4.12h-4.35zM327.30 319.01h4.35v4.12h-4.35zM348.10 314.94h4.35v4.12h-4.35zM368.90 306.79h4.35v4.12h-4.35zM381.80 306.79h4.35v4.12h-4.35zM377.50 310.86h4.35v4.12h-4.35zM368.90 319.01h4.35v4.12h-4.35zM381.80 319.01h4.35v4.12h-4.35zM398.40 295.21h4.35v4.12h-4.35zM414.90 287.06h4.35v4.12h-4.35zM423.50 287.06h4.35v4.12h-4.35zM423.50 299.29h4.35v4.12h-4.35zM431.40 299.29h4.35v4.12h-4.35zM256.90 354.65h4.35v4.12h-4.35zM264.80 394.15h4.35v4.12h-4.35zM340.20 354.65h4.35v4.12h-4.35zM306.50 374.40h4.35v4.12h-4.35zM310.80 378.48h4.35v4.12h-4.35zM298.60 386.00h4.35v4.12h-4.35zM294.30 390.07h4.35v4.12h-4.35zM290.00 398.23h4.35v4.12h-4.35zM294.30 398.23h4.35v4.12h-4.35z"/>
<path fill="#ffffff" d="M244.00 66.78h4.35v4.12h-4.35zM244.00 78.48h4.35v4.12h-4.35zM277.70 74.40h4.35v4.12h-4.35zM256.90 98.33h4.35v4.12h-4.35zM236.10 118.18h4.35v4.12h-4.35zM340.20 38.78h4.35v4.12h-4.35zM285.70 74.40h4.35v4.12h-4.35zM456.50 38.78h4.35v4.12h-4.35zM465.10 98.33h4.35v4.12h-4.35zM86.10 153.68h4.35v4.12h-4.35zM160.70 173.46h4.35v4.12h-4.35zM273.40 177.53h4.35v4.12h-4.35zM231.80 193.24h4.35v4.12h-4.35zM298.60 185.69h4.35v4.12h-4.35zM348.10 193.24h4.35v4.12h-4.35zM423.50 177.53h4.35v4.12h-4.35zM119.10 247.60h4.35v4.12h-4.35zM119.10 259.82h4.35v4.12h-4.35zM139.90 247.60h4.35v4.12h-4.35zM139.90 255.75h4.35v4.12h-4.35zM98.30 275.48h4.35v4.12h-4.35zM98.30 279.56h4.35v4.12h-4.35zM119.10 271.40h4.35v4.12h-4.35zM139.90 267.33h4.35v4.12h-4.35zM139.90 271.40h4.35v4.12h-4.35zM139.90 275.48h4.35v4.12h-4.35zM77.50 299.29h4.35v4.12h-4.35zM144.20 291.13h4.35v4.12h-4.35zM160.70 291.13h4.35v4.12h-4.35zM160.70 310.86h4.35v4.12h-4.35zM119.10 326.52h4.35v4.12h-4.35zM223.20 255.75h4.35v4.12h-4.35zM223.20 259.82h4.35v4.12h-4.35zM244.00 247.60h4.35v4.12h-4.35zM202.40 275.48h4.35v4.12h-4.35zM223.20 271.40h4.35v4.12h-4.35zM181.60 287.06h4.35v4.12h-4.35zM202.40 291.13h4.35v4.12h-4.35zM206.70 291.13h4.35v4.12h-4.35zM227.50 299.29h4.35v4.12h-4.35zM277.70 295.21h4.35v4.12h-4.35zM231.80 306.79h4.35v4.12h-4.35zM223.20 310.86h4.35v4.12h-4.35zM231.80 314.94h4.35v4.12h-4.35zM244.00 310.86h4.35v4.12h-4.35zM264.80 319.01h4.35v4.12h-4.35zM202.40 338.75h4.35v4.12h-4.35zM327.30 247.60h4.35v4.12h-4.35zM340.20 259.82h4.35v4.12h-4.35zM348.10 247.60h4.35v4.12h-4.35zM356.70 255.75h4.35v4.12h-4.35zM348.10 259.82h4.35v4.12h-4.35zM285.70 267.33h4.35v4.12h-4.35zM310.80 267.33h4.35v4.12h-4.35zM319.40 267.33h4.35v4.12h-4.35zM319.40 271.40h4.35v4.12h-4.35zM315.10 275.48h4.35v4.12h-4.35zM327.30 267.33h4.35v4.12h-4.35zM335.90 275.48h4.35v4.12h-4.35zM327.30 279.56h4.35v4.12h-4.35zM348.10 271.40h4.35v4.12h-4.35zM352.40 271.40h4.35v4.12h-4.35zM348.10 279.56h4.35v4.12h-4.35zM294.30 287.06h4.35v4.12h-4.35zM285.70 291.13h4.35v4.12h-4.35zM315.10 295.21h4.35v4.12h-4.35zM327.30 287.06h4.35v4.12h-4.35zM327.30 295.21h4.35v4.12h-4.35zM352.40 291.13h4.35v4.12h-4.35zM361.00 295.21h4.35v4.12h-4.35zM348.10 299.29h4.35v4.12h-4.35zM352.40 299.29h4.35v4.12h-4.35zM356.70 299.29h4.35v4.12h-4.35zM361.00 299.29h4.35v4.12h-4.35zM368.90 287.06h4.35v4.12h-4.35zM381.80 291.13h4.35v4.12h-4.35zM340.20 306.79h4.35v4.12h-4.35zM348.10 306.79h4.35v4.12h-4.35zM368.90 310.86h4.35v4.12h-4.35zM327.30 330.59h4.35v4.12h-4.35zM340.20 338.75h4.35v4.12h-4.35zM431.40 247.60h4.35v4.12h-4.35zM460.80 247.60h4.35v4.12h-4.35zM460.80 259.82h4.35v4.12h-4.35zM414.90 267.33h4.35v4.12h-4.35zM410.60 271.40h4.35v4.12h-4.35zM444.30 267.33h4.35v4.12h-4.35zM444.30 279.56h4.35v4.12h-4.35zM460.80 271.40h4.35v4.12h-4.35zM452.20 275.48h4.35v4.12h-4.35zM460.80 275.48h4.35v4.12h-4.35zM456.50 279.56h4.35v4.12h-4.35zM389.80 287.06h4.35v4.12h-4.35zM398.40 287.06h4.35v4.12h-4.35zM402.70 291.13h4.35v4.12h-4.35zM440.00 299.29h4.35v4.12h-4.35zM465.10 287.06h4.35v4.12h-4.35zM473.00 287.06h4.35v4.12h-4.35zM473.00 291.13h4.35v4.12h-4.35zM485.90 291.13h4.35v4.12h-4.35zM481.60 299.29h4.35v4.12h-4.35zM410.60 306.79h4.35v4.12h-4.35zM431.40 306.79h4.35v4.12h-4.35zM440.00 310.86h4.35v4.12h-4.35zM460.80 306.79h4.35v4.12h-4.35zM452.20 310.86h4.35v4.12h-4.35zM456.50 319.01h4.35v4.12h-4.35zM460.80 319.01h4.35v4.12h-4.35zM473.00 306.79h4.35v4.12h-4.35zM481.60 306.79h4.35v4.12h-4.35zM477.30 310.86h4.35v4.12h-4.35zM473.00 314.94h4.35v4.12h-4.35zM477.30 319.01h4.35v4.12h-4.35zM419.20 326.52h4.35v4.12h-4.35zM423.50 338.75h4.35v4.12h-4.35zM435.70 326.52h4.35v4.12h-4.35zM435.70 330.59h4.35v4.12h-4.35zM440.00 334.67h4.35v4.12h-4.35zM139.90 346.50h4.35v4.12h-4.35zM144.20 346.50h4.35v4.12h-4.35zM119.10 366.25h4.35v4.12h-4.35zM119.10 370.32h4.35v4.12h-4.35zM119.10 378.48h4.35v4.12h-4.35zM139.90 366.25h4.35v4.12h-4.35zM77.50 386.00h4.35v4.12h-4.35zM77.50 394.15h4.35v4.12h-4.35zM86.10 398.23h4.35v4.12h-4.35zM98.30 386.00h4.35v4.12h-4.35zM98.30 394.15h4.35v4.12h-4.35zM119.10 386.00h4.35v4.12h-4.35zM139.90 386.00h4.35v4.12h-4.35zM139.90 390.07h4.35v4.12h-4.35zM148.50 394.15h4.35v4.12h-4.35zM148.50 398.23h4.35v4.12h-4.35zM119.10 405.75h4.35v4.12h-4.35zM98.30 437.73h4.35v4.12h-4.35zM119.10 425.50h4.35v4.12h-4.35zM190.20 366.25h4.35v4.12h-4.35zM211.00 370.32h4.35v4.12h-4.35zM223.20 366.25h4.35v4.12h-4.35zM223.20 370.32h4.35v4.12h-4.35zM190.20 398.23h4.35v4.12h-4.35zM202.40 429.57h4.35v4.12h-4.35zM223.20 429.57h4.35v4.12h-4.35zM236.10 429.57h4.35v4.12h-4.35zM327.30 346.50h4.35v4.12h-4.35zM361.00 358.73h4.35v4.12h-4.35zM298.60 378.48h4.35v4.12h-4.35zM331.60 366.25h4.35v4.12h-4.35zM327.30 370.32h4.35v4.12h-4.35zM331.60 374.40h4.35v4.12h-4.35zM285.70 386.00h4.35v4.12h-4.35zM356.70 398.23h4.35v4.12h-4.35zM368.90 390.07h4.35v4.12h-4.35zM306.50 405.75h4.35v4.12h-4.35zM306.50 409.82h4.35v4.12h-4.35zM348.10 413.90h4.35v4.12h-4.35zM310.80 425.50h4.35v4.12h-4.35zM315.10 433.65h4.35v4.12h-4.35zM335.90 437.73h4.35v4.12h-4.35zM340.20 437.73h4.35v4.12h-4.35zM435.70 354.65h4.35v4.12h-4.35zM444.30 354.65h4.35v4.12h-4.35zM465.10 346.50h4.35v4.12h-4.35zM398.40 366.25h4.35v4.12h-4.35zM389.80 378.48h4.35v4.12h-4.35zM414.90 370.32h4.35v4.12h-4.35zM414.90 378.48h4.35v4.12h-4.35zM440.00 370.32h4.35v4.12h-4.35zM456.50 374.40h4.35v4.12h-4.35zM465.10 378.48h4.35v4.12h-4.35zM410.60 390.07h4.35v4.12h-4.35zM414.90 394.15h4.35v4.12h-4.35zM410.60 398.23h4.35v4.12h-4.35zM444.30 386.00h4.35v4.12h-4.35zM431.40 390.07h4.35v4.12h-4.35zM444.30 398.23h4.35v4.12h-4.35zM485.90 398.23h4.35v4.12h-4.35zM419.20 413.90h4.35v4.12h-4.35zM431.40 405.75h4.35v4.12h-4.35zM435.70 417.98h4.35v4.12h-4.35zM452.20 409.82h4.35v4.12h-4.35zM452.20 413.90h4.35v4.12h-4.35zM473.00 405.75h4.35v4.12h-4.35zM473.00 409.82h4.35v4.12h-4.35zM423.50 429.57h4.35v4.12h-4.35zM423.50 437.73h4.35v4.12h-4.35zM440.00 433.65h4.35v4.12h-4.35zM440.00 437.73h4.35v4.12h-4.35z"/>
<path fill="#b5ff42" d="M181.60 78.48h4.35v4.12h-4.35zM194.50 78.48h4.35v4.12h-4.35zM215.30 86.62h4.35v4.12h-4.35zM231.80 78.48h4.35v4.12h-4.35zM231.80 82.55h4.35v4.12h-4.35zM211.00 98.33h4.35v4.12h-4.35zM206.70 106.47h4.35v4.12h-4.35zM223.20 94.25h4.35v4.12h-4.35zM236.10 94.25h4.35v4.12h-4.35zM236.10 102.40h4.35v4.12h-4.35zM223.20 106.47h4.35v4.12h-4.35zM256.90 106.47h4.35v4.12h-4.35zM211.00 118.18h4.35v4.12h-4.35zM206.70 122.25h4.35v4.12h-4.35zM223.20 114.10h4.35v4.12h-4.35zM290.00 58.63h4.35v4.12h-4.35zM331.60 66.78h4.35v4.12h-4.35zM285.70 86.62h4.35v4.12h-4.35zM331.60 82.55h4.35v4.12h-4.35zM340.20 102.40h4.35v4.12h-4.35zM310.80 122.25h4.35v4.12h-4.35zM223.20 137.97h4.35v4.12h-4.35zM181.60 165.91h4.35v4.12h-4.35zM206.70 165.91h4.35v4.12h-4.35zM211.00 165.91h4.35v4.12h-4.35zM231.80 161.83h4.35v4.12h-4.35zM231.80 165.91h4.35v4.12h-4.35zM244.00 161.83h4.35v4.12h-4.35zM190.20 185.69h4.35v4.12h-4.35zM211.00 177.53h4.35v4.12h-4.35zM223.20 177.53h4.35v4.12h-4.35zM236.10 177.53h4.35v4.12h-4.35zM231.80 181.61h4.35v4.12h-4.35zM211.00 205.47h4.35v4.12h-4.35zM327.30 142.05h4.35v4.12h-4.35zM356.70 133.90h4.35v4.12h-4.35zM290.00 157.75h4.35v4.12h-4.35zM285.70 161.83h4.35v4.12h-4.35zM319.40 157.75h4.35v4.12h-4.35zM331.60 153.68h4.35v4.12h-4.35zM306.50 177.53h4.35v4.12h-4.35zM319.40 181.61h4.35v4.12h-4.35zM315.10 185.69h4.35v4.12h-4.35zM331.60 177.53h4.35v4.12h-4.35zM352.40 177.53h4.35v4.12h-4.35zM348.10 197.31h4.35v4.12h-4.35zM361.00 197.31h4.35v4.12h-4.35zM348.10 205.47h4.35v4.12h-4.35zM414.90 161.83h4.35v4.12h-4.35zM423.50 205.47h4.35v4.12h-4.35zM148.50 279.56h4.35v4.12h-4.35zM160.70 306.79h4.35v4.12h-4.35zM252.60 259.82h4.35v4.12h-4.35zM185.90 279.56h4.35v4.12h-4.35zM206.70 299.29h4.35v4.12h-4.35zM223.20 291.13h4.35v4.12h-4.35zM223.20 295.21h4.35v4.12h-4.35zM236.10 295.21h4.35v4.12h-4.35zM231.80 299.29h4.35v4.12h-4.35zM236.10 299.29h4.35v4.12h-4.35zM248.30 295.21h4.35v4.12h-4.35zM202.40 306.79h4.35v4.12h-4.35zM215.30 306.79h4.35v4.12h-4.35zM211.00 310.86h4.35v4.12h-4.35zM206.70 314.94h4.35v4.12h-4.35zM206.70 319.01h4.35v4.12h-4.35zM215.30 319.01h4.35v4.12h-4.35zM273.40 310.86h4.35v4.12h-4.35zM202.40 330.59h4.35v4.12h-4.35zM215.30 330.59h4.35v4.12h-4.35zM206.70 338.75h4.35v4.12h-4.35zM356.70 251.67h4.35v4.12h-4.35zM361.00 251.67h4.35v4.12h-4.35zM348.10 255.75h4.35v4.12h-4.35zM361.00 255.75h4.35v4.12h-4.35zM361.00 259.82h4.35v4.12h-4.35zM340.20 295.21h4.35v4.12h-4.35zM306.50 306.79h4.35v4.12h-4.35zM310.80 310.86h4.35v4.12h-4.35zM327.30 310.86h4.35v4.12h-4.35zM340.20 314.94h4.35v4.12h-4.35zM340.20 319.01h4.35v4.12h-4.35zM331.60 334.67h4.35v4.12h-4.35zM331.60 338.75h4.35v4.12h-4.35zM398.40 291.13h4.35v4.12h-4.35zM402.70 295.21h4.35v4.12h-4.35zM419.20 291.13h4.35v4.12h-4.35zM231.80 358.73h4.35v4.12h-4.35zM248.30 346.50h4.35v4.12h-4.35zM252.60 346.50h4.35v4.12h-4.35zM256.90 346.50h4.35v4.12h-4.35zM248.30 350.57h4.35v4.12h-4.35zM244.00 358.73h4.35v4.12h-4.35zM340.20 346.50h4.35v4.12h-4.35zM327.30 354.65h4.35v4.12h-4.35zM340.20 358.73h4.35v4.12h-4.35zM315.10 370.32h4.35v4.12h-4.35zM319.40 370.32h4.35v4.12h-4.35zM319.40 374.40h4.35v4.12h-4.35zM306.50 378.48h4.35v4.12h-4.35zM335.90 366.25h4.35v4.12h-4.35zM361.00 378.48h4.35v4.12h-4.35zM340.20 429.57h4.35v4.12h-4.35z"/>
<path fill="#d6ff21" d="M206.70 102.40h4.35v4.12h-4.35zM202.40 118.18h4.35v4.12h-4.35zM206.70 126.33h4.35v4.12h-4.35zM227.50 114.10h4.35v4.12h-4.35zM223.20 118.18h4.35v4.12h-4.35zM223.20 126.33h4.35v4.12h-4.35zM206.70 185.69h4.35v4.12h-4.35zM331.60 185.69h4.35v4.12h-4.35zM310.80 193.24h4.35v4.12h-4.35zM252.60 255.75h4.35v4.12h-4.35zM256.90 259.82h4.35v4.12h-4.35zM194.50 271.40h4.35v4.12h-4.35zM185.90 275.48h4.35v4.12h-4.35zM194.50 275.48h4.35v4.12h-4.35zM211.00 271.40h4.35v4.12h-4.35zM215.30 275.48h4.35v4.12h-4.35zM231.80 267.33h4.35v4.12h-4.35zM236.10 267.33h4.35v4.12h-4.35zM248.30 271.40h4.35v4.12h-4.35zM194.50 287.06h4.35v4.12h-4.35zM190.20 299.29h4.35v4.12h-4.35zM202.40 287.06h4.35v4.12h-4.35zM211.00 287.06h4.35v4.12h-4.35zM211.00 291.13h4.35v4.12h-4.35zM215.30 299.29h4.35v4.12h-4.35zM223.20 287.06h4.35v4.12h-4.35zM236.10 291.13h4.35v4.12h-4.35zM202.40 319.01h4.35v4.12h-4.35zM223.20 306.79h4.35v4.12h-4.35zM236.10 306.79h4.35v4.12h-4.35zM236.10 310.86h4.35v4.12h-4.35zM223.20 314.94h4.35v4.12h-4.35zM236.10 319.01h4.35v4.12h-4.35zM244.00 314.94h4.35v4.12h-4.35zM277.70 306.79h4.35v4.12h-4.35zM215.30 334.67h4.35v4.12h-4.35zM215.30 338.75h4.35v4.12h-4.35zM227.50 326.52h4.35v4.12h-4.35zM223.20 330.59h4.35v4.12h-4.35zM231.80 330.59h4.35v4.12h-4.35zM227.50 338.75h4.35v4.12h-4.35zM335.90 259.82h4.35v4.12h-4.35zM290.00 267.33h4.35v4.12h-4.35zM310.80 271.40h4.35v4.12h-4.35zM319.40 279.56h4.35v4.12h-4.35zM331.60 279.56h4.35v4.12h-4.35zM361.00 271.40h4.35v4.12h-4.35zM298.60 299.29h4.35v4.12h-4.35zM315.10 291.13h4.35v4.12h-4.35zM335.90 287.06h4.35v4.12h-4.35zM340.20 287.06h4.35v4.12h-4.35zM377.50 295.21h4.35v4.12h-4.35zM368.90 299.29h4.35v4.12h-4.35zM315.10 310.86h4.35v4.12h-4.35zM310.80 319.01h4.35v4.12h-4.35zM327.30 306.79h4.35v4.12h-4.35zM373.20 314.94h4.35v4.12h-4.35zM381.80 314.94h4.35v4.12h-4.35zM389.80 295.21h4.35v4.12h-4.35zM394.10 299.29h4.35v4.12h-4.35zM331.60 354.65h4.35v4.12h-4.35zM310.80 366.25h4.35v4.12h-4.35zM310.80 370.32h4.35v4.12h-4.35zM310.80 374.40h4.35v4.12h-4.35zM298.60 390.07h4.35v4.12h-4.35z"/>
<path fill="#deff19" d="M215.30 114.10h4.35v4.12h-4.35zM248.30 251.67h4.35v4.12h-4.35zM256.90 251.67h4.35v4.12h-4.35zM244.00 255.75h4.35v4.12h-4.35zM190.20 271.40h4.35v4.12h-4.35zM194.50 279.56h4.35v4.12h-4.35zM206.70 271.40h4.35v4.12h-4.35zM211.00 279.56h4.35v4.12h-4.35zM231.80 275.48h4.35v4.12h-4.35zM256.90 267.33h4.35v4.12h-4.35zM244.00 279.56h4.35v4.12h-4.35zM256.90 279.56h4.35v4.12h-4.35zM185.90 287.06h4.35v4.12h-4.35zM211.00 295.21h4.35v4.12h-4.35zM202.40 299.29h4.35v4.12h-4.35zM236.10 287.06h4.35v4.12h-4.35zM231.80 295.21h4.35v4.12h-4.35zM244.00 291.13h4.35v4.12h-4.35zM252.60 291.13h4.35v4.12h-4.35zM256.90 291.13h4.35v4.12h-4.35zM248.30 299.29h4.35v4.12h-4.35zM211.00 314.94h4.35v4.12h-4.35zM231.80 319.01h4.35v4.12h-4.35zM244.00 306.79h4.35v4.12h-4.35zM252.60 310.86h4.35v4.12h-4.35zM252.60 314.94h4.35v4.12h-4.35zM256.90 319.01h4.35v4.12h-4.35zM273.40 314.94h4.35v4.12h-4.35zM277.70 314.94h4.35v4.12h-4.35zM202.40 334.67h4.35v4.12h-4.35zM211.00 334.67h4.35v4.12h-4.35zM231.80 326.52h4.35v4.12h-4.35zM227.50 330.59h4.35v4.12h-4.35zM236.10 330.59h4.35v4.12h-4.35zM231.80 334.67h4.35v4.12h-4.35zM236.10 334.67h4.35v4.12h-4.35zM352.40 259.82h4.35v4.12h-4.35zM356.70 259.82h4.35v4.12h-4.35zM298.60 279.56h4.35v4.12h-4.35zM315.10 271.40h4.35v4.12h-4.35zM331.60 271.40h4.35v4.12h-4.35zM340.20 279.56h4.35v4.12h-4.35zM348.10 275.48h4.35v4.12h-4.35zM294.30 299.29h4.35v4.12h-4.35zM306.50 287.06h4.35v4.12h-4.35zM315.10 287.06h4.35v4.12h-4.35zM306.50 295.21h4.35v4.12h-4.35zM373.20 291.13h4.35v4.12h-4.35zM373.20 299.29h4.35v4.12h-4.35zM356.70 319.01h4.35v4.12h-4.35zM368.90 314.94h4.35v4.12h-4.35zM373.20 319.01h4.35v4.12h-4.35zM306.50 330.59h4.35v4.12h-4.35zM310.80 334.67h4.35v4.12h-4.35zM315.10 338.75h4.35v4.12h-4.35zM394.10 275.48h4.35v4.12h-4.35zM410.60 299.29h4.35v4.12h-4.35zM414.90 299.29h4.35v4.12h-4.35zM419.20 299.29h4.35v4.12h-4.35zM335.90 358.73h4.35v4.12h-4.35z"/>
<path fill="#ffec00" d="M215.30 126.33h4.35v4.12h-4.35zM231.80 251.67h4.35v4.12h-4.35zM223.20 267.33h4.35v4.12h-4.35zM273.40 287.06h4.35v4.12h-4.35zM269.10 299.29h4.35v4.12h-4.35zM223.20 319.01h4.35v4.12h-4.35zM248.30 310.86h4.35v4.12h-4.35zM256.90 310.86h4.35v4.12h-4.35zM252.60 319.01h4.35v4.12h-4.35zM298.60 275.48h4.35v4.12h-4.35zM285.70 279.56h4.35v4.12h-4.35zM294.30 279.56h4.35v4.12h-4.35zM298.60 287.06h4.35v4.12h-4.35zM361.00 310.86h4.35v4.12h-4.35zM352.40 319.01h4.35v4.12h-4.35zM319.40 326.52h4.35v4.12h-4.35z"/>
<path fill="#f7f600" d="M231.80 114.10h4.35v4.12h-4.35zM236.10 247.60h4.35v4.12h-4.35zM227.50 251.67h4.35v4.12h-4.35zM236.10 259.82h4.35v4.12h-4.35zM244.00 251.67h4.35v4.12h-4.35zM202.40 271.40h4.35v4.12h-4.35zM206.70 275.48h4.35v4.12h-4.35zM211.00 275.48h4.35v4.12h-4.35zM215.30 279.56h4.35v4.12h-4.35zM223.20 279.56h4.35v4.12h-4.35zM223.20 299.29h4.35v4.12h-4.35zM256.90 287.06h4.35v4.12h-4.35zM252.60 295.21h4.35v4.12h-4.35zM227.50 310.86h4.35v4.12h-4.35zM231.80 310.86h4.35v4.12h-4.35zM248.30 314.94h4.35v4.12h-4.35zM244.00 319.01h4.35v4.12h-4.35zM248.30 319.01h4.35v4.12h-4.35zM206.70 330.59h4.35v4.12h-4.35zM227.50 334.67h4.35v4.12h-4.35zM236.10 338.75h4.35v4.12h-4.35zM298.60 267.33h4.35v4.12h-4.35zM290.00 271.40h4.35v4.12h-4.35zM298.60 295.21h4.35v4.12h-4.35zM310.80 287.06h4.35v4.12h-4.35zM319.40 287.06h4.35v4.12h-4.35zM306.50 299.29h4.35v4.12h-4.35zM368.90 291.13h4.35v4.12h-4.35zM356.70 314.94h4.35v4.12h-4.35zM361.00 314.94h4.35v4.12h-4.35zM361.00 319.01h4.35v4.12h-4.35zM319.40 366.25h4.35v4.12h-4.35z"/>
<path fill="#efff08" d="M231.80 122.25h4.35v4.12h-4.35zM227.50 255.75h4.35v4.12h-4.35zM236.10 271.40h4.35v4.12h-4.35zM223.20 275.48h4.35v4.12h-4.35zM236.10 275.48h4.35v4.12h-4.35zM227.50 279.56h4.35v4.12h-4.35zM231.80 279.56h4.35v4.12h-4.35zM248.30 275.48h4.35v4.12h-4.35zM194.50 299.29h4.35v4.12h-4.35zM215.30 295.21h4.35v4.12h-4.35zM252.60 287.06h4.35v4.12h-4.35zM256.90 295.21h4.35v4.12h-4.35zM252.60 299.29h4.35v4.12h-4.35zM227.50 319.01h4.35v4.12h-4.35zM264.80 306.79h4.35v4.12h-4.35zM223.20 334.67h4.35v4.12h-4.35zM223.20 338.75h4.35v4.12h-4.35zM294.30 267.33h4.35v4.12h-4.35zM290.00 279.56h4.35v4.12h-4.35zM315.10 267.33h4.35v4.12h-4.35zM335.90 271.40h4.35v4.12h-4.35zM352.40 267.33h4.35v4.12h-4.35zM356.70 275.48h4.35v4.12h-4.35zM285.70 299.29h4.35v4.12h-4.35zM331.60 295.21h4.35v4.12h-4.35zM377.50 291.13h4.35v4.12h-4.35zM381.80 295.21h4.35v4.12h-4.35zM381.80 299.29h4.35v4.12h-4.35zM377.50 306.79h4.35v4.12h-4.35zM310.80 330.59h4.35v4.12h-4.35zM315.10 334.67h4.35v4.12h-4.35zM319.40 334.67h4.35v4.12h-4.35zM306.50 338.75h4.35v4.12h-4.35zM319.40 338.75h4.35v4.12h-4.35z"/>
<path fill="#21ffd6" d="M460.80 34.70h4.35v4.12h-4.35zM410.60 62.70h4.35v4.12h-4.35zM410.60 66.78h4.35v4.12h-4.35zM410.60 74.40h4.35v4.12h-4.35zM435.70 86.62h4.35v4.12h-4.35zM485.90 78.48h4.35v4.12h-4.35zM465.10 106.47h4.35v4.12h-4.35zM86.10 279.56h4.35v4.12h-4.35zM90.40 291.13h4.35v4.12h-4.35zM90.40 299.29h4.35v4.12h-4.35zM123.40 326.52h4.35v4.12h-4.35zM402.70 275.48h4.35v4.12h-4.35zM144.20 354.65h4.35v4.12h-4.35zM127.70 366.25h4.35v4.12h-4.35zM152.80 386.00h4.35v4.12h-4.35zM139.90 398.23h4.35v4.12h-4.35zM148.50 409.82h4.35v4.12h-4.35zM165.00 405.75h4.35v4.12h-4.35zM169.30 417.98h4.35v4.12h-4.35zM173.60 417.98h4.35v4.12h-4.35zM181.60 370.32h4.35v4.12h-4.35zM190.20 378.48h4.35v4.12h-4.35zM206.70 390.07h4.35v4.12h-4.35zM211.00 394.15h4.35v4.12h-4.35zM244.00 386.00h4.35v4.12h-4.35zM211.00 413.90h4.35v4.12h-4.35zM211.00 417.98h4.35v4.12h-4.35zM215.30 417.98h4.35v4.12h-4.35zM231.80 405.75h4.35v4.12h-4.35zM227.50 417.98h4.35v4.12h-4.35zM215.30 437.73h4.35v4.12h-4.35zM223.20 425.50h4.35v4.12h-4.35zM227.50 437.73h4.35v4.12h-4.35zM440.00 346.50h4.35v4.12h-4.35zM431.40 358.73h4.35v4.12h-4.35zM465.10 354.65h4.35v4.12h-4.35zM460.80 366.25h4.35v4.12h-4.35zM452.20 370.32h4.35v4.12h-4.35zM410.60 386.00h4.35v4.12h-4.35zM414.90 413.90h4.35v4.12h-4.35zM431.40 409.82h4.35v4.12h-4.35zM444.30 413.90h4.35v4.12h-4.35zM440.00 417.98h4.35v4.12h-4.35zM456.50 413.90h4.35v4.12h-4.35zM473.00 417.98h4.35v4.12h-4.35zM419.20 429.57h4.35v4.12h-4.35zM410.60 437.73h4.35v4.12h-4.35zM414.90 437.73h4.35v4.12h-4.35z"/>
<path fill="#009eff" d="M460.80 38.78h4.35v4.12h-4.35zM81.80 386.00h4.35v4.12h-4.35zM81.80 390.07h4.35v4.12h-4.35zM81.80 394.15h4.35v4.12h-4.35zM102.60 437.73h4.35v4.12h-4.35zM123.40 425.50h4.35v4.12h-4.35zM185.90 366.25h4.35v4.12h-4.35zM231.80 429.57h4.35v4.12h-4.35zM223.20 433.65h4.35v4.12h-4.35zM481.60 398.23h4.35v4.12h-4.35zM465.10 405.75h4.35v4.12h-4.35z"/>
<path fill="#08f0ef" d="M414.90 58.63h4.35v4.12h-4.35zM414.90 62.70h4.35v4.12h-4.35zM398.40 74.40h4.35v4.12h-4.35zM127.70 255.75h4.35v4.12h-4.35zM77.50 291.13h4.35v4.12h-4.35zM86.10 291.13h4.35v4.12h-4.35zM102.60 306.79h4.35v4.12h-4.35zM119.10 330.59h4.35v4.12h-4.35zM123.40 350.57h4.35v4.12h-4.35zM152.80 350.57h4.35v4.12h-4.35zM144.20 358.73h4.35v4.12h-4.35zM148.50 358.73h4.35v4.12h-4.35zM77.50 370.32h4.35v4.12h-4.35zM86.10 370.32h4.35v4.12h-4.35zM90.40 370.32h4.35v4.12h-4.35zM77.50 378.48h4.35v4.12h-4.35zM123.40 370.32h4.35v4.12h-4.35zM132.00 370.32h4.35v4.12h-4.35zM152.80 378.48h4.35v4.12h-4.35zM102.60 398.23h4.35v4.12h-4.35zM119.10 390.07h4.35v4.12h-4.35zM144.20 409.82h4.35v4.12h-4.35zM152.80 409.82h4.35v4.12h-4.35zM98.30 429.57h4.35v4.12h-4.35zM181.60 378.48h4.35v4.12h-4.35zM202.40 378.48h4.35v4.12h-4.35zM206.70 405.75h4.35v4.12h-4.35zM227.50 409.82h4.35v4.12h-4.35zM269.10 409.82h4.35v4.12h-4.35zM269.10 413.90h4.35v4.12h-4.35zM273.40 417.98h4.35v4.12h-4.35zM202.40 425.50h4.35v4.12h-4.35zM206.70 425.50h4.35v4.12h-4.35zM211.00 429.57h4.35v4.12h-4.35zM231.80 425.50h4.35v4.12h-4.35zM236.10 437.73h4.35v4.12h-4.35zM452.20 350.57h4.35v4.12h-4.35zM456.50 350.57h4.35v4.12h-4.35zM431.40 394.15h4.35v4.12h-4.35zM460.80 386.00h4.35v4.12h-4.35zM465.10 390.07h4.35v4.12h-4.35zM465.10 394.15h4.35v4.12h-4.35zM414.90 405.75h4.35v4.12h-4.35zM444.30 417.98h4.35v4.12h-4.35zM460.80 413.90h4.35v4.12h-4.35zM465.10 417.98h4.35v4.12h-4.35zM485.90 405.75h4.35v4.12h-4.35zM481.60 409.82h4.35v4.12h-4.35zM481.60 413.90h4.35v4.12h-4.35zM431.40 425.50h4.35v4.12h-4.35zM440.00 429.57h4.35v4.12h-4.35zM444.30 433.65h4.35v4.12h-4.35z"/>
<path fill="#ffb300" d="M423.50 78.48h4.35v4.12h-4.35zM227.50 247.60h4.35v4.12h-4.35zM231.80 247.60h4.35v4.12h-4.35zM202.40 267.33h4.35v4.12h-4.35zM194.50 295.21h4.35v4.12h-4.35zM273.40 295.21h4.35v4.12h-4.35zM248.30 306.79h4.35v4.12h-4.35zM252.60 306.79h4.35v4.12h-4.35zM223.20 326.52h4.35v4.12h-4.35zM335.90 247.60h4.35v4.12h-4.35zM340.20 247.60h4.35v4.12h-4.35zM306.50 267.33h4.35v4.12h-4.35zM290.00 287.06h4.35v4.12h-4.35zM348.10 287.06h4.35v4.12h-4.35zM377.50 287.06h4.35v4.12h-4.35zM381.80 287.06h4.35v4.12h-4.35z"/>
<path fill="#19ffde" d="M465.10 94.25h4.35v4.12h-4.35zM460.80 102.40h4.35v4.12h-4.35zM269.10 197.31h4.35v4.12h-4.35zM440.00 133.90h4.35v4.12h-4.35zM102.60 267.33h4.35v4.12h-4.35zM106.90 267.33h4.35v4.12h-4.35zM402.70 271.40h4.35v4.12h-4.35zM394.10 279.56h4.35v4.12h-4.35zM148.50 354.65h4.35v4.12h-4.35zM152.80 358.73h4.35v4.12h-4.35zM81.80 370.32h4.35v4.12h-4.35zM132.00 366.25h4.35v4.12h-4.35zM132.00 374.40h4.35v4.12h-4.35zM139.90 370.32h4.35v4.12h-4.35zM148.50 374.40h4.35v4.12h-4.35zM106.90 398.23h4.35v4.12h-4.35zM139.90 409.82h4.35v4.12h-4.35zM194.50 370.32h4.35v4.12h-4.35zM185.90 378.48h4.35v4.12h-4.35zM215.30 378.48h4.35v4.12h-4.35zM211.00 386.00h4.35v4.12h-4.35zM202.40 390.07h4.35v4.12h-4.35zM215.30 390.07h4.35v4.12h-4.35zM256.90 398.23h4.35v4.12h-4.35zM215.30 409.82h4.35v4.12h-4.35zM202.40 413.90h4.35v4.12h-4.35zM206.70 413.90h4.35v4.12h-4.35zM236.10 405.75h4.35v4.12h-4.35zM223.20 409.82h4.35v4.12h-4.35zM264.80 405.75h4.35v4.12h-4.35zM223.20 437.73h4.35v4.12h-4.35zM452.20 346.50h4.35v4.12h-4.35zM423.50 398.23h4.35v4.12h-4.35zM452.20 390.07h4.35v4.12h-4.35zM419.20 417.98h4.35v4.12h-4.35zM440.00 409.82h4.35v4.12h-4.35zM485.90 409.82h4.35v4.12h-4.35zM485.90 413.90h4.35v4.12h-4.35zM414.90 425.50h4.35v4.12h-4.35zM444.30 425.50h4.35v4.12h-4.35zM431.40 433.65h4.35v4.12h-4.35z"/>
<path fill="#0024ff" d="M460.80 98.33h4.35v4.12h-4.35z"/>
<path fill="#00dbff" d="M160.70 193.24h4.35v4.12h-4.35zM127.70 350.57h4.35v4.12h-4.35zM119.10 354.65h4.35v4.12h-4.35zM132.00 354.65h4.35v4.12h-4.35zM119.10 358.73h4.35v4.12h-4.35zM139.90 354.65h4.35v4.12h-4.35zM86.10 374.40h4.35v4.12h-4.35zM81.80 378.48h4.35v4.12h-4.35zM98.30 366.25h4.35v4.12h-4.35zM111.20 366.25h4.35v4.12h-4.35zM111.20 370.32h4.35v4.12h-4.35zM102.60 374.40h4.35v4.12h-4.35zM106.90 378.48h4.35v4.12h-4.35zM111.20 386.00h4.35v4.12h-4.35zM111.20 398.23h4.35v4.12h-4.35zM123.40 386.00h4.35v4.12h-4.35zM106.90 405.75h4.35v4.12h-4.35zM98.30 409.82h4.35v4.12h-4.35zM102.60 409.82h4.35v4.12h-4.35zM127.70 409.82h4.35v4.12h-4.35zM119.10 413.90h4.35v4.12h-4.35zM127.70 413.90h4.35v4.12h-4.35zM132.00 413.90h4.35v4.12h-4.35zM119.10 417.98h4.35v4.12h-4.35zM148.50 405.75h4.35v4.12h-4.35zM152.80 405.75h4.35v4.12h-4.35zM152.80 413.90h4.35v4.12h-4.35zM139.90 417.98h4.35v4.12h-4.35zM144.20 417.98h4.35v4.12h-4.35zM152.80 417.98h4.35v4.12h-4.35zM173.60 405.75h4.35v4.12h-4.35zM98.30 425.50h4.35v4.12h-4.35zM106.90 433.65h4.35v4.12h-4.35zM185.90 386.00h4.35v4.12h-4.35zM194.50 390.07h4.35v4.12h-4.35zM181.60 394.15h4.35v4.12h-4.35zM202.40 394.15h4.35v4.12h-4.35zM202.40 398.23h4.35v4.12h-4.35zM273.40 409.82h4.35v4.12h-4.35zM211.00 425.50h4.35v4.12h-4.35zM215.30 429.57h4.35v4.12h-4.35zM206.70 437.73h4.35v4.12h-4.35zM227.50 425.50h4.35v4.12h-4.35zM460.80 394.15h4.35v4.12h-4.35zM456.50 398.23h4.35v4.12h-4.35zM477.30 398.23h4.35v4.12h-4.35zM465.10 413.90h4.35v4.12h-4.35zM485.90 417.98h4.35v4.12h-4.35zM435.70 429.57h4.35v4.12h-4.35zM444.30 437.73h4.35v4.12h-4.35z"/>
<path fill="#00b3ff" d="M248.30 177.53h4.35v4.12h-4.35zM394.10 267.33h4.35v4.12h-4.35zM398.40 267.33h4.35v4.12h-4.35zM119.10 350.57h4.35v4.12h-4.35zM123.40 358.73h4.35v4.12h-4.35zM102.60 370.32h4.35v4.12h-4.35zM98.30 378.48h4.35v4.12h-4.35zM90.40 398.23h4.35v4.12h-4.35zM123.40 405.75h4.35v4.12h-4.35zM132.00 405.75h4.35v4.12h-4.35zM127.70 417.98h4.35v4.12h-4.35zM102.60 433.65h4.35v4.12h-4.35zM123.40 433.65h4.35v4.12h-4.35zM127.70 437.73h4.35v4.12h-4.35zM181.60 366.25h4.35v4.12h-4.35zM194.50 366.25h4.35v4.12h-4.35zM202.40 370.32h4.35v4.12h-4.35zM190.20 394.15h4.35v4.12h-4.35zM477.30 390.07h4.35v4.12h-4.35zM473.00 398.23h4.35v4.12h-4.35z"/>
<path fill="#00e5f7" d="M244.00 201.39h4.35v4.12h-4.35zM90.40 295.21h4.35v4.12h-4.35zM81.80 299.29h4.35v4.12h-4.35zM86.10 299.29h4.35v4.12h-4.35zM119.10 346.50h4.35v4.12h-4.35zM123.40 354.65h4.35v4.12h-4.35zM127.70 354.65h4.35v4.12h-4.35zM86.10 366.25h4.35v4.12h-4.35zM90.40 366.25h4.35v4.12h-4.35zM77.50 374.40h4.35v4.12h-4.35zM102.60 366.25h4.35v4.12h-4.35zM102.60 378.48h4.35v4.12h-4.35zM123.40 366.25h4.35v4.12h-4.35zM119.10 374.40h4.35v4.12h-4.35zM132.00 378.48h4.35v4.12h-4.35zM152.80 374.40h4.35v4.12h-4.35zM102.60 386.00h4.35v4.12h-4.35zM106.90 386.00h4.35v4.12h-4.35zM106.90 390.07h4.35v4.12h-4.35zM111.20 394.15h4.35v4.12h-4.35zM119.10 394.15h4.35v4.12h-4.35zM127.70 394.15h4.35v4.12h-4.35zM132.00 394.15h4.35v4.12h-4.35zM132.00 398.23h4.35v4.12h-4.35zM102.60 417.98h4.35v4.12h-4.35zM123.40 409.82h4.35v4.12h-4.35zM132.00 417.98h4.35v4.12h-4.35zM139.90 405.75h4.35v4.12h-4.35zM139.90 413.90h4.35v4.12h-4.35zM111.20 429.57h4.35v4.12h-4.35zM123.40 429.57h4.35v4.12h-4.35zM123.40 437.73h4.35v4.12h-4.35zM190.20 370.32h4.35v4.12h-4.35zM215.30 370.32h4.35v4.12h-4.35zM185.90 394.15h4.35v4.12h-4.35zM215.30 386.00h4.35v4.12h-4.35zM206.70 394.15h4.35v4.12h-4.35zM211.00 398.23h4.35v4.12h-4.35zM202.40 437.73h4.35v4.12h-4.35zM236.10 425.50h4.35v4.12h-4.35zM227.50 429.57h4.35v4.12h-4.35zM236.10 433.65h4.35v4.12h-4.35zM231.80 437.73h4.35v4.12h-4.35zM452.20 398.23h4.35v4.12h-4.35zM481.60 386.00h4.35v4.12h-4.35zM431.40 417.98h4.35v4.12h-4.35zM456.50 409.82h4.35v4.12h-4.35zM460.80 409.82h4.35v4.12h-4.35zM460.80 417.98h4.35v4.12h-4.35zM477.30 405.75h4.35v4.12h-4.35zM477.30 417.98h4.35v4.12h-4.35zM440.00 425.50h4.35v4.12h-4.35zM431.40 429.57h4.35v4.12h-4.35zM444.30 429.57h4.35v4.12h-4.35zM435.70 433.65h4.35v4.12h-4.35zM431.40 437.73h4.35v4.12h-4.35z"/>
<path fill="#ffc600" d="M319.40 177.53h4.35v4.12h-4.35zM227.50 259.82h4.35v4.12h-4.35zM231.80 259.82h4.35v4.12h-4.35zM211.00 267.33h4.35v4.12h-4.35zM227.50 267.33h4.35v4.12h-4.35zM227.50 275.48h4.35v4.12h-4.35zM248.30 287.06h4.35v4.12h-4.35zM264.80 287.06h4.35v4.12h-4.35zM264.80 295.21h4.35v4.12h-4.35zM236.10 326.52h4.35v4.12h-4.35zM331.60 251.67h4.35v4.12h-4.35zM285.70 271.40h4.35v4.12h-4.35zM290.00 275.48h4.35v4.12h-4.35zM294.30 275.48h4.35v4.12h-4.35zM290.00 291.13h4.35v4.12h-4.35zM294.30 291.13h4.35v4.12h-4.35zM310.80 291.13h4.35v4.12h-4.35zM356.70 295.21h4.35v4.12h-4.35zM352.40 310.86h4.35v4.12h-4.35zM310.80 326.52h4.35v4.12h-4.35z"/>
<path fill="#10fae6" d="M90.40 267.33h4.35v4.12h-4.35zM81.80 291.13h4.35v4.12h-4.35zM102.60 334.67h4.35v4.12h-4.35zM148.50 350.57h4.35v4.12h-4.35zM152.80 354.65h4.35v4.12h-4.35zM139.90 358.73h4.35v4.12h-4.35zM81.80 366.25h4.35v4.12h-4.35zM90.40 374.40h4.35v4.12h-4.35zM127.70 374.40h4.35v4.12h-4.35zM127.70 378.48h4.35v4.12h-4.35zM144.20 366.25h4.35v4.12h-4.35zM152.80 370.32h4.35v4.12h-4.35zM144.20 378.48h4.35v4.12h-4.35zM102.60 390.07h4.35v4.12h-4.35zM106.90 394.15h4.35v4.12h-4.35zM144.20 413.90h4.35v4.12h-4.35zM148.50 417.98h4.35v4.12h-4.35zM169.30 409.82h4.35v4.12h-4.35zM165.00 417.98h4.35v4.12h-4.35zM185.90 370.32h4.35v4.12h-4.35zM211.00 378.48h4.35v4.12h-4.35zM194.50 386.00h4.35v4.12h-4.35zM202.40 417.98h4.35v4.12h-4.35zM215.30 425.50h4.35v4.12h-4.35zM215.30 433.65h4.35v4.12h-4.35zM227.50 433.65h4.35v4.12h-4.35zM460.80 350.57h4.35v4.12h-4.35zM456.50 378.48h4.35v4.12h-4.35zM435.70 394.15h4.35v4.12h-4.35zM435.70 405.75h4.35v4.12h-4.35zM440.00 413.90h4.35v4.12h-4.35zM456.50 405.75h4.35v4.12h-4.35zM477.30 413.90h4.35v4.12h-4.35zM410.60 425.50h4.35v4.12h-4.35zM435.70 425.50h4.35v4.12h-4.35zM435.70 437.73h4.35v4.12h-4.35z"/>
<path fill="#0061ff" d="M77.50 287.06h4.35v4.12h-4.35zM389.80 271.40h4.35v4.12h-4.35zM139.90 350.57h4.35v4.12h-4.35zM181.60 398.23h4.35v4.12h-4.35zM211.00 437.73h4.35v4.12h-4.35zM452.20 405.75h4.35v4.12h-4.35z"/>
<path fill="#0080ff" d="M81.80 287.06h4.35v4.12h-4.35zM389.80 279.56h4.35v4.12h-4.35zM144.20 350.57h4.35v4.12h-4.35zM90.40 386.00h4.35v4.12h-4.35zM90.40 390.07h4.35v4.12h-4.35zM127.70 433.65h4.35v4.12h-4.35zM202.40 366.25h4.35v4.12h-4.35z"/>
<path fill="#00c7ff" d="M86.10 287.06h4.35v4.12h-4.35zM90.40 287.06h4.35v4.12h-4.35zM389.80 267.33h4.35v4.12h-4.35zM402.70 267.33h4.35v4.12h-4.35zM477.30 287.06h4.35v4.12h-4.35zM481.60 287.06h4.35v4.12h-4.35zM485.90 287.06h4.35v4.12h-4.35zM132.00 346.50h4.35v4.12h-4.35zM132.00 350.57h4.35v4.12h-4.35zM127.70 358.73h4.35v4.12h-4.35zM148.50 346.50h4.35v4.12h-4.35zM86.10 378.48h4.35v4.12h-4.35zM81.80 398.23h4.35v4.12h-4.35zM127.70 386.00h4.35v4.12h-4.35zM132.00 386.00h4.35v4.12h-4.35zM123.40 394.15h4.35v4.12h-4.35zM111.20 409.82h4.35v4.12h-4.35zM132.00 409.82h4.35v4.12h-4.35zM123.40 413.90h4.35v4.12h-4.35zM102.60 425.50h4.35v4.12h-4.35zM102.60 429.57h4.35v4.12h-4.35zM106.90 429.57h4.35v4.12h-4.35zM202.40 374.40h4.35v4.12h-4.35zM181.60 386.00h4.35v4.12h-4.35zM181.60 390.07h4.35v4.12h-4.35zM185.90 390.07h4.35v4.12h-4.35zM190.20 390.07h4.35v4.12h-4.35zM264.80 417.98h4.35v4.12h-4.35zM460.80 390.07h4.35v4.12h-4.35zM452.20 394.15h4.35v4.12h-4.35zM460.80 398.23h4.35v4.12h-4.35zM465.10 398.23h4.35v4.12h-4.35zM473.00 386.00h4.35v4.12h-4.35zM477.30 386.00h4.35v4.12h-4.35zM481.60 390.07h4.35v4.12h-4.35zM473.00 394.15h4.35v4.12h-4.35zM477.30 394.15h4.35v4.12h-4.35zM460.80 405.75h4.35v4.12h-4.35zM452.20 417.98h4.35v4.12h-4.35zM477.30 409.82h4.35v4.12h-4.35z"/>
<path fill="#00d1ff" d="M86.10 295.21h4.35v4.12h-4.35zM127.70 346.50h4.35v4.12h-4.35zM132.00 358.73h4.35v4.12h-4.35zM77.50 366.25h4.35v4.12h-4.35zM81.80 374.40h4.35v4.12h-4.35zM106.90 370.32h4.35v4.12h-4.35zM106.90 374.40h4.35v4.12h-4.35zM111.20 390.07h4.35v4.12h-4.35zM127.70 390.07h4.35v4.12h-4.35zM132.00 390.07h4.35v4.12h-4.35zM127.70 398.23h4.35v4.12h-4.35zM106.90 409.82h4.35v4.12h-4.35zM102.60 413.90h4.35v4.12h-4.35zM111.20 417.98h4.35v4.12h-4.35zM119.10 409.82h4.35v4.12h-4.35zM148.50 413.90h4.35v4.12h-4.35zM98.30 433.65h4.35v4.12h-4.35zM111.20 433.65h4.35v4.12h-4.35zM106.90 437.73h4.35v4.12h-4.35zM190.20 386.00h4.35v4.12h-4.35zM211.00 390.07h4.35v4.12h-4.35zM452.20 386.00h4.35v4.12h-4.35zM456.50 386.00h4.35v4.12h-4.35zM465.10 386.00h4.35v4.12h-4.35zM456.50 390.07h4.35v4.12h-4.35zM485.90 394.15h4.35v4.12h-4.35zM465.10 409.82h4.35v4.12h-4.35zM481.60 405.75h4.35v4.12h-4.35zM481.60 417.98h4.35v4.12h-4.35z"/>
<path fill="#e6ff10" d="M223.20 247.60h4.35v4.12h-4.35zM236.10 255.75h4.35v4.12h-4.35zM181.60 267.33h4.35v4.12h-4.35zM190.20 267.33h4.35v4.12h-4.35zM215.30 267.33h4.35v4.12h-4.35zM227.50 271.40h4.35v4.12h-4.35zM256.90 275.48h4.35v4.12h-4.35zM248.30 279.56h4.35v4.12h-4.35zM190.20 291.13h4.35v4.12h-4.35zM215.30 291.13h4.35v4.12h-4.35zM202.40 295.21h4.35v4.12h-4.35zM227.50 291.13h4.35v4.12h-4.35zM244.00 287.06h4.35v4.12h-4.35zM248.30 291.13h4.35v4.12h-4.35zM244.00 299.29h4.35v4.12h-4.35zM256.90 299.29h4.35v4.12h-4.35zM202.40 314.94h4.35v4.12h-4.35zM256.90 314.94h4.35v4.12h-4.35zM269.10 306.79h4.35v4.12h-4.35zM269.10 314.94h4.35v4.12h-4.35zM331.60 247.60h4.35v4.12h-4.35zM335.90 251.67h4.35v4.12h-4.35zM327.30 255.75h4.35v4.12h-4.35zM340.20 255.75h4.35v4.12h-4.35zM331.60 259.82h4.35v4.12h-4.35zM298.60 271.40h4.35v4.12h-4.35zM285.70 275.48h4.35v4.12h-4.35zM356.70 267.33h4.35v4.12h-4.35zM361.00 267.33h4.35v4.12h-4.35zM352.40 275.48h4.35v4.12h-4.35zM352.40 279.56h4.35v4.12h-4.35zM361.00 279.56h4.35v4.12h-4.35zM298.60 291.13h4.35v4.12h-4.35zM285.70 295.21h4.35v4.12h-4.35zM290.00 295.21h4.35v4.12h-4.35zM290.00 299.29h4.35v4.12h-4.35zM319.40 291.13h4.35v4.12h-4.35zM331.60 291.13h4.35v4.12h-4.35zM373.20 287.06h4.35v4.12h-4.35zM373.20 295.21h4.35v4.12h-4.35zM377.50 299.29h4.35v4.12h-4.35zM352.40 306.79h4.35v4.12h-4.35zM356.70 306.79h4.35v4.12h-4.35zM348.10 310.86h4.35v4.12h-4.35zM356.70 310.86h4.35v4.12h-4.35zM352.40 314.94h4.35v4.12h-4.35zM377.50 314.94h4.35v4.12h-4.35zM306.50 326.52h4.35v4.12h-4.35zM315.10 326.52h4.35v4.12h-4.35zM315.10 330.59h4.35v4.12h-4.35zM310.80 338.75h4.35v4.12h-4.35z"/>
<path fill="#ffe300" d="M236.10 251.67h4.35v4.12h-4.35zM202.40 279.56h4.35v4.12h-4.35zM236.10 279.56h4.35v4.12h-4.35zM256.90 306.79h4.35v4.12h-4.35zM327.30 251.67h4.35v4.12h-4.35zM331.60 255.75h4.35v4.12h-4.35zM356.70 271.40h4.35v4.12h-4.35zM356.70 287.06h4.35v4.12h-4.35zM348.10 319.01h4.35v4.12h-4.35z"/>
<path fill="#ffd900" d="M231.80 255.75h4.35v4.12h-4.35zM256.90 255.75h4.35v4.12h-4.35zM185.90 267.33h4.35v4.12h-4.35zM215.30 271.40h4.35v4.12h-4.35zM206.70 287.06h4.35v4.12h-4.35zM264.80 291.13h4.35v4.12h-4.35zM277.70 291.13h4.35v4.12h-4.35zM264.80 299.29h4.35v4.12h-4.35zM335.90 255.75h4.35v4.12h-4.35zM327.30 259.82h4.35v4.12h-4.35zM356.70 291.13h4.35v4.12h-4.35zM368.90 295.21h4.35v4.12h-4.35zM315.10 366.25h4.35v4.12h-4.35z"/>
<path fill="#ffaa00" d="M269.10 287.06h4.35v4.12h-4.35zM273.40 291.13h4.35v4.12h-4.35z"/>
<path fill="#ffbd00" d="M277.70 287.06h4.35v4.12h-4.35zM273.40 299.29h4.35v4.12h-4.35zM352.40 287.06h4.35v4.12h-4.35z"/>
<path fill="#ffd000" d="M269.10 291.13h4.35v4.12h-4.35zM269.10 295.21h4.35v4.12h-4.35zM277.70 299.29h4.35v4.12h-4.35zM340.20 251.67h4.35v4.12h-4.35z"/>
<path fill="#ff7b00" d="M285.70 287.06h4.35v4.12h-4.35zM348.10 291.13h4.35v4.12h-4.35zM348.10 295.21h4.35v4.12h-4.35zM352.40 295.21h4.35v4.12h-4.35z"/>
<path fill="#ff8e00" d="M361.00 287.06h4.35v4.12h-4.35z"/>
<path fill="#ff9700" d="M361.00 291.13h4.35v4.12h-4.35z"/>
<path fill="#00a8ff" d="M123.40 346.50h4.35v4.12h-4.35zM90.40 394.15h4.35v4.12h-4.35zM77.50 398.23h4.35v4.12h-4.35zM98.30 405.75h4.35v4.12h-4.35zM111.20 425.50h4.35v4.12h-4.35zM119.10 429.57h4.35v4.12h-4.35zM132.00 429.57h4.35v4.12h-4.35zM132.00 437.73h4.35v4.12h-4.35zM485.90 390.07h4.35v4.12h-4.35z"/>
<path fill="#00bdff" d="M90.40 378.48h4.35v4.12h-4.35zM98.30 374.40h4.35v4.12h-4.35zM111.20 374.40h4.35v4.12h-4.35zM111.20 378.48h4.35v4.12h-4.35zM98.30 390.07h4.35v4.12h-4.35zM102.60 394.15h4.35v4.12h-4.35zM98.30 398.23h4.35v4.12h-4.35zM119.10 398.23h4.35v4.12h-4.35zM123.40 398.23h4.35v4.12h-4.35zM98.30 413.90h4.35v4.12h-4.35zM106.90 413.90h4.35v4.12h-4.35zM111.20 413.90h4.35v4.12h-4.35zM98.30 417.98h4.35v4.12h-4.35zM106.90 417.98h4.35v4.12h-4.35zM127.70 405.75h4.35v4.12h-4.35zM111.20 437.73h4.35v4.12h-4.35zM127.70 425.50h4.35v4.12h-4.35zM132.00 425.50h4.35v4.12h-4.35zM127.70 429.57h4.35v4.12h-4.35zM119.10 433.65h4.35v4.12h-4.35zM473.00 390.07h4.35v4.12h-4.35zM481.60 394.15h4.35v4.12h-4.35z"/>
<path fill="#008aff" d="M106.90 366.25h4.35v4.12h-4.35zM86.10 386.00h4.35v4.12h-4.35zM132.00 433.65h4.35v4.12h-4.35zM194.50 394.15h4.35v4.12h-4.35zM485.90 386.00h4.35v4.12h-4.35z"/>
<path fill="#0075ff" d="M98.30 370.32h4.35v4.12h-4.35zM86.10 394.15h4.35v4.12h-4.35zM185.90 398.23h4.35v4.12h-4.35z"/>
<path fill="#0094ff" d="M77.50 390.07h4.35v4.12h-4.35zM86.10 390.07h4.35v4.12h-4.35zM102.60 405.75h4.35v4.12h-4.35zM111.20 405.75h4.35v4.12h-4.35zM123.40 417.98h4.35v4.12h-4.35zM119.10 437.73h4.35v4.12h-4.35zM456.50 417.98h4.35v4.12h-4.35z"/>
<path fill="#004cff" d="M194.50 398.23h4.35v4.12h-4.35zM340.20 417.98h4.35v4.12h-4.35z"/>
<rect x="119.10" y="34.70" width="17.20" height="16.30" rx="0.45" fill="none" stroke="#262626" stroke-width="1.0"/>
<rect x="139.90" y="34.70" width="17.20" height="16.30" rx="0.45" fill="none" stroke="#262626" stroke-width="1.0"/>
<rect x="77.50" y="54.55" width="17.20" height="16.30" rx="0.45" fill="none" stroke="#262626" stroke-width="1.0"/>
<rect x="98.30" y="54.55" width="17.20" height="16.30" rx="0.45" fill="none" stroke="#262626" stroke-width="1.0"/>
<rect x="119.10" y="54.55" width="17.20" height="16.30" rx="0.45" fill="none" stroke="#262626" stroke-width="1.0"/>
<rect x="139.90" y="54.55" width="17.20" height="16.30" rx="0.45" fill="none" stroke="#262626" stroke-width="1.0"/>
<rect x="77.50" y="74.40" width="17.20" height="16.30" rx="0.45" fill="none" stroke="#262626" stroke-width="1.0"/>
<rect x="98.30" y="74.40" width="17.20" height="16.30" rx="0.45" fill="none" stroke="#262626" stroke-width="1.0"/>
<rect x="119.10" y="74.40" width="17.20" height="16.30" rx="0.45" fill="none" stroke="#262626" stroke-width="1.0"/>
<rect x="139.90" y="74.40" width="17.20" height="16.30" rx="0.45" fill="none" stroke="#262626" stroke-width="1.0"/>
<rect x="160.70" y="74.40" width="17.20" height="16.30" rx="0.45" fill="none" stroke="#262626" stroke-width="1.0"/>
<rect x="98.30" y="94.25" width="17.20" height="16.30" rx="0.45" fill="none" stroke="#262626" stroke-width="1.0"/>
<rect x="119.10" y="94.25" width="17.20" height="16.30" rx="0.45" fill="none" stroke="#262626" stroke-width="1.0"/>
<rect x="139.90" y="94.25" width="17.20" height="16.30" rx="0.45" fill="none" stroke="#262626" stroke-width="1.0"/>
<rect x="160.70" y="94.25" width="17.20" height="16.30" rx="0.45" fill="none" stroke="#262626" stroke-width="1.0"/>
<rect x="98.30" y="114.10" width="17.20" height="16.30" rx="0.45" fill="none" stroke="#262626" stroke-width="1.0"/>
<rect x="119.10" y="114.10" width="17.20" height="16.30" rx="0.45" fill="none" stroke="#262626" stroke-width="1.0"/>
<rect x="223.20" y="34.70" width="17.20" height="16.30" rx="0.45" fill="none" stroke="#262626" stroke-width="1.0"/>
<rect x="244.00" y="34.70" width="17.20" height="16.30" rx="0.45" fill="none" stroke="#262626" stroke-width="1.0"/>
<rect x="181.60" y="54.55" width="17.20" height="16.30" rx="0.45" fill="none" stroke="#262626" stroke-width="1.0"/>
<rect x="202.40" y="54.55" width="17.20" height="16.30" rx="0.45" fill="none" stroke="#262626" stroke-width="1.0"/>
<rect x="223.20" y="54.55" width="17.20" height="16.30" rx="0.45" fill="none" stroke="#262626" stroke-width="1.0"/>
<rect x="244.00" y="54.55" width="17.20" height="16.30" rx="0.45" fill="none" stroke="#262626" stroke-width="1.0"/>
<rect x="181.60" y="74.40" width="17.20" height="16.30" rx="0.45" fill="none" stroke="#262626" stroke-width="1.0"/>
<rect x="202.40" y="74.40" width="17.20" height="16.30" rx="0.45" fill="none" stroke="#262626" stroke-width="1.0"/>
<rect x="223.20" y="74.40" width="17.20" height="16.30" rx="0.45" fill="none" stroke="#262626" stroke-width="1.0"/>
<rect x="244.00" y="74.40" width="17.20" height="16.30" rx="0.45" fill="none" stroke="#262626" stroke-width="1.0"/>
<rect x="264.80" y="74.40" width="17.20" height="16.30" rx="0.45" fill="none" stroke="#262626" stroke-width="1.0"/>
<rect x="202.40" y="94.25" width="17.20" height="16.30" rx="0.45" fill="none" stroke="#262626" stroke-width="1.0"/>
<rect x="223.20" y="94.25" width="17.20" height="16.30" rx="0.45" fill="none" stroke="#262626" stroke-width="1.0"/>
<rect x="244.00" y="94.25" width="17.20" height="16.30" rx="0.45" fill="none" stroke="#262626" stroke-width="1.0"/>
<rect x="264.80" y="94.25" width="17.20" height="16.30" rx="0.45" fill="none" stroke="#262626" stroke-width="1.0"/>
<rect x="202.40" y="114.10" width="17.20" height="16.30" rx="0.45" fill="none" stroke="#262626" stroke-width="1.0"/>
<rect x="223.20" y="114.10" width="17.20" height="16.30" rx="0.45" fill="none" stroke="#262626" stroke-width="1.0"/>
<rect x="327.30" y="34.70" width="17.20" height="16.30" rx="0.45" fill="none" stroke="#262626" stroke-width="1.0"/>
<rect x="348.10" y="34.70" width="17.20" height="16.30" rx="0.45" fill="none" stroke="#262626" stroke-width="1.0"/>
<rect x="285.70" y="54.55" width="17.20" height="16.30" rx="0.45" fill="none" stroke="#262626" stroke-width="1.0"/>
<rect x="306.50" y="54.55" width="17.20" height="16.30" rx="0.45" fill="none" stroke="#262626" stroke-width="1.0"/>
<rect x="327.30" y="54.55" width="17.20" height="16.30" rx="0.45" fill="none" stroke="#262626" stroke-width="1.0"/>
<rect x="348.10" y="54.55" width="17.20" height="16.30" rx="0.45" fill="none" stroke="#262626" stroke-width="1.0"/>
<rect x="285.70" y="74.40" width="17.20" height="16.30" rx="0.45" fill="none" stroke="#262626" stroke-width="1.0"/>
<rect x="306.50" y="74.40" width="17.20" height="16.30" rx="0.45" fill="none" stroke="#262626" stroke-width="1.0"/>
<rect x="327.30" y="74.40" width="17.20" height="16.30" rx="0.45" fill="none" stroke="#262626" stroke-width="1.0"/>
<rect x="348.10" y="74.40" width="17.20" height="16.30" rx="0.45" fill="none" stroke="#262626" stroke-width="1.0"/>
<rect x="368.90" y="74.40" width="17.20" height="16.30" rx="0.45" fill="none" stroke="#262626" stroke-width="1.0"/>
<rect x="306.50" y="94.25" width="17.20" height="16.30" rx="0.45" fill="none" stroke="#262626" stroke-width="1.0"/>
<rect x="327.30" y="94.25" width="17.20" height="16.30" rx="0.45" fill="none" stroke="#262626" stroke-width="1.0"/>
<rect x="348.10" y="94.25" width="17.20" height="16.30" rx="0.45" fill="none" stroke="#262626" stroke-width="1.0"/>
<rect x="368.90" y="94.25" width="17.20" height="16.30" rx="0.45" fill="none" stroke="#262626" stroke-width="1.0"/>
<rect x="306.50" y="114.10" width="17.20" height="16.30" rx="0.45" fill="none" stroke="#262626" stroke-width="1.0"/>
<rect x="327.30" y="114.10" width="17.20" height="16.30" rx="0.45" fill="none" stroke="#262626" stroke-width="1.0"/>
<rect x="431.40" y="34.70" width="17.20" height="16.30" rx="0.45" fill="none" stroke="#262626" stroke-width="1.0"/>
<rect x="452.20" y="34.70" width="17.20" height="16.30" rx="0.45" fill="none" stroke="#262626" stroke-width="1.0"/>
<rect x="389.80" y="54.55" width="17.20" height="16.30" rx="0.45" fill="none" stroke="#262626" stroke-width="1.0"/>
<rect x="410.60" y="54.55" width="17.20" height="16.30" rx="0.45" fill="none" stroke="#262626" stroke-width="1.0"/>
<rect x="431.40" y="54.55" width="17.20" height="16.30" rx="0.45" fill="none" stroke="#262626" stroke-width="1.0"/>
<rect x="452.20" y="54.55" width="17.20" height="16.30" rx="0.45" fill="none" stroke="#262626" stroke-width="1.0"/>
<rect x="389.80" y="74.40" width="17.20" height="16.30" rx="0.45" fill="none" stroke="#262626" stroke-width="1.0"/>
<rect x="410.60" y="74.40" width="17.20" height="16.30" rx="0.45" fill="none" stroke="#262626" stroke-width="1.0"/>
<rect x="431.40" y="74.40" width="17.20" height="16.30" rx="0.45" fill="none" stroke="#262626" stroke-width="1.0"/>
<rect x="452.20" y="74.40" width="17.20" height="16.30" rx="0.45" fill="none" stroke="#262626" stroke-width="1.0"/>
<rect x="473.00" y="74.40" width="17.20" height="16.30" rx="0.45" fill="none" stroke="#262626" stroke-width="1.0"/>
<rect x="410.60" y="94.25" width="17.20" height="16.30" rx="0.45" fill="none" stroke="#262626" stroke-width="1.0"/>
<rect x="431.40" y="94.25" width="17.20" height="16.30" rx="0.45" fill="none" stroke="#262626" stroke-width="1.0"/>
<rect x="452.20" y="94.25" width="17.20" height="16.30" rx="0.45" fill="none" stroke="#262626" stroke-width="1.0"/>
<rect x="473.00" y="94.25" width="17.20" height="16.30" rx="0.45" fill="none" stroke="#262626" stroke-width="1.0"/>
<rect x="410.60" y="114.10" width="17.20" height="16.30" rx="0.45" fill="none" stroke="#262626" stroke-width="1.0"/>
<rect x="431.40" y="114.10" width="17.20" height="16.30" rx="0.45" fill="none" stroke="#262626" stroke-width="1.0"/>
<rect x="119.10" y="133.90" width="17.20" height="16.30" rx="0.45" fill="none" stroke="#262626" stroke-width="1.0"/>
<rect x="139.90" y="133.90" width="17.20" height="16.30" rx="0.45" fill="none" stroke="#262626" stroke-width="1.0"/>
<rect x="77.50" y="153.68" width="17.20" height="16.30" rx="0.45" fill="none" stroke="#262626" stroke-width="1.0"/>
<rect x="98.30" y="153.68" width="17.20" height="16.30" rx="0.45" fill="none" stroke="#262626" stroke-width="1.0"/>
<rect x="119.10" y="153.68" width="17.20" height="16.30" rx="0.45" fill="none" stroke="#262626" stroke-width="1.0"/>
<rect x="139.90" y="153.68" width="17.20" height="16.30" rx="0.45" fill="none" stroke="#262626" stroke-width="1.0"/>
<rect x="77.50" y="173.46" width="17.20" height="16.30" rx="0.45" fill="none" stroke="#262626" stroke-width="1.0"/>
<rect x="98.30" y="173.46" width="17.20" height="16.30" rx="0.45" fill="none" stroke="#262626" stroke-width="1.0"/>
<rect x="119.10" y="173.46" width="17.20" height="16.30" rx="0.45" fill="none" stroke="#262626" stroke-width="1.0"/>
<rect x="139.90" y="173.46" width="17.20" height="16.30" rx="0.45" fill="none" stroke="#262626" stroke-width="1.0"/>
<rect x="160.70" y="173.46" width="17.20" height="16.30" rx="0.45" fill="none" stroke="#262626" stroke-width="1.0"/>
<rect x="98.30" y="193.24" width="17.20" height="16.30" rx="0.45" fill="none" stroke="#262626" stroke-width="1.0"/>
<rect x="119.10" y="193.24" width="17.20" height="16.30" rx="0.45" fill="none" stroke="#262626" stroke-width="1.0"/>
<rect x="139.90" y="193.24" width="17.20" height="16.30" rx="0.45" fill="none" stroke="#262626" stroke-width="1.0"/>
<rect x="160.70" y="193.24" width="17.20" height="16.30" rx="0.45" fill="none" stroke="#262626" stroke-width="1.0"/>
<rect x="98.30" y="213.02" width="17.20" height="16.30" rx="0.45" fill="none" stroke="#262626" stroke-width="1.0"/>
<rect x="119.10" y="213.02" width="17.20" height="16.30" rx="0.45" fill="none" stroke="#262626" stroke-width="1.0"/>
<rect x="223.20" y="133.90" width="17.20" height="16.30" rx="0.45" fill="none" stroke="#262626" stroke-width="1.0"/>
<rect x="244.00" y="133.90" width="17.20" height="16.30" rx="0.45" fill="none" stroke="#262626" stroke-width="1.0"/>
<rect x="181.60" y="153.68" width="17.20" height="16.30" rx="0.45" fill="none" stroke="#262626" stroke-width="1.0"/>
<rect x="202.40" y="153.68" width="17.20" height="16.30" rx="0.45" fill="none" stroke="#262626" stroke-width="1.0"/>
<rect x="223.20" y="153.68" width="17.20" height="16.30" rx="0.45" fill="none" stroke="#262626" stroke-width="1.0"/>
<rect x="244.00" y="153.68" width="17.20" height="16.30" rx="0.45" fill="none" stroke="#262626" stroke-width="1.0"/>
<rect x="181.60" y="173.46" width="17.20" height="16.30" rx="0.45" fill="none" stroke="#262626" stroke-width="1.0"/>
<rect x="202.40" y="173.46" width="17.20" height="16.30" rx="0.45" fill="none" stroke="#262626" stroke-width="1.0"/>
<rect x="223.20" y="173.46" width="17.20" height="16.30" rx="0.45" fill="none" stroke="#262626" stroke-width="1.0"/>
<rect x="244.00" y="173.46" width="17.20" height="16.30" rx="0.45" fill="none" stroke="#262626" stroke-width="1.0"/>
<rect x="264.80" y="173.46" width="17.20" height="16.30" rx="0.45" fill="none" stroke="#262626" stroke-width="1.0"/>
<rect x="202.40" y="193.24" width="17.20" height="16.30" rx="0.45" fill="none" stroke="#262626" stroke-width="1.0"/>
<rect x="223.20" y="193.24" width="17.20" height="16.30" rx="0.45" fill="none" stroke="#262626" stroke-width="1.0"/>
<rect x="244.00" y="193.24" width="17.20" height="16.30" rx="0.45" fill="none" stroke="#262626" stroke-width="1.0"/>
<rect x="264.80" y="193.24" width="17.20" height="16.30" rx="0.45" fill="none" stroke="#262626" stroke-width="1.0"/>
<rect x="202.40" y="213.02" width="17.20" height="16.30" rx="0.45" fill="none" stroke="#262626" stroke-width="1.0"/>
<rect x="223.20" y="213.02" width="17.20" height="16.30" rx="0.45" fill="none" stroke="#262626" stroke-width="1.0"/>
<rect x="327.30" y="133.90" width="17.20" height="16.30" rx="0.45" fill="none" stroke="#262626" stroke-width="1.0"/>
<rect x="348.10" y="133.90" width="17.20" height="16.30" rx="0.45" fill="none" stroke="#262626" stroke-width="1.0"/>
<rect x="285.70" y="153.68" width="17.20" height="16.30" rx="0.45" fill="none" stroke="#262626" stroke-width="1.0"/>
<rect x="306.50" y="153.68" width="17.20" height="16.30" rx="0.45" fill="none" stroke="#262626" stroke-width="1.0"/>
<rect x="327.30" y="153.68" width="17.20" height="16.30" rx="0.45" fill="none" stroke="#262626" stroke-width="1.0"/>
<rect x="348.10" y="153.68" width="17.20" height="16.30" rx="0.45" fill="none" stroke="#262626" stroke-width="1.0"/>
<rect x="285.70" y="173.46" width="17.20" height="16.30" rx="0.45" fill="none" stroke="#262626" stroke-width="1.0"/>
<rect x="306.50" y="173.46" width="17.20" height="16.30" rx="0.45" fill="none" stroke="#262626" stroke-width="1.0"/>
<rect x="327.30" y="173.46" width="17.20" height="16.30" rx="0.45" fill="none" stroke="#262626" stroke-width="1.0"/>
<rect x="348.10" y="173.46" width="17.20" height="16.30" rx="0.45" fill="none" stroke="#262626" stroke-width="1.0"/>
<rect x="368.90" y="173.46" width="17.20" height="16.30" rx="0.45" fill="none" stroke="#262626" stroke-width="1.0"/>
<rect x="306.50" y="193.24" width="17.20" height="16.30" rx="0.45" fill="none" stroke="#262626" stroke-width="1.0"/>
<rect x="327.30" y="193.24" width="17.20" height="16.30" rx="0.45" fill="none" stroke="#262626" stroke-width="1.0"/>
<rect x="348.10" y="193.24" width="17.20" height="16.30" rx="0.45" fill="none" stroke="#262626" stroke-width="1.0"/>
<rect x="368.90" y="193.24" width="17.20" height="16.30" rx="0.45" fill="none" stroke="#262626" stroke-width="1.0"/>
<rect x="306.50" y="213.02" width="17.20" height="16.30" rx="0.45" fill="none" stroke="#262626" stroke-width="1.0"/>
<rect x="327.30" y="213.02" width="17.20" height="16.30" rx="0.45" fill="none" stroke="#262626" stroke-width="1.0"/>
<rect x="431.40" y="133.90" width="17.20" height="16.30" rx="0.45" fill="none" stroke="#262626" stroke-width="1.0"/>
<rect x="452.20" y="133.90" width="17.20" height="16.30" rx="0.45" fill="none" stroke="#262626" stroke-width="1.0"/>
<rect x="389.80" y="153.68" width="17.20" height="16.30" rx="0.45" fill="none" stroke="#262626" stroke-width="1.0"/>
<rect x="410.60" y="153.68" width="17.20" height="16.30" rx="0.45" fill="none" stroke="#262626" stroke-width="1.0"/>
<rect x="431.40" y="153.68" width="17.20" height="16.30" rx="0.45" fill="none" stroke="#262626" stroke-width="1.0"/>
<rect x="452.20" y="153.68" width="17.20" height="16.30" rx="0.45" fill="none" stroke="#262626" stroke-width="1.0"/>
<rect x="389.80" y="173.46" width="17.20" height="16.30" rx="0.45" fill="none" stroke="#262626" stroke-width="1.0"/>
<rect x="410.60" y="173.46" width="17.20" height="16.30" rx="0.45" fill="none" stroke="#262626" stroke-width="1.0"/>
<rect x="431.40" y="173.46" width="17.20" height="16.30" rx="0.45" fill="none" stroke="#262626" stroke-width="1.0"/>
<rect x="452.20" y="173.46" width="17.20" height="16.30" rx="0.45" fill="none" stroke="#262626" stroke-width="1.0"/>
<rect x="473.00" y="173.46" width="17.20" height="16.30" rx="0.45" fill="none" stroke="#262626" stroke-width="1.0"/>
<rect x="410.60" y="193.24" width="17.20" height="16.30" rx="0.45" fill="none" stroke="#262626" stroke-width="1.0"/>
<rect x="431.40" y="193.24" width="17.20" height="16.30" rx="0.45" fill="none" stroke="#262626" stroke-width="1.0"/>
<rect x="452.20" y="193.24" width="17.20" height="16.30" rx="0.45" fill="none" stroke="#262626" stroke-width="1.0"/>
<rect x="473.00" y="193.24" width="17.20" height="16.30" rx="0.45" fill="none" stroke="#262626" stroke-width="1.0"/>
<rect x="410.60" y="213.02" width="17.20" height="16.30" rx="0.45" fill="none" stroke="#262626" stroke-width="1.0"/>
<rect x="431.40" y="213.02" width="17.20" height="16.30" rx="0.45" fill="none" stroke="#262626" stroke-width="1.0"/>
<rect x="119.10" y="247.60" width="17.20" height="16.30" rx="0.45" fill="none" stroke="#262626" stroke-width="1.0"/>
<rect x="139.90" y="247.60" width="17.20" height="16.30" rx="0.45" fill="none" stroke="#262626" stroke-width="1.0"/>
<rect x="77.50" y="267.33" width="17.20" height="16.30" rx="0.45" fill="none" stroke="#262626" stroke-width="1.0"/>
<rect x="98.30" y="267.33" width="17.20" height="16.30" rx="0.45" fill="none" stroke="#262626" stroke-width="1.0"/>
<rect x="119.10" y="267.33" width="17.20" height="16.30" rx="0.45" fill="none" stroke="#262626" stroke-width="1.0"/>
<rect x="139.90" y="267.33" width="17.20" height="16.30" rx="0.45" fill="none" stroke="#262626" stroke-width="1.0"/>
<rect x="77.50" y="287.06" width="17.20" height="16.30" rx="0.45" fill="none" stroke="#262626" stroke-width="1.0"/>
<rect x="98.30" y="287.06" width="17.20" height="16.30" rx="0.45" fill="none" stroke="#262626" stroke-width="1.0"/>
<rect x="119.10" y="287.06" width="17.20" height="16.30" rx="0.45" fill="none" stroke="#262626" stroke-width="1.0"/>
<rect x="139.90" y="287.06" width="17.20" height="16.30" rx="0.45" fill="none" stroke="#262626" stroke-width="1.0"/>
<rect x="160.70" y="287.06" width="17.20" height="16.30" rx="0.45" fill="none" stroke="#262626" stroke-width="1.0"/>
<rect x="98.30" y="306.79" width="17.20" height="16.30" rx="0.45" fill="none" stroke="#262626" stroke-width="1.0"/>
<rect x="119.10" y="306.79" width="17.20" height="16.30" rx="0.45" fill="none" stroke="#262626" stroke-width="1.0"/>
<rect x="139.90" y="306.79" width="17.20" height="16.30" rx="0.45" fill="none" stroke="#262626" stroke-width="1.0"/>
<rect x="160.70" y="306.79" width="17.20" height="16.30" rx="0.45" fill="none" stroke="#262626" stroke-width="1.0"/>
<rect x="98.30" y="326.52" width="17.20" height="16.30" rx="0.45" fill="none" stroke="#262626" stroke-width="1.0"/>
<rect x="119.10" y="326.52" width="17.20" height="16.30" rx="0.45" fill="none" stroke="#262626" stroke-width="1.0"/>
<rect x="223.20" y="247.60" width="17.20" height="16.30" rx="0.45" fill="none" stroke="#262626" stroke-width="1.0"/>
<rect x="244.00" y="247.60" width="17.20" height="16.30" rx="0.45" fill="none" stroke="#262626" stroke-width="1.0"/>
<rect x="181.60" y="267.33" width="17.20" height="16.30" rx="0.45" fill="none" stroke="#262626" stroke-width="1.0"/>
<rect x="202.40" y="267.33" width="17.20" height="16.30" rx="0.45" fill="none" stroke="#262626" stroke-width="1.0"/>
<rect x="223.20" y="267.33" width="17.20" height="16.30" rx="0.45" fill="none" stroke="#262626" stroke-width="1.0"/>
<rect x="244.00" y="267.33" width="17.20" height="16.30" rx="0.45" fill="none" stroke="#262626" stroke-width="1.0"/>
<rect x="181.60" y="287.06" width="17.20" height="16.30" rx="0.45" fill="none" stroke="#262626" stroke-width="1.0"/>
<rect x="202.40" y="287.06" width="17.20" height="16.30" rx="0.45" fill="none" stroke="#262626" stroke-width="1.0"/>
<rect x="223.20" y="287.06" width="17.20" height="16.30" rx="0.45" fill="none" stroke="#262626" stroke-width="1.0"/>
<rect x="244.00" y="287.06" width="17.20" height="16.30" rx="0.45" fill="none" stroke="#262626" stroke-width="1.0"/>
<rect x="264.80" y="287.06" width="17.20" height="16.30" rx="0.45" fill="none" stroke="#262626" stroke-width="1.0"/>
<rect x="202.40" y="306.79" width="17.20" height="16.30" rx="0.45" fill="none" stroke="#262626" stroke-width="1.0"/>
<rect x="223.20" y="306.79" width="17.20" height="16.30" rx="0.45" fill="none" stroke="#262626" stroke-width="1.0"/>
<rect x="244.00" y="306.79" width="17.20" height="16.30" rx="0.45" fill="none" stroke="#262626" stroke-width="1.0"/>
<rect x="264.80" y="306.79" width="17.20" height="16.30" rx="0.45" fill="none" stroke="#262626" stroke-width="1.0"/>
<rect x="202.40" y="326.52" width="17.20" height="16.30" rx="0.45" fill="none" stroke="#262626" stroke-width="1.0"/>
<rect x="223.20" y="326.52" width="17.20" height="16.30" rx="0.45" fill="none" stroke="#262626" stroke-width="1.0"/>
<rect x="327.30" y="247.60" width="17.20" height="16.30" rx="0.45" fill="none" stroke="#262626" stroke-width="1.0"/>
<rect x="348.10" y="247.60" width="17.20" height="16.30" rx="0.45" fill="none" stroke="#262626" stroke-width="1.0"/>
<rect x="285.70" y="267.33" width="17.20" height="16.30" rx="0.45" fill="none" stroke="#262626" stroke-width="1.0"/>
<rect x="306.50" y="267.33" width="17.20" height="16.30" rx="0.45" fill="none" stroke="#262626" stroke-width="1.0"/>
<rect x="327.30" y="267.33" width="17.20" height="16.30" rx="0.45" fill="none" stroke="#262626" stroke-width="1.0"/>
<rect x="348.10" y="267.33" width="17.20" height="16.30" rx="0.45" fill="none" stroke="#262626" stroke-width="1.0"/>
<rect x="285.70" y="287.06" width="17.20" height="16.30" rx="0.45" fill="none" stroke="#262626" stroke-width="1.0"/>
<rect x="306.50" y="287.06" width="17.20" height="16.30" rx="0.45" fill="none" stroke="#262626" stroke-width="1.0"/>
<rect x="327.30" y="287.06" width="17.20" height="16.30" rx="0.45" fill="none" stroke="#262626" stroke-width="1.0"/>
<rect x="348.10" y="287.06" width="17.20" height="16.30" rx="0.45" fill="none" stroke="#262626" stroke-width="1.0"/>
<rect x="368.90" y="287.06" width="17.20" height="16.30" rx="0.45" fill="none" stroke="#262626" stroke-width="1.0"/>
<rect x="306.50" y="306.79" width="17.20" height="16.30" rx="0.45" fill="none" stroke="#262626" stroke-width="1.0"/>
<rect x="327.30" y="306.79" width="17.20" height="16.30" rx="0.45" fill="none" stroke="#262626" stroke-width="1.0"/>
<rect x="348.10" y="306.79" width="17.20" height="16.30" rx="0.45" fill="none" stroke="#262626" stroke-width="1.0"/>
<rect x="368.90" y="306.79" width="17.20" height="16.30" rx="0.45" fill="none" stroke="#262626" stroke-width="1.0"/>
<rect x="306.50" y="326.52" width="17.20" height="16.30" rx="0.45" fill="none" stroke="#262626" stroke-width="1.0"/>
<rect x="327.30" y="326.52" width="17.20" height="16.30" rx="0.45" fill="none" stroke="#262626" stroke-width="1.0"/>
<rect x="431.40" y="247.60" width="17.20" height="16.30" rx="0.45" fill="none" stroke="#262626" stroke-width="1.0"/>
<rect x="452.20" y="247.60" width="17.20" height="16.30" rx="0.45" fill="none" stroke="#262626" stroke-width="1.0"/>
<rect x="389.80" y="267.33" width="17.20" height="16.30" rx="0.45" fill="none" stroke="#262626" stroke-width="1.0"/>
<rect x="410.60" y="267.33" width="17.20" height="16.30" rx="0.45" fill="none" stroke="#262626" stroke-width="1.0"/>
<rect x="431.40" y="267.33" width="17.20" height="16.30" rx="0.45" fill="none" stroke="#262626" stroke-width="1.0"/>
<rect x="452.20" y="267.33" width="17.20" height="16.30" rx="0.45" fill="none" stroke="#262626" stroke-width="1.0"/>
<rect x="389.80" y="287.06" width="17.20" height="16.30" rx="0.45" fill="none" stroke="#262626" stroke-width="1.0"/>
<rect x="410.60" y="287.06" width="17.20" height="16.30" rx="0.45" fill="none" stroke="#262626" stroke-width="1.0"/>
<rect x="431.40" y="287.06" width="17.20" height="16.30" rx="0.45" fill="none" stroke="#262626" stroke-width="1.0"/>
<rect x="452.20" y="287.06" width="17.20" height="16.30" rx="0.45" fill="none" stroke="#262626" stroke-width="1.0"/>
<rect x="473.00" y="287.06" width="17.20" height="16.30" rx="0.45" fill="none" stroke="#262626" stroke-width="1.0"/>
<rect x="410.60" y="306.79" width="17.20" height="16.30" rx="0.45" fill="none" stroke="#262626" stroke-width="1.0"/>
<rect x="431.40" y="306.79" width="17.20" height="16.30" rx="0.45" fill="none" stroke="#262626" stroke-width="1.0"/>
<rect x="452.20" y="306.79" width="17.20" height="16.30" rx="0.45" fill="none" stroke="#262626" stroke-width="1.0"/>
<rect x="473.00" y="306.79" width="17.20" height="16.30" rx="0.45" fill="none" stroke="#262626" stroke-width="1.0"/>
<rect x="410.60" y="326.52" width="17.20" height="16.30" rx="0.45" fill="none" stroke="#262626" stroke-width="1.0"/>
<rect x="431.40" y="326.52" width="17.20" height="16.30" rx="0.45" fill="none" stroke="#262626" stroke-width="1.0"/>
<rect x="119.10" y="346.50" width="17.20" height="16.30" rx="0.45" fill="none" stroke="#262626" stroke-width="1.0"/>
<rect x="139.90" y="346.50" width="17.20" height="16.30" rx="0.45" fill="none" stroke="#262626" stroke-width="1.0"/>
<rect x="77.50" y="366.25" width="17.20" height="16.30" rx="0.45" fill="none" stroke="#262626" stroke-width="1.0"/>
<rect x="98.30" y="366.25" width="17.20" height="16.30" rx="0.45" fill="none" stroke="#262626" stroke-width="1.0"/>
<rect x="119.10" y="366.25" width="17.20" height="16.30" rx="0.45" fill="none" stroke="#262626" stroke-width="1.0"/>
<rect x="139.90" y="366.25" width="17.20" height="16.30" rx="0.45" fill="none" stroke="#262626" stroke-width="1.0"/>
<rect x="77.50" y="386.00" width="17.20" height="16.30" rx="0.45" fill="none" stroke="#262626" stroke-width="1.0"/>
<rect x="98.30" y="386.00" width="17.20" height="16.30" rx="0.45" fill="none" stroke="#262626" stroke-width="1.0"/>
<rect x="119.10" y="386.00" width="17.20" height="16.30" rx="0.45" fill="none" stroke="#262626" stroke-width="1.0"/>
<rect x="139.90" y="386.00" width="17.20" height="16.30" rx="0.45" fill="none" stroke="#262626" stroke-width="1.0"/>
<rect x="160.70" y="386.00" width="17.20" height="16.30" rx="0.45" fill="none" stroke="#262626" stroke-width="1.0"/>
<rect x="98.30" y="405.75" width="17.20" height="16.30" rx="0.45" fill="none" stroke="#262626" stroke-width="1.0"/>
<rect x="119.10" y="405.75" width="17.20" height="16.30" rx="0.45" fill="none" stroke="#262626" stroke-width="1.0"/>
<rect x="139.90" y="405.75" width="17.20" height="16.30" rx="0.45" fill="none" stroke="#262626" stroke-width="1.0"/>
<rect x="160.70" y="405.75" width="17.20" height="16.30" rx="0.45" fill="none" stroke="#262626" stroke-width="1.0"/>
<rect x="98.30" y="425.50" width="17.20" height="16.30" rx="0.45" fill="none" stroke="#262626" stroke-width="1.0"/>
<rect x="119.10" y="425.50" width="17.20" height="16.30" rx="0.45" fill="none" stroke="#262626" stroke-width="1.0"/>
<rect x="223.20" y="346.50" width="17.20" height="16.30" rx="0.45" fill="none" stroke="#262626" stroke-width="1.0"/>
<rect x="244.00" y="346.50" width="17.20" height="16.30" rx="0.45" fill="none" stroke="#262626" stroke-width="1.0"/>
<rect x="181.60" y="366.25" width="17.20" height="16.30" rx="0.45" fill="none" stroke="#262626" stroke-width="1.0"/>
<rect x="202.40" y="366.25" width="17.20" height="16.30" rx="0.45" fill="none" stroke="#262626" stroke-width="1.0"/>
<rect x="223.20" y="366.25" width="17.20" height="16.30" rx="0.45" fill="none" stroke="#262626" stroke-width="1.0"/>
<rect x="244.00" y="366.25" width="17.20" height="16.30" rx="0.45" fill="none" stroke="#262626" stroke-width="1.0"/>
<rect x="181.60" y="386.00" width="17.20" height="16.30" rx="0.45" fill="none" stroke="#262626" stroke-width="1.0"/>
<rect x="202.40" y="386.00" width="17.20" height="16.30" rx="0.45" fill="none" stroke="#262626" stroke-width="1.0"/>
<rect x="223.20" y="386.00" width="17.20" height="16.30" rx="0.45" fill="none" stroke="#262626" stroke-width="1.0"/>
<rect x="244.00" y="386.00" width="17.20" height="16.30" rx="0.45" fill="none" stroke="#262626" stroke-width="1.0"/>
<rect x="264.80" y="386.00" width="17.20" height="16.30" rx="0.45" fill="none" stroke="#262626" stroke-width="1.0"/>
<rect x="202.40" y="405.75" width="17.20" height="16.30" rx="0.45" fill="none" stroke="#262626" stroke-width="1.0"/>
<rect x="223.20" y="405.75" width="17.20" height="16.30" rx="0.45" fill="none" stroke="#262626" stroke-width="1.0"/>
<rect x="244.00" y="405.75" width="17.20" height="16.30" rx="0.45" fill="none" stroke="#262626" stroke-width="1.0"/>
<rect x="264.80" y="405.75" width="17.20" height="16.30" rx="0.45" fill="none" stroke="#262626" stroke-width="1.0"/>
<rect x="202.40" y="425.50" width="17.20" height="16.30" rx="0.45" fill="none" stroke="#262626" stroke-width="1.0"/>
<rect x="223.20" y="425.50" width="17.20" height="16.30" rx="0.45" fill="none" stroke="#262626" stroke-width="1.0"/>
<rect x="327.30" y="346.50" width="17.20" height="16.30" rx="0.45" fill="none" stroke="#262626" stroke-width="1.0"/>
<rect x="348.10" y="346.50" width="17.20" height="16.30" rx="0.45" fill="none" stroke="#262626" stroke-width="1.0"/>
<rect x="285.70" y="366.25" width="17.20" height="16.30" rx="0.45" fill="none" stroke="#262626" stroke-width="1.0"/>
<rect x="306.50" y="366.25" width="17.20" height="16.30" rx="0.45" fill="none" stroke="#262626" stroke-width="1.0"/>
<rect x="327.30" y="366.25" width="17.20" height="16.30" rx="0.45" fill="none" stroke="#262626" stroke-width="1.0"/>
<rect x="348.10" y="366.25" width="17.20" height="16.30" rx="0.45" fill="none" stroke="#262626" stroke-width="1.0"/>
<rect x="285.70" y="386.00" width="17.20" height="16.30" rx="0.45" fill="none" stroke="#262626" stroke-width="1.0"/>
<rect x="306.50" y="386.00" width="17.20" height="16.30" rx="0.45" fill="none" stroke="#262626" stroke-width="1.0"/>
<rect x="327.30" y="386.00" width="17.20" height="16.30" rx="0.45" fill="none" stroke="#262626" stroke-width="1.0"/>
<rect x="348.10" y="386.00" width="17.20" height="16.30" rx="0.45" fill="none" stroke="#262626" stroke-width="1.0"/>
<rect x="368.90" y="386.00" width="17.20" height="16.30" rx="0.45" fill="none" stroke="#262626" stroke-width="1.0"/>
<rect x="306.50" y="405.75" width="17.20" height="16.30" rx="0.45" fill="none" stroke="#262626" stroke-width="1.0"/>
<rect x="327.30" y="405.75" width="17.20" height="16.30" rx="0.45" fill="none" stroke="#262626" stroke-width="1.0"/>
<rect x="348.10" y="405.75" width="17.20" height="16.30" rx="0.45" fill="none" stroke="#262626" stroke-width="1.0"/>
<rect x="368.90" y="405.75" width="17.20" height="16.30" rx="0.45" fill="none" stroke="#262626" stroke-width="1.0"/>
<rect x="306.50" y="425.50" width="17.20" height="16.30" rx="0.45" fill="none" stroke="#262626" stroke-width="1.0"/>
<rect x="327.30" y="425.50" width="17.20" height="16.30" rx="0.45" fill="none" stroke="#262626" stroke-width="1.0"/>
<rect x="431.40" y="346.50" width="17.20" height="16.30" rx="0.45" fill="none" stroke="#262626" stroke-width="1.0"/>
<rect x="452.20" y="346.50" width="17.20" height="16.30" rx="0.45" fill="none" stroke="#262626" stroke-width="1.0"/>
<rect x="389.80" y="366.25" width="17.20" height="16.30" rx="0.45" fill="none" stroke="#262626" stroke-width="1.0"/>
<rect x="410.60" y="366.25" width="17.20" height="16.30" rx="0.45" fill="none" stroke="#262626" stroke-width="1.0"/>
<rect x="431.40" y="366.25" width="17.20" height="16.30" rx="0.45" fill="none" stroke="#262626" stroke-width="1.0"/>
<rect x="452.20" y="366.25" width="17.20" height="16.30" rx="0.45" fill="none" stroke="#262626" stroke-width="1.0"/>
<rect x="389.80" y="386.00" width="17.20" height="16.30" rx="0.45" fill="none" stroke="#262626" stroke-width="1.0"/>
<rect x="410.60" y="386.00" width="17.20" height="16.30" rx="0.45" fill="none" stroke="#262626" stroke-width="1.0"/>
<rect x="431.40" y="386.00" width="17.20" height="16.30" rx="0.45" fill="none" stroke="#262626" stroke-width="1.0"/>
<rect x="452.20" y="386.00" width="17.20" height="16.30" rx="0.45" fill="none" stroke="#262626" stroke-width="1.0"/>
<rect x="473.00" y="386.00" width="17.20" height="16.30" rx="0.45" fill="none" stroke="#262626" stroke-width="1.0"/>
<rect x="410.60" y="405.75" width="17.20" height="16.30" rx="0.45" fill="none" stroke="#262626" stroke-width="1.0"/>
<rect x="431.40" y="405.75" width="17.20" height="16.30" rx="0.45" fill="none" stroke="#262626" stroke-width="1.0"/>
<rect x="452.20" y="405.75" width="17.20" height="16.30" rx="0.45" fill="none" stroke="#262626" stroke-width="1.0"/>
<rect x="473.00" y="405.75" width="17.20" height="16.30" rx="0.45" fill="none" stroke="#262626" stroke-width="1.0"/>
<rect x="410.60" y="425.50" width="17.20" height="16.30" rx="0.45" fill="none" stroke="#262626" stroke-width="1.0"/>
<rect x="431.40" y="425.50" width="17.20" height="16.30" rx="0.45" fill="none" stroke="#262626" stroke-width="1.0"/>
<rect x="68.60" y="29.70" width="427.50" height="416.70" fill="none" stroke="#3a3a3a" stroke-width="1"/>
<line x1="68.60" y1="132.00" x2="496.10" y2="132.00" stroke="#3a3a3a" stroke-width="1.00"/>
<line x1="68.60" y1="234.50" x2="496.10" y2="234.50" stroke="#3a3a3a" stroke-width="1.00"/>
<line x1="68.60" y1="243.40" x2="496.10" y2="243.40" stroke="#3a3a3a" stroke-width="1.00"/>
<line x1="68.60" y1="344.70" x2="496.10" y2="344.70" stroke="#3a3a3a" stroke-width="1.00"/>
<line x1="179.50" y1="29.70" x2="179.50" y2="234.50" stroke="#3a3a3a" stroke-width="1.00"/>
<line x1="179.70" y1="243.40" x2="179.70" y2="446.40" stroke="#3a3a3a" stroke-width="1.00"/>
<line x1="283.70" y1="29.70" x2="283.70" y2="234.50" stroke="#3a3a3a" stroke-width="1.00"/>
<line x1="283.90" y1="243.40" x2="283.90" y2="446.40" stroke="#3a3a3a" stroke-width="1.00"/>
<line x1="388.30" y1="29.70" x2="388.30" y2="234.50" stroke="#3a3a3a" stroke-width="1.00"/>
<line x1="388.50" y1="243.40" x2="388.50" y2="446.40" stroke="#3a3a3a" stroke-width="1.00"/>
<line x1="65.80" y1="42.65" x2="68.60" y2="42.65" stroke="#444" stroke-width="0.90"/>
<line x1="65.80" y1="107.90" x2="68.60" y2="107.90" stroke="#444" stroke-width="0.90"/>
<line x1="65.80" y1="173.20" x2="68.60" y2="173.20" stroke="#444" stroke-width="0.90"/>
<line x1="65.80" y1="238.30" x2="68.60" y2="238.30" stroke="#444" stroke-width="0.90"/>
<line x1="65.80" y1="302.90" x2="68.60" y2="302.90" stroke="#444" stroke-width="0.90"/>
<line x1="65.80" y1="368.20" x2="68.60" y2="368.20" stroke="#444" stroke-width="0.90"/>
<line x1="65.80" y1="433.30" x2="68.60" y2="433.30" stroke="#444" stroke-width="0.90"/>
<line x1="82.30" y1="446.40" x2="82.30" y2="449.20" stroke="#444" stroke-width="0.90"/>
<line x1="149.00" y1="446.40" x2="149.00" y2="449.20" stroke="#444" stroke-width="0.90"/>
<line x1="215.70" y1="446.40" x2="215.70" y2="449.20" stroke="#444" stroke-width="0.90"/>
<line x1="282.40" y1="446.40" x2="282.40" y2="449.20" stroke="#444" stroke-width="0.90"/>
<line x1="349.10" y1="446.40" x2="349.10" y2="449.20" stroke="#444" stroke-width="0.90"/>
<line x1="415.80" y1="446.40" x2="415.80" y2="449.20" stroke="#444" stroke-width="0.90"/>
<line x1="482.50" y1="446.40" x2="482.50" y2="449.20" stroke="#444" stroke-width="0.90"/>
<text x="63.10" y="48.85" font-size="16.2" text-anchor="end" textLength="33.4" lengthAdjust="spacingAndGlyphs" class="d">30.0</text>
<text x="63.10" y="114.10" font-size="16.2" text-anchor="end" textLength="33.4" lengthAdjust="spacingAndGlyphs" class="d">20.0</text>
<text x="63.10" y="179.40" font-size="16.2" text-anchor="end" textLength="33.4" lengthAdjust="spacingAndGlyphs" class="d">10.0</text>
<text x="63.10" y="244.50" font-size="16.2" text-anchor="end" textLength="23.8" lengthAdjust="spacingAndGlyphs" class="d">0.0</text>
<text x="63.10" y="309.10" font-size="16.2" text-anchor="end" textLength="38.8" lengthAdjust="spacingAndGlyphs" class="d">-10.0</text>
<text x="63.10" y="374.40" font-size="16.2" text-anchor="end" textLength="38.8" lengthAdjust="spacingAndGlyphs" class="d">-20.0</text>
<text x="63.10" y="439.50" font-size="16.2" text-anchor="end" textLength="38.8" lengthAdjust="spacingAndGlyphs" class="d">-30.0</text>
<text x="82.30" y="464.10" font-size="16.2" text-anchor="middle" textLength="38.8" lengthAdjust="spacingAndGlyphs" class="d">-30.0</text>
<text x="149.00" y="464.10" font-size="16.2" text-anchor="middle" textLength="38.8" lengthAdjust="spacingAndGlyphs" class="d">-20.0</text>
<text x="215.70" y="464.10" font-size="16.2" text-anchor="middle" textLength="38.8" lengthAdjust="spacingAndGlyphs" class="d">-10.0</text>
<text x="282.40" y="464.10" font-size="16.2" text-anchor="middle" textLength="23.8" lengthAdjust="spacingAndGlyphs" class="d">0.0</text>
<text x="349.10" y="464.10" font-size="16.2" text-anchor="middle" textLength="33.4" lengthAdjust="spacingAndGlyphs" class="d">10.0</text>
<text x="415.80" y="464.10" font-size="16.2" text-anchor="middle" textLength="33.4" lengthAdjust="spacingAndGlyphs" class="d">20.0</text>
<text x="482.50" y="464.10" font-size="16.2" text-anchor="middle" textLength="33.4" lengthAdjust="spacingAndGlyphs" class="d">30.0</text>
<text x="10.20" y="13.90" font-size="18.5">(a)</text>
<text x="218.30" y="13.60" font-size="18.2" textLength="144.0" lengthAdjust="spacingAndGlyphs">Planar 17Q wafer</text>
<text x="235.80" y="479.80" font-size="15.8" textLength="92.5" lengthAdjust="spacingAndGlyphs" class="d">X axis (mm)</text>
<text transform="translate(17.90 239.30) rotate(-90)" x="0" y="0" font-size="15.8" text-anchor="middle" textLength="93.0" lengthAdjust="spacingAndGlyphs" class="d">Y axis (mm)</text>
<text transform="translate(13.90 113.50) rotate(-90)" x="0" y="0" font-size="18.0" text-anchor="middle" textLength="106.0" lengthAdjust="spacingAndGlyphs" style="fill:#3cb371">Dolan-bridge</text>
<text transform="translate(13.80 367.20) rotate(-90)" x="0" y="0" font-size="18.2" text-anchor="middle" textLength="132.5" lengthAdjust="spacingAndGlyphs" style="fill:#f08080">Manhattan-style</text>
<rect x="512.40" y="127.20" width="11.50" height="214.50" fill="url(#cb)" stroke="#444" stroke-width="0.8"/>
<line x1="523.90" y1="127.20" x2="526.50" y2="127.20" stroke="#444" stroke-width="0.90"/>
<text x="528.10" y="133.60" font-size="16.2" textLength="23.5" lengthAdjust="spacingAndGlyphs" class="d">1.5</text>
<line x1="523.90" y1="148.65" x2="526.50" y2="148.65" stroke="#444" stroke-width="0.90"/>
<text x="528.10" y="155.05" font-size="16.2" textLength="23.5" lengthAdjust="spacingAndGlyphs" class="d">1.4</text>
<line x1="523.90" y1="170.10" x2="526.50" y2="170.10" stroke="#444" stroke-width="0.90"/>
<text x="528.10" y="176.50" font-size="16.2" textLength="23.5" lengthAdjust="spacingAndGlyphs" class="d">1.3</text>
<line x1="523.90" y1="191.55" x2="526.50" y2="191.55" stroke="#444" stroke-width="0.90"/>
<text x="528.10" y="197.95" font-size="16.2" textLength="23.5" lengthAdjust="spacingAndGlyphs" class="d">1.2</text>
<line x1="523.90" y1="213.00" x2="526.50" y2="213.00" stroke="#444" stroke-width="0.90"/>
<text x="528.10" y="219.40" font-size="16.2" textLength="23.5" lengthAdjust="spacingAndGlyphs" class="d">1.1</text>
<line x1="523.90" y1="234.45" x2="526.50" y2="234.45" stroke="#444" stroke-width="0.90"/>
<text x="528.10" y="240.85" font-size="16.2" textLength="23.5" lengthAdjust="spacingAndGlyphs" class="d">1.0</text>
<line x1="523.90" y1="255.90" x2="526.50" y2="255.90" stroke="#444" stroke-width="0.90"/>
<text x="528.10" y="262.30" font-size="16.2" textLength="23.5" lengthAdjust="spacingAndGlyphs" class="d">0.9</text>
<line x1="523.90" y1="277.35" x2="526.50" y2="277.35" stroke="#444" stroke-width="0.90"/>
<text x="528.10" y="283.75" font-size="16.2" textLength="23.5" lengthAdjust="spacingAndGlyphs" class="d">0.8</text>
<line x1="523.90" y1="298.80" x2="526.50" y2="298.80" stroke="#444" stroke-width="0.90"/>
<text x="528.10" y="305.20" font-size="16.2" textLength="23.5" lengthAdjust="spacingAndGlyphs" class="d">0.7</text>
<line x1="523.90" y1="320.25" x2="526.50" y2="320.25" stroke="#444" stroke-width="0.90"/>
<text x="528.10" y="326.65" font-size="16.2" textLength="23.5" lengthAdjust="spacingAndGlyphs" class="d">0.6</text>
<line x1="523.90" y1="341.70" x2="526.50" y2="341.70" stroke="#444" stroke-width="0.90"/>
<text x="528.10" y="348.10" font-size="16.2" textLength="23.5" lengthAdjust="spacingAndGlyphs" class="d">0.5</text>
<text class="d" transform="translate(571.2 360.3) rotate(-90)" x="0" y="0" font-size="15.8" textLength="251.5" lengthAdjust="spacingAndGlyphs">Normalized conductance (G/μ<tspan font-size="11" dy="3">G</tspan><tspan dy="-3">)</tspan></text>
<line x1="57.60" y1="518.60" x2="256.80" y2="518.60" stroke="#666" stroke-width="1.00"/>
<line x1="256.80" y1="518.60" x2="256.80" y2="657.00" stroke="#888" stroke-width="1.20"/>
<line x1="57.60" y1="657.00" x2="256.80" y2="657.00" stroke="#bbb" stroke-width="1.30"/>
<line x1="57.60" y1="518.60" x2="57.60" y2="657.00" stroke="#333" stroke-width="1.00"/>
<line x1="54.80" y1="657.00" x2="57.60" y2="657.00" stroke="#444" stroke-width="0.90"/>
<text x="52.30" y="663.40" font-size="16.2" text-anchor="end" textLength="9.5" lengthAdjust="spacingAndGlyphs" class="d">0</text>
<line x1="57.60" y1="657.00" x2="57.60" y2="659.80" stroke="#444" stroke-width="0.90"/>
<text x="57.60" y="674.20" font-size="16.2" text-anchor="middle" textLength="9.5" lengthAdjust="spacingAndGlyphs" class="d">0</text>
<line x1="54.80" y1="622.40" x2="57.60" y2="622.40" stroke="#444" stroke-width="0.90"/>
<text x="52.30" y="628.80" font-size="16.2" text-anchor="end" textLength="9.5" lengthAdjust="spacingAndGlyphs" class="d">2</text>
<line x1="107.40" y1="657.00" x2="107.40" y2="659.80" stroke="#444" stroke-width="0.90"/>
<text x="107.40" y="674.20" font-size="16.2" text-anchor="middle" textLength="9.5" lengthAdjust="spacingAndGlyphs" class="d">2</text>
<line x1="54.80" y1="587.80" x2="57.60" y2="587.80" stroke="#444" stroke-width="0.90"/>
<text x="52.30" y="594.20" font-size="16.2" text-anchor="end" textLength="9.5" lengthAdjust="spacingAndGlyphs" class="d">4</text>
<line x1="157.20" y1="657.00" x2="157.20" y2="659.80" stroke="#444" stroke-width="0.90"/>
<text x="157.20" y="674.20" font-size="16.2" text-anchor="middle" textLength="9.5" lengthAdjust="spacingAndGlyphs" class="d">4</text>
<line x1="54.80" y1="553.20" x2="57.60" y2="553.20" stroke="#444" stroke-width="0.90"/>
<text x="52.30" y="559.60" font-size="16.2" text-anchor="end" textLength="9.5" lengthAdjust="spacingAndGlyphs" class="d">6</text>
<line x1="207.00" y1="657.00" x2="207.00" y2="659.80" stroke="#444" stroke-width="0.90"/>
<text x="207.00" y="674.20" font-size="16.2" text-anchor="middle" textLength="9.5" lengthAdjust="spacingAndGlyphs" class="d">6</text>
<line x1="54.80" y1="518.60" x2="57.60" y2="518.60" stroke="#444" stroke-width="0.90"/>
<text x="52.30" y="525.00" font-size="16.2" text-anchor="end" textLength="9.5" lengthAdjust="spacingAndGlyphs" class="d">8</text>
<line x1="256.80" y1="657.00" x2="256.80" y2="659.80" stroke="#444" stroke-width="0.90"/>
<text x="256.80" y="674.20" font-size="16.2" text-anchor="middle" textLength="9.5" lengthAdjust="spacingAndGlyphs" class="d">8</text>
<text x="15.00" y="496.20" font-size="18.5">(b)</text>
<text class="d" transform="translate(36.7 587.8) rotate(-90)" x="0" y="0" font-size="15.8" text-anchor="middle" textLength="101.5" lengthAdjust="spacingAndGlyphs">CV (σ<tspan font-size="11" dy="3">G</tspan><tspan dy="-3">/μ</tspan><tspan font-size="11" dy="3">G</tspan><tspan dy="-3"> %)</tspan></text>
<text x="77.90" y="691.60" font-size="15.8" textLength="20.6" lengthAdjust="spacingAndGlyphs" class="d">2A</text>
<text x="98.20" y="694.50" font-size="11.0" textLength="40.0" lengthAdjust="spacingAndGlyphs" class="d">overlap</text>
<text x="144.00" y="691.60" font-size="15.8" textLength="37.3" lengthAdjust="spacingAndGlyphs" class="d">(×10</text>
<text x="182.80" y="686.00" font-size="11.0" textLength="14.5" lengthAdjust="spacingAndGlyphs" class="d">−2</text>
<text x="198.00" y="691.60" font-size="15.8" textLength="24.3" lengthAdjust="spacingAndGlyphs" class="d">μm</text>
<text x="223.00" y="686.00" font-size="11.0" textLength="6.2" lengthAdjust="spacingAndGlyphs" class="d">2</text>
<text x="230.60" y="691.60" font-size="15.8" textLength="5.4" lengthAdjust="spacingAndGlyphs" class="d">)</text>
<circle cx="124.2" cy="593.1" r="3.5" fill="#3cb371" fill-opacity="0.7"/>
<circle cx="111.4" cy="604.6" r="3.5" fill="#3cb371" fill-opacity="0.7"/>
<circle cx="114.8" cy="610.6" r="3.5" fill="#3cb371" fill-opacity="0.7"/>
<circle cx="121.2" cy="612.0" r="3.5" fill="#3cb371" fill-opacity="0.7"/>
<circle cx="118.0" cy="617.1" r="3.5" fill="#3cb371" fill-opacity="0.7"/>
<circle cx="105.0" cy="618.5" r="3.5" fill="#3cb371" fill-opacity="0.7"/>
<circle cx="108.5" cy="621.7" r="3.5" fill="#3cb371" fill-opacity="0.7"/>
<circle cx="127.4" cy="616.2" r="3.5" fill="#3cb371" fill-opacity="0.7"/>
<circle cx="130.9" cy="610.9" r="3.5" fill="#3cb371" fill-opacity="0.7"/>
<circle cx="134.0" cy="612.0" r="3.5" fill="#3cb371" fill-opacity="0.7"/>
<circle cx="137.2" cy="617.1" r="3.5" fill="#3cb371" fill-opacity="0.7"/>
<circle cx="143.7" cy="618.5" r="3.5" fill="#3cb371" fill-opacity="0.7"/>
<circle cx="140.2" cy="624.1" r="3.5" fill="#3cb371" fill-opacity="0.7"/>
<circle cx="156.2" cy="616.2" r="3.5" fill="#3cb371" fill-opacity="0.7"/>
<circle cx="159.3" cy="617.5" r="3.5" fill="#3cb371" fill-opacity="0.7"/>
<circle cx="162.9" cy="623.1" r="3.5" fill="#3cb371" fill-opacity="0.7"/>
<circle cx="169.0" cy="623.4" r="3.5" fill="#3cb371" fill-opacity="0.7"/>
<circle cx="166.0" cy="627.6" r="3.5" fill="#3cb371" fill-opacity="0.7"/>
<circle cx="172.3" cy="605.3" r="3.5" fill="#3cb371" fill-opacity="0.7"/>
<circle cx="175.6" cy="616.6" r="3.5" fill="#3cb371" fill-opacity="0.7"/>
<circle cx="153.2" cy="633.4" r="3.5" fill="#3cb371" fill-opacity="0.7"/>
<circle cx="146.8" cy="638.7" r="3.5" fill="#3cb371" fill-opacity="0.7"/>
<circle cx="150.0" cy="639.4" r="3.5" fill="#3cb371" fill-opacity="0.7"/>
<circle cx="178.5" cy="592.1" r="3.5" fill="#3cb371" fill-opacity="0.7"/>
<circle cx="181.8" cy="622.0" r="3.5" fill="#3cb371" fill-opacity="0.7"/>
<circle cx="184.6" cy="624.8" r="3.5" fill="#3cb371" fill-opacity="0.7"/>
<circle cx="188.1" cy="625.9" r="3.5" fill="#3cb371" fill-opacity="0.7"/>
<circle cx="197.8" cy="618.9" r="3.5" fill="#3cb371" fill-opacity="0.7"/>
<circle cx="201.0" cy="622.5" r="3.5" fill="#3cb371" fill-opacity="0.7"/>
<circle cx="204.2" cy="623.3" r="3.5" fill="#3cb371" fill-opacity="0.7"/>
<circle cx="207.3" cy="629.2" r="3.5" fill="#3cb371" fill-opacity="0.7"/>
<circle cx="210.5" cy="623.7" r="3.5" fill="#3cb371" fill-opacity="0.7"/>
<circle cx="213.7" cy="629.3" r="3.5" fill="#3cb371" fill-opacity="0.7"/>
<circle cx="216.8" cy="623.3" r="3.5" fill="#3cb371" fill-opacity="0.7"/>
<circle cx="219.9" cy="625.9" r="3.5" fill="#3cb371" fill-opacity="0.7"/>
<circle cx="223.0" cy="630.2" r="3.5" fill="#3cb371" fill-opacity="0.7"/>
<circle cx="226.5" cy="631.3" r="3.5" fill="#3cb371" fill-opacity="0.7"/>
<circle cx="229.7" cy="630.2" r="3.5" fill="#3cb371" fill-opacity="0.7"/>
<circle cx="232.9" cy="636.5" r="3.5" fill="#3cb371" fill-opacity="0.7"/>
<circle cx="236.0" cy="632.6" r="3.5" fill="#3cb371" fill-opacity="0.7"/>
<circle cx="239.4" cy="635.8" r="3.5" fill="#3cb371" fill-opacity="0.7"/>
<circle cx="191.6" cy="641.2" r="3.5" fill="#3cb371" fill-opacity="0.7"/>
<circle cx="194.8" cy="639.0" r="3.5" fill="#3cb371" fill-opacity="0.7"/>
<circle cx="104.9" cy="535.3" r="3.5" fill="#f08080" fill-opacity="0.7"/>
<circle cx="108.3" cy="538.8" r="3.5" fill="#f08080" fill-opacity="0.7"/>
<circle cx="114.6" cy="544.5" r="3.5" fill="#f08080" fill-opacity="0.7"/>
<circle cx="111.4" cy="553.9" r="3.5" fill="#f08080" fill-opacity="0.7"/>
<circle cx="117.8" cy="555.7" r="3.5" fill="#f08080" fill-opacity="0.7"/>
<circle cx="124.3" cy="558.5" r="3.5" fill="#f08080" fill-opacity="0.7"/>
<circle cx="127.4" cy="567.3" r="3.5" fill="#f08080" fill-opacity="0.7"/>
<circle cx="130.9" cy="565.5" r="3.5" fill="#f08080" fill-opacity="0.7"/>
<circle cx="136.9" cy="567.3" r="3.5" fill="#f08080" fill-opacity="0.7"/>
<circle cx="140.6" cy="566.6" r="3.5" fill="#f08080" fill-opacity="0.7"/>
<circle cx="121.1" cy="572.9" r="3.5" fill="#f08080" fill-opacity="0.7"/>
<circle cx="133.8" cy="577.6" r="3.5" fill="#f08080" fill-opacity="0.7"/>
<circle cx="143.4" cy="587.5" r="3.5" fill="#f08080" fill-opacity="0.7"/>
<circle cx="169.1" cy="563.7" r="3.5" fill="#f08080" fill-opacity="0.7"/>
<circle cx="156.3" cy="580.8" r="3.5" fill="#f08080" fill-opacity="0.7"/>
<circle cx="159.5" cy="577.0" r="3.5" fill="#f08080" fill-opacity="0.7"/>
<circle cx="162.6" cy="574.5" r="3.5" fill="#f08080" fill-opacity="0.7"/>
<circle cx="165.7" cy="589.0" r="3.5" fill="#f08080" fill-opacity="0.7"/>
<circle cx="172.1" cy="580.4" r="3.5" fill="#f08080" fill-opacity="0.7"/>
<circle cx="175.2" cy="586.0" r="3.5" fill="#f08080" fill-opacity="0.7"/>
<circle cx="178.3" cy="580.7" r="3.5" fill="#f08080" fill-opacity="0.7"/>
<circle cx="181.9" cy="568.8" r="3.5" fill="#f08080" fill-opacity="0.7"/>
<circle cx="185.0" cy="572.1" r="3.5" fill="#f08080" fill-opacity="0.7"/>
<circle cx="188.2" cy="591.5" r="3.5" fill="#f08080" fill-opacity="0.7"/>
<circle cx="191.3" cy="606.6" r="3.5" fill="#f08080" fill-opacity="0.7"/>
<circle cx="204.1" cy="573.6" r="3.5" fill="#f08080" fill-opacity="0.7"/>
<circle cx="210.4" cy="571.6" r="3.5" fill="#f08080" fill-opacity="0.7"/>
<circle cx="197.6" cy="583.2" r="3.5" fill="#f08080" fill-opacity="0.7"/>
<circle cx="201.0" cy="586.6" r="3.5" fill="#f08080" fill-opacity="0.7"/>
<circle cx="207.3" cy="593.3" r="3.5" fill="#f08080" fill-opacity="0.7"/>
<circle cx="216.9" cy="598.2" r="3.5" fill="#f08080" fill-opacity="0.7"/>
<circle cx="223.0" cy="608.6" r="3.5" fill="#f08080" fill-opacity="0.7"/>
<circle cx="226.5" cy="611.3" r="3.5" fill="#f08080" fill-opacity="0.7"/>
<circle cx="229.6" cy="615.8" r="3.5" fill="#f08080" fill-opacity="0.7"/>
<circle cx="236.1" cy="610.1" r="3.5" fill="#f08080" fill-opacity="0.7"/>
<circle cx="239.4" cy="615.2" r="3.5" fill="#f08080" fill-opacity="0.7"/>
<circle cx="213.5" cy="614.0" r="3.5" fill="#f08080" fill-opacity="0.7"/>
<circle cx="220.0" cy="617.1" r="3.5" fill="#f08080" fill-opacity="0.7"/>
<circle cx="194.3" cy="621.3" r="3.5" fill="#f08080" fill-opacity="0.7"/>
<circle cx="232.8" cy="635.3" r="3.5" fill="#f08080" fill-opacity="0.7"/>
<circle cx="153.2" cy="605.3" r="3.5" fill="#f08080" fill-opacity="0.7"/>
<circle cx="146.5" cy="612.3" r="3.5" fill="#f08080" fill-opacity="0.7"/>
<circle cx="150.0" cy="614.8" r="3.5" fill="#f08080" fill-opacity="0.7"/>
<line x1="347.50" y1="518.60" x2="546.40" y2="518.60" stroke="#333" stroke-width="1.00"/>
<line x1="546.40" y1="518.60" x2="546.40" y2="657.50" stroke="#777" stroke-width="1.10"/>
<line x1="347.50" y1="657.50" x2="546.40" y2="657.50" stroke="#222" stroke-width="1.00"/>
<line x1="347.50" y1="518.60" x2="347.50" y2="657.50" stroke="#777" stroke-width="1.10"/>
<line x1="344.70" y1="657.50" x2="347.50" y2="657.50" stroke="#444" stroke-width="0.90"/>
<text x="342.10" y="663.90" font-size="16.2" text-anchor="end" textLength="9.4" lengthAdjust="spacingAndGlyphs" class="d">0</text>
<line x1="344.70" y1="611.20" x2="347.50" y2="611.20" stroke="#444" stroke-width="0.90"/>
<text x="342.10" y="617.60" font-size="16.2" text-anchor="end" textLength="28.2" lengthAdjust="spacingAndGlyphs" class="d">100</text>
<line x1="344.70" y1="564.90" x2="347.50" y2="564.90" stroke="#444" stroke-width="0.90"/>
<text x="342.10" y="571.30" font-size="16.2" text-anchor="end" textLength="28.2" lengthAdjust="spacingAndGlyphs" class="d">200</text>
<line x1="344.70" y1="518.60" x2="347.50" y2="518.60" stroke="#444" stroke-width="0.90"/>
<text x="342.10" y="525.00" font-size="16.2" text-anchor="end" textLength="28.2" lengthAdjust="spacingAndGlyphs" class="d">300</text>
<line x1="347.50" y1="657.50" x2="347.50" y2="660.30" stroke="#444" stroke-width="0.90"/>
<text x="347.50" y="674.20" font-size="16.2" text-anchor="middle" textLength="23.6" lengthAdjust="spacingAndGlyphs" class="d">-40</text>
<line x1="397.23" y1="657.50" x2="397.23" y2="660.30" stroke="#444" stroke-width="0.90"/>
<text x="397.23" y="674.20" font-size="16.2" text-anchor="middle" textLength="23.6" lengthAdjust="spacingAndGlyphs" class="d">-20</text>
<line x1="446.95" y1="657.50" x2="446.95" y2="660.30" stroke="#444" stroke-width="0.90"/>
<text x="446.95" y="674.20" font-size="16.2" text-anchor="middle" textLength="9.3" lengthAdjust="spacingAndGlyphs" class="d">0</text>
<line x1="496.67" y1="657.50" x2="496.67" y2="660.30" stroke="#444" stroke-width="0.90"/>
<text x="496.67" y="674.20" font-size="16.2" text-anchor="middle" textLength="18.6" lengthAdjust="spacingAndGlyphs" class="d">20</text>
<line x1="546.40" y1="657.50" x2="546.40" y2="660.30" stroke="#444" stroke-width="0.90"/>
<text x="546.40" y="674.20" font-size="16.2" text-anchor="middle" textLength="18.6" lengthAdjust="spacingAndGlyphs" class="d">40</text>
<text x="268.90" y="504.10" font-size="18.5">(c)</text>
<text class="d" transform="translate(308.5 588.2) rotate(-90)" x="0" y="0" font-size="15.8" text-anchor="middle" textLength="154" lengthAdjust="spacingAndGlyphs">Die-level RSD (MHz)</text>
<text class="d" x="383.9" y="689.3" font-size="15.8" textLength="124.7" lengthAdjust="spacingAndGlyphs">sgn(<tspan font-style="italic">x</tspan>) × d (mm)</text>
<circle cx="356.6" cy="614.3" r="3.5" fill="#3cb371" fill-opacity="0.7"/>
<circle cx="379.6" cy="613.4" r="3.5" fill="#3cb371" fill-opacity="0.7"/>
<circle cx="379.6" cy="613.4" r="3.5" fill="#3cb371" fill-opacity="0.7"/>
<circle cx="417.0" cy="608.0" r="3.5" fill="#3cb371" fill-opacity="0.7"/>
<circle cx="477.4" cy="618.8" r="3.5" fill="#3cb371" fill-opacity="0.7"/>
<circle cx="514.5" cy="594.9" r="3.5" fill="#3cb371" fill-opacity="0.7"/>
<circle cx="514.5" cy="617.0" r="3.5" fill="#3cb371" fill-opacity="0.7"/>
<circle cx="536.6" cy="615.4" r="3.5" fill="#3cb371" fill-opacity="0.7"/>
<circle cx="356.6" cy="565.4" r="3.5" fill="#f08080" fill-opacity="0.7"/>
<circle cx="379.6" cy="546.8" r="3.5" fill="#f08080" fill-opacity="0.7"/>
<circle cx="379.6" cy="590.7" r="3.5" fill="#f08080" fill-opacity="0.7"/>
<circle cx="477.4" cy="603.4" r="3.5" fill="#f08080" fill-opacity="0.7"/>
<circle cx="514.5" cy="578.7" r="3.5" fill="#f08080" fill-opacity="0.7"/>
<circle cx="514.5" cy="605.1" r="3.5" fill="#f08080" fill-opacity="0.7"/>
<circle cx="536.6" cy="584.2" r="3.5" fill="#f08080" fill-opacity="0.7"/>
<circle cx="417.0" cy="609.3" r="3.5" fill="#f08080" fill-opacity="0.7"/>
<rect x="120.5" y="706.7" width="338.7" height="26.6" rx="2.5" fill="#fff" stroke="#d9d9d9" stroke-width="1"/>
<circle cx="141.4" cy="719.0" r="3.5" fill="#3cb371" fill-opacity="0.7"/>
<circle cx="289.9" cy="719.0" r="3.5" fill="#f08080" fill-opacity="0.7"/>
<text x="168.60" y="724.90" font-size="15.8" textLength="98.8" lengthAdjust="spacingAndGlyphs" class="d">Planar Dolan</text>
<text x="317.00" y="724.90" font-size="15.8" textLength="137.0" lengthAdjust="spacingAndGlyphs" class="d">Planar Manhattan</text>
</svg></body></html>
